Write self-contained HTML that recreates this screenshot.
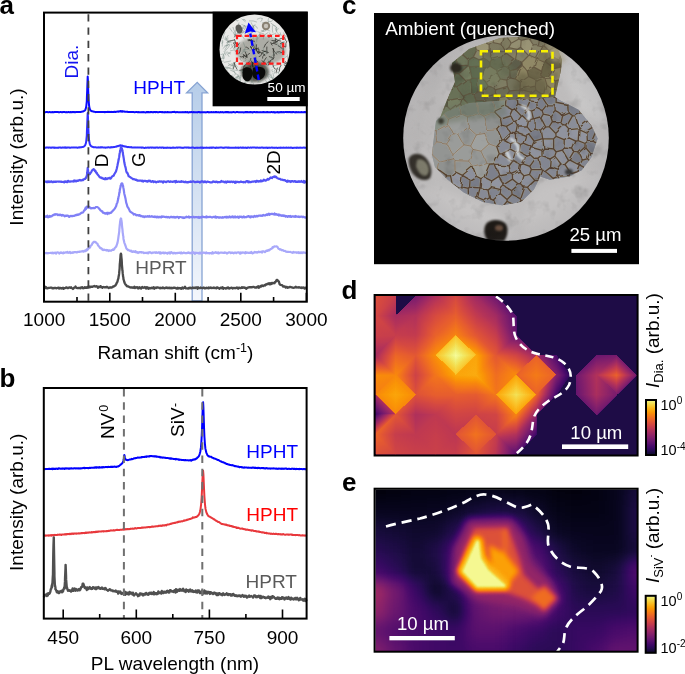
<!DOCTYPE html>
<html><head><meta charset="utf-8"><style>
html,body{margin:0;padding:0;background:#fff;}
svg{display:block;font-family:"Liberation Sans", sans-serif;filter:blur(0.4px);}
</style></head><body>
<svg width="685" height="674" viewBox="0 0 685 674">
<defs><filter id="be1" color-interpolation-filters="sRGB" x="-10%" y="-10%" width="120%" height="120%"><feGaussianBlur stdDeviation="7"/></filter><filter id="be2" color-interpolation-filters="sRGB" x="-20%" y="-20%" width="140%" height="140%"><feGaussianBlur stdDeviation="3.5"/></filter><filter id="be3" color-interpolation-filters="sRGB" x="-20%" y="-20%" width="140%" height="140%"><feGaussianBlur stdDeviation="2.4"/></filter><filter id="be4" color-interpolation-filters="sRGB" x="-20%" y="-20%" width="140%" height="140%"><feGaussianBlur stdDeviation="1.3"/></filter><clipPath id="clipe"><rect x="375.5" y="489.5" width="261.5" height="161.5"/></clipPath><filter id="infm" x="0" y="0" width="100%" height="100%" color-interpolation-filters="sRGB"><feComponentTransfer><feFuncR type="table" tableValues="0.0015 0.0060 0.0140 0.0258 0.0423 0.0613 0.0820 0.1046 0.1293 0.1558 0.1834 0.2111 0.2383 0.2648 0.2908 0.3163 0.3478 0.3728 0.3977 0.4225 0.4474 0.4723 0.4973 0.5222 0.5472 0.5721 0.5969 0.6217 0.6463 0.6706 0.6946 0.7183 0.7471 0.7696 0.7913 0.8122 0.8323 0.8514 0.8694 0.8863 0.9020 0.9165 0.9296 0.9415 0.9521 0.9613 0.9692 0.9757 0.9819 0.9853 0.9873 0.9879 0.9871 0.9849 0.9812 0.9761 0.9698 0.9625 0.9550 0.9487 0.9464 0.9517 0.9662 0.9884"/><feFuncG type="table" tableValues="0.0005 0.0047 0.0112 0.0193 0.0281 0.0366 0.0433 0.0470 0.0473 0.0446 0.0403 0.0370 0.0366 0.0396 0.0456 0.0535 0.0646 0.0739 0.0833 0.0925 0.1016 0.1105 0.1194 0.1281 0.1369 0.1458 0.1548 0.1642 0.1739 0.1842 0.1950 0.2066 0.2224 0.2361 0.2509 0.2668 0.2839 0.3023 0.3218 0.3426 0.3645 0.3875 0.4115 0.4364 0.4622 0.4887 0.5159 0.5438 0.5794 0.6084 0.6379 0.6677 0.6979 0.7284 0.7591 0.7900 0.8208 0.8515 0.8816 0.9105 0.9372 0.9606 0.9807 0.9984"/><feFuncB type="table" tableValues="0.0139 0.0386 0.0719 0.1059 0.1411 0.1776 0.2153 0.2534 0.2908 0.3253 0.3550 0.3786 0.3964 0.4093 0.4186 0.4251 0.4302 0.4324 0.4332 0.4327 0.4311 0.4283 0.4245 0.4195 0.4135 0.4064 0.3981 0.3888 0.3784 0.3669 0.3544 0.3409 0.3229 0.3075 0.2914 0.2747 0.2574 0.2396 0.2215 0.2030 0.1841 0.1649 0.1454 0.1254 0.1050 0.0843 0.0635 0.0436 0.0262 0.0242 0.0349 0.0583 0.0877 0.1208 0.1569 0.1960 0.2387 0.2855 0.3375 0.3953 0.4586 0.5242 0.5872 0.6449"/></feComponentTransfer></filter><linearGradient id="dg0" gradientUnits="userSpaceOnUse" x1="391.14" y1="306.44" x2="374.25" y2="299.10"><stop offset="0" stop-color="#878787"/><stop offset="1" stop-color="#999999"/></linearGradient><linearGradient id="dg1" gradientUnits="userSpaceOnUse" x1="396.64" y1="314.37" x2="382.86" y2="305.05"><stop offset="0" stop-color="#737373"/><stop offset="1" stop-color="#919191"/></linearGradient><linearGradient id="dg2" gradientUnits="userSpaceOnUse" x1="406.81" y1="297.76" x2="410.57" y2="316.81"><stop offset="0" stop-color="#545454"/><stop offset="1" stop-color="#7a7a7a"/></linearGradient><linearGradient id="dg3" gradientUnits="userSpaceOnUse" x1="416.10" y1="295.69" x2="425.96" y2="306.41"><stop offset="0" stop-color="#545454"/><stop offset="1" stop-color="#7a7a7a"/></linearGradient><linearGradient id="dg4" gradientUnits="userSpaceOnUse" x1="425.57" y1="305.20" x2="435.41" y2="316.18"><stop offset="0" stop-color="#787878"/><stop offset="1" stop-color="#949494"/></linearGradient><linearGradient id="dg5" gradientUnits="userSpaceOnUse" x1="437.21" y1="294.06" x2="459.90" y2="310.18"><stop offset="0" stop-color="#787878"/><stop offset="1" stop-color="#a3a3a3"/></linearGradient><linearGradient id="dg6" gradientUnits="userSpaceOnUse" x1="435.53" y1="296.17" x2="448.29" y2="319.89"><stop offset="0" stop-color="#787878"/><stop offset="1" stop-color="#a3a3a3"/></linearGradient><linearGradient id="dg7" gradientUnits="userSpaceOnUse" x1="475.92" y1="295.85" x2="451.97" y2="308.00"><stop offset="0" stop-color="#6e6e6e"/><stop offset="1" stop-color="#a3a3a3"/></linearGradient><linearGradient id="dg8" gradientUnits="userSpaceOnUse" x1="479.90" y1="301.13" x2="457.65" y2="318.06"><stop offset="0" stop-color="#6e6e6e"/><stop offset="1" stop-color="#a3a3a3"/></linearGradient><linearGradient id="dg9" gradientUnits="userSpaceOnUse" x1="495.72" y1="295.67" x2="485.87" y2="306.44"><stop offset="0" stop-color="#4c4c4c"/><stop offset="1" stop-color="#707070"/></linearGradient><linearGradient id="dg10" gradientUnits="userSpaceOnUse" x1="486.33" y1="305.05" x2="476.52" y2="316.24"><stop offset="0" stop-color="#6e6e6e"/><stop offset="1" stop-color="#858585"/></linearGradient><linearGradient id="dg11" gradientUnits="userSpaceOnUse" x1="508.20" y1="305.14" x2="495.32" y2="314.77"><stop offset="0" stop-color="#404040"/><stop offset="1" stop-color="#707070"/></linearGradient><linearGradient id="dg12" gradientUnits="userSpaceOnUse" x1="396.64" y1="317.21" x2="382.86" y2="326.53"><stop offset="0" stop-color="#737373"/><stop offset="1" stop-color="#919191"/></linearGradient><linearGradient id="dg13" gradientUnits="userSpaceOnUse" x1="385.55" y1="338.91" x2="377.73" y2="315.09"><stop offset="0" stop-color="#878787"/><stop offset="1" stop-color="#919191"/></linearGradient><linearGradient id="dg14" gradientUnits="userSpaceOnUse" x1="399.42" y1="314.41" x2="405.86" y2="331.82"><stop offset="0" stop-color="#737373"/><stop offset="1" stop-color="#878787"/></linearGradient><linearGradient id="dg15" gradientUnits="userSpaceOnUse" x1="412.51" y1="314.99" x2="406.77" y2="338.31"><stop offset="0" stop-color="#7a7a7a"/><stop offset="1" stop-color="#878787"/></linearGradient><linearGradient id="dg16" gradientUnits="userSpaceOnUse" x1="417.13" y1="313.85" x2="439.82" y2="329.97"><stop offset="0" stop-color="#7a7a7a"/><stop offset="1" stop-color="#a6a6a6"/></linearGradient><linearGradient id="dg17" gradientUnits="userSpaceOnUse" x1="412.60" y1="325.91" x2="436.53" y2="333.38"><stop offset="0" stop-color="#7a7a7a"/><stop offset="1" stop-color="#a6a6a6"/></linearGradient><linearGradient id="dg18" gradientUnits="userSpaceOnUse" x1="436.49" y1="315.24" x2="446.25" y2="326.79"><stop offset="0" stop-color="#949494"/><stop offset="1" stop-color="#a6a6a6"/></linearGradient><linearGradient id="dg19" gradientUnits="userSpaceOnUse" x1="445.59" y1="324.84" x2="455.40" y2="336.03"><stop offset="0" stop-color="#a3a3a3"/><stop offset="1" stop-color="#bababa"/></linearGradient><linearGradient id="dg20" gradientUnits="userSpaceOnUse" x1="476.46" y1="316.34" x2="464.75" y2="326.24"><stop offset="0" stop-color="#858585"/><stop offset="1" stop-color="#a3a3a3"/></linearGradient><linearGradient id="dg21" gradientUnits="userSpaceOnUse" x1="467.30" y1="325.10" x2="455.41" y2="334.96"><stop offset="0" stop-color="#9e9e9e"/><stop offset="1" stop-color="#bababa"/></linearGradient><linearGradient id="dg22" gradientUnits="userSpaceOnUse" x1="491.03" y1="311.81" x2="473.71" y2="333.78"><stop offset="0" stop-color="#707070"/><stop offset="1" stop-color="#9e9e9e"/></linearGradient><linearGradient id="dg23" gradientUnits="userSpaceOnUse" x1="499.28" y1="318.94" x2="479.49" y2="339.02"><stop offset="0" stop-color="#707070"/><stop offset="1" stop-color="#9e9e9e"/></linearGradient><linearGradient id="dg24" gradientUnits="userSpaceOnUse" x1="517.36" y1="320.28" x2="498.62" y2="325.28"><stop offset="0" stop-color="#404040"/><stop offset="1" stop-color="#707070"/></linearGradient><linearGradient id="dg25" gradientUnits="userSpaceOnUse" x1="512.07" y1="325.29" x2="494.73" y2="332.18"><stop offset="0" stop-color="#4c4c4c"/><stop offset="1" stop-color="#878787"/></linearGradient><linearGradient id="dg26" gradientUnits="userSpaceOnUse" x1="383.64" y1="354.49" x2="381.50" y2="334.93"><stop offset="0" stop-color="#737373"/><stop offset="1" stop-color="#8a8a8a"/></linearGradient><linearGradient id="dg27" gradientUnits="userSpaceOnUse" x1="382.36" y1="344.61" x2="396.76" y2="353.65"><stop offset="0" stop-color="#737373"/><stop offset="1" stop-color="#a8a8a8"/></linearGradient><linearGradient id="dg28" gradientUnits="userSpaceOnUse" x1="409.77" y1="334.99" x2="407.84" y2="354.59"><stop offset="0" stop-color="#858585"/><stop offset="1" stop-color="#9e9e9e"/></linearGradient><linearGradient id="dg29" gradientUnits="userSpaceOnUse" x1="405.47" y1="338.55" x2="399.98" y2="356.67"><stop offset="0" stop-color="#878787"/><stop offset="1" stop-color="#a8a8a8"/></linearGradient><linearGradient id="dg30" gradientUnits="userSpaceOnUse" x1="415.09" y1="336.43" x2="427.57" y2="346.17"><stop offset="0" stop-color="#858585"/><stop offset="1" stop-color="#a6a6a6"/></linearGradient><linearGradient id="dg31" gradientUnits="userSpaceOnUse" x1="424.18" y1="344.81" x2="436.45" y2="354.60"><stop offset="0" stop-color="#9e9e9e"/><stop offset="1" stop-color="#c2c2c2"/></linearGradient><linearGradient id="dg32" gradientUnits="userSpaceOnUse" x1="437.14" y1="334.65" x2="446.51" y2="347.72"><stop offset="0" stop-color="#a6a6a6"/><stop offset="1" stop-color="#c2c2c2"/></linearGradient><linearGradient id="dg33" gradientUnits="userSpaceOnUse" x1="445.93" y1="345.43" x2="455.82" y2="355.47"><stop offset="0" stop-color="#dbdbdb"/><stop offset="1" stop-color="#fcfcfc"/></linearGradient><linearGradient id="dg34" gradientUnits="userSpaceOnUse" x1="474.00" y1="334.38" x2="465.26" y2="348.90"><stop offset="0" stop-color="#9e9e9e"/><stop offset="1" stop-color="#cccccc"/></linearGradient><linearGradient id="dg35" gradientUnits="userSpaceOnUse" x1="465.91" y1="345.43" x2="456.02" y2="355.47"><stop offset="0" stop-color="#dbdbdb"/><stop offset="1" stop-color="#fcfcfc"/></linearGradient><linearGradient id="dg36" gradientUnits="userSpaceOnUse" x1="495.98" y1="335.48" x2="486.09" y2="345.52"><stop offset="0" stop-color="#878787"/><stop offset="1" stop-color="#9e9e9e"/></linearGradient><linearGradient id="dg37" gradientUnits="userSpaceOnUse" x1="485.99" y1="345.43" x2="476.10" y2="355.47"><stop offset="0" stop-color="#9e9e9e"/><stop offset="1" stop-color="#cccccc"/></linearGradient><linearGradient id="dg38" gradientUnits="userSpaceOnUse" x1="516.60" y1="336.69" x2="492.47" y2="346.27"><stop offset="0" stop-color="#4c4c4c"/><stop offset="1" stop-color="#9e9e9e"/></linearGradient><linearGradient id="dg39" gradientUnits="userSpaceOnUse" x1="512.65" y1="334.78" x2="507.38" y2="357.94"><stop offset="0" stop-color="#4c4c4c"/><stop offset="1" stop-color="#9e9e9e"/></linearGradient><linearGradient id="dg40" gradientUnits="userSpaceOnUse" x1="526.68" y1="340.36" x2="519.22" y2="356.76"><stop offset="0" stop-color="#4c4c4c"/><stop offset="1" stop-color="#8f8f8f"/></linearGradient><linearGradient id="dg41" gradientUnits="userSpaceOnUse" x1="375.12" y1="356.61" x2="399.25" y2="365.93"><stop offset="0" stop-color="#737373"/><stop offset="1" stop-color="#bdbdbd"/></linearGradient><linearGradient id="dg42" gradientUnits="userSpaceOnUse" x1="382.72" y1="355.60" x2="382.07" y2="375.37"><stop offset="0" stop-color="#737373"/><stop offset="1" stop-color="#bfbfbf"/></linearGradient><linearGradient id="dg43" gradientUnits="userSpaceOnUse" x1="407.60" y1="351.35" x2="395.83" y2="375.24"><stop offset="0" stop-color="#9e9e9e"/><stop offset="1" stop-color="#bdbdbd"/></linearGradient><linearGradient id="dg44" gradientUnits="userSpaceOnUse" x1="417.10" y1="371.57" x2="399.48" y2="364.98"><stop offset="0" stop-color="#8c8c8c"/><stop offset="1" stop-color="#bdbdbd"/></linearGradient><linearGradient id="dg45" gradientUnits="userSpaceOnUse" x1="420.30" y1="365.81" x2="437.19" y2="358.47"><stop offset="0" stop-color="#9e9e9e"/><stop offset="1" stop-color="#c2c2c2"/></linearGradient><linearGradient id="dg46" gradientUnits="userSpaceOnUse" x1="414.43" y1="372.36" x2="430.84" y2="364.59"><stop offset="0" stop-color="#8c8c8c"/><stop offset="1" stop-color="#b2b2b2"/></linearGradient><linearGradient id="dg47" gradientUnits="userSpaceOnUse" x1="445.93" y1="365.31" x2="455.82" y2="355.27"><stop offset="0" stop-color="#dbdbdb"/><stop offset="1" stop-color="#fcfcfc"/></linearGradient><linearGradient id="dg48" gradientUnits="userSpaceOnUse" x1="434.72" y1="373.32" x2="449.37" y2="364.40"><stop offset="0" stop-color="#b2b2b2"/><stop offset="1" stop-color="#cccccc"/></linearGradient><linearGradient id="dg49" gradientUnits="userSpaceOnUse" x1="465.91" y1="365.31" x2="456.02" y2="355.27"><stop offset="0" stop-color="#dbdbdb"/><stop offset="1" stop-color="#fcfcfc"/></linearGradient><linearGradient id="dg50" gradientUnits="userSpaceOnUse" x1="466.01" y1="365.22" x2="475.90" y2="375.26"><stop offset="0" stop-color="#cccccc"/><stop offset="1" stop-color="#cfcfcf"/></linearGradient><linearGradient id="dg51" gradientUnits="userSpaceOnUse" x1="496.41" y1="361.19" x2="475.28" y2="362.38"><stop offset="0" stop-color="#9e9e9e"/><stop offset="1" stop-color="#cfcfcf"/></linearGradient><linearGradient id="dg52" gradientUnits="userSpaceOnUse" x1="499.94" y1="363.62" x2="475.87" y2="374.89"><stop offset="0" stop-color="#9e9e9e"/><stop offset="1" stop-color="#cfcfcf"/></linearGradient><linearGradient id="dg53" gradientUnits="userSpaceOnUse" x1="511.93" y1="354.05" x2="506.31" y2="372.10"><stop offset="0" stop-color="#8f8f8f"/><stop offset="1" stop-color="#bfbfbf"/></linearGradient><linearGradient id="dg54" gradientUnits="userSpaceOnUse" x1="492.43" y1="359.57" x2="513.66" y2="378.03"><stop offset="0" stop-color="#9e9e9e"/><stop offset="1" stop-color="#bfbfbf"/></linearGradient><linearGradient id="dg55" gradientUnits="userSpaceOnUse" x1="529.55" y1="351.21" x2="515.07" y2="374.48"><stop offset="0" stop-color="#707070"/><stop offset="1" stop-color="#bfbfbf"/></linearGradient><linearGradient id="dg56" gradientUnits="userSpaceOnUse" x1="526.25" y1="365.22" x2="536.14" y2="375.26"><stop offset="0" stop-color="#a6a6a6"/><stop offset="1" stop-color="#b5b5b5"/></linearGradient><linearGradient id="dg57" gradientUnits="userSpaceOnUse" x1="557.36" y1="356.98" x2="543.19" y2="366.13"><stop offset="0" stop-color="#383838"/><stop offset="1" stop-color="#707070"/></linearGradient><linearGradient id="dg58" gradientUnits="userSpaceOnUse" x1="546.23" y1="365.22" x2="536.34" y2="375.26"><stop offset="0" stop-color="#a6a6a6"/><stop offset="1" stop-color="#b5b5b5"/></linearGradient><linearGradient id="dg59" gradientUnits="userSpaceOnUse" x1="586.31" y1="364.83" x2="596.18" y2="375.44"><stop offset="0" stop-color="#4c4c4c"/><stop offset="1" stop-color="#7a7a7a"/></linearGradient><linearGradient id="dg60" gradientUnits="userSpaceOnUse" x1="601.94" y1="354.47" x2="605.11" y2="373.74"><stop offset="0" stop-color="#4c4c4c"/><stop offset="1" stop-color="#7a7a7a"/></linearGradient><linearGradient id="dg61" gradientUnits="userSpaceOnUse" x1="605.89" y1="360.96" x2="614.02" y2="376.49"><stop offset="0" stop-color="#545454"/><stop offset="1" stop-color="#a6a6a6"/></linearGradient><linearGradient id="dg62" gradientUnits="userSpaceOnUse" x1="626.55" y1="365.22" x2="616.66" y2="375.26"><stop offset="0" stop-color="#545454"/><stop offset="1" stop-color="#a6a6a6"/></linearGradient><linearGradient id="dg63" gradientUnits="userSpaceOnUse" x1="385.55" y1="391.68" x2="379.69" y2="373.82"><stop offset="0" stop-color="#b8b8b8"/><stop offset="1" stop-color="#bfbfbf"/></linearGradient><linearGradient id="dg64" gradientUnits="userSpaceOnUse" x1="385.69" y1="385.01" x2="395.58" y2="395.05"><stop offset="0" stop-color="#bdbdbd"/><stop offset="1" stop-color="#cccccc"/></linearGradient><linearGradient id="dg65" gradientUnits="userSpaceOnUse" x1="416.96" y1="379.65" x2="398.22" y2="384.65"><stop offset="0" stop-color="#8c8c8c"/><stop offset="1" stop-color="#bdbdbd"/></linearGradient><linearGradient id="dg66" gradientUnits="userSpaceOnUse" x1="405.67" y1="385.01" x2="395.78" y2="395.05"><stop offset="0" stop-color="#bdbdbd"/><stop offset="1" stop-color="#cccccc"/></linearGradient><linearGradient id="dg67" gradientUnits="userSpaceOnUse" x1="414.44" y1="379.05" x2="432.46" y2="385.14"><stop offset="0" stop-color="#8c8c8c"/><stop offset="1" stop-color="#b2b2b2"/></linearGradient><linearGradient id="dg68" gradientUnits="userSpaceOnUse" x1="422.08" y1="399.10" x2="437.22" y2="376.07"><stop offset="0" stop-color="#999999"/><stop offset="1" stop-color="#b2b2b2"/></linearGradient><linearGradient id="dg69" gradientUnits="userSpaceOnUse" x1="445.18" y1="388.33" x2="454.01" y2="373.99"><stop offset="0" stop-color="#a3a3a3"/><stop offset="1" stop-color="#cccccc"/></linearGradient><linearGradient id="dg70" gradientUnits="userSpaceOnUse" x1="442.53" y1="394.95" x2="442.53" y2="375.16"><stop offset="0" stop-color="#a3a3a3"/><stop offset="1" stop-color="#b2b2b2"/></linearGradient><linearGradient id="dg71" gradientUnits="userSpaceOnUse" x1="461.78" y1="395.31" x2="463.07" y2="374.36"><stop offset="0" stop-color="#a3a3a3"/><stop offset="1" stop-color="#cfcfcf"/></linearGradient><linearGradient id="dg72" gradientUnits="userSpaceOnUse" x1="469.69" y1="395.30" x2="468.61" y2="375.56"><stop offset="0" stop-color="#a1a1a1"/><stop offset="1" stop-color="#cfcfcf"/></linearGradient><linearGradient id="dg73" gradientUnits="userSpaceOnUse" x1="496.93" y1="380.58" x2="477.32" y2="383.64"><stop offset="0" stop-color="#adadad"/><stop offset="1" stop-color="#cfcfcf"/></linearGradient><linearGradient id="dg74" gradientUnits="userSpaceOnUse" x1="479.63" y1="396.34" x2="486.25" y2="379.09"><stop offset="0" stop-color="#a1a1a1"/><stop offset="1" stop-color="#cfcfcf"/></linearGradient><linearGradient id="dg75" gradientUnits="userSpaceOnUse" x1="494.83" y1="379.46" x2="513.36" y2="384.83"><stop offset="0" stop-color="#adadad"/><stop offset="1" stop-color="#bfbfbf"/></linearGradient><linearGradient id="dg76" gradientUnits="userSpaceOnUse" x1="506.17" y1="385.01" x2="516.06" y2="395.05"><stop offset="0" stop-color="#cccccc"/><stop offset="1" stop-color="#ebebeb"/></linearGradient><linearGradient id="dg77" gradientUnits="userSpaceOnUse" x1="526.25" y1="385.10" x2="536.14" y2="375.06"><stop offset="0" stop-color="#a6a6a6"/><stop offset="1" stop-color="#b5b5b5"/></linearGradient><linearGradient id="dg78" gradientUnits="userSpaceOnUse" x1="526.15" y1="385.01" x2="516.26" y2="395.05"><stop offset="0" stop-color="#cccccc"/><stop offset="1" stop-color="#ebebeb"/></linearGradient><linearGradient id="dg79" gradientUnits="userSpaceOnUse" x1="546.23" y1="385.10" x2="536.34" y2="375.06"><stop offset="0" stop-color="#a6a6a6"/><stop offset="1" stop-color="#b5b5b5"/></linearGradient><linearGradient id="dg80" gradientUnits="userSpaceOnUse" x1="557.65" y1="391.18" x2="539.79" y2="384.88"><stop offset="0" stop-color="#333333"/><stop offset="1" stop-color="#a8a8a8"/></linearGradient><linearGradient id="dg81" gradientUnits="userSpaceOnUse" x1="574.94" y1="382.73" x2="597.07" y2="380.09"><stop offset="0" stop-color="#4a4a4a"/><stop offset="1" stop-color="#7a7a7a"/></linearGradient><linearGradient id="dg82" gradientUnits="userSpaceOnUse" x1="575.81" y1="390.02" x2="597.94" y2="387.38"><stop offset="0" stop-color="#4a4a4a"/><stop offset="1" stop-color="#7a7a7a"/></linearGradient><linearGradient id="dg83" gradientUnits="userSpaceOnUse" x1="605.89" y1="389.36" x2="614.02" y2="373.83"><stop offset="0" stop-color="#545454"/><stop offset="1" stop-color="#a6a6a6"/></linearGradient><linearGradient id="dg84" gradientUnits="userSpaceOnUse" x1="617.25" y1="390.55" x2="594.63" y2="387.02"><stop offset="0" stop-color="#545454"/><stop offset="1" stop-color="#7a7a7a"/></linearGradient><linearGradient id="dg85" gradientUnits="userSpaceOnUse" x1="626.55" y1="385.10" x2="616.66" y2="375.06"><stop offset="0" stop-color="#545454"/><stop offset="1" stop-color="#a6a6a6"/></linearGradient><linearGradient id="dg86" gradientUnits="userSpaceOnUse" x1="385.69" y1="404.89" x2="395.58" y2="394.85"><stop offset="0" stop-color="#bdbdbd"/><stop offset="1" stop-color="#cccccc"/></linearGradient><linearGradient id="dg87" gradientUnits="userSpaceOnUse" x1="375.33" y1="414.45" x2="386.36" y2="404.46"><stop offset="0" stop-color="#333333"/><stop offset="1" stop-color="#7a7a7a"/></linearGradient><linearGradient id="dg88" gradientUnits="userSpaceOnUse" x1="405.67" y1="404.89" x2="395.78" y2="394.85"><stop offset="0" stop-color="#bdbdbd"/><stop offset="1" stop-color="#cccccc"/></linearGradient><linearGradient id="dg89" gradientUnits="userSpaceOnUse" x1="416.11" y1="414.34" x2="404.79" y2="404.38"><stop offset="0" stop-color="#787878"/><stop offset="1" stop-color="#9e9e9e"/></linearGradient><linearGradient id="dg90" gradientUnits="userSpaceOnUse" x1="426.05" y1="411.77" x2="431.54" y2="393.65"><stop offset="0" stop-color="#828282"/><stop offset="1" stop-color="#a3a3a3"/></linearGradient><linearGradient id="dg91" gradientUnits="userSpaceOnUse" x1="420.06" y1="416.04" x2="425.55" y2="397.92"><stop offset="0" stop-color="#787878"/><stop offset="1" stop-color="#999999"/></linearGradient><linearGradient id="dg92" gradientUnits="userSpaceOnUse" x1="442.53" y1="414.74" x2="442.53" y2="394.95"><stop offset="0" stop-color="#828282"/><stop offset="1" stop-color="#a3a3a3"/></linearGradient><linearGradient id="dg93" gradientUnits="userSpaceOnUse" x1="442.60" y1="418.90" x2="456.96" y2="395.59"><stop offset="0" stop-color="#828282"/><stop offset="1" stop-color="#a3a3a3"/></linearGradient><linearGradient id="dg94" gradientUnits="userSpaceOnUse" x1="471.01" y1="415.36" x2="468.31" y2="393.42"><stop offset="0" stop-color="#8c8c8c"/><stop offset="1" stop-color="#a3a3a3"/></linearGradient><linearGradient id="dg95" gradientUnits="userSpaceOnUse" x1="463.61" y1="416.27" x2="460.91" y2="394.33"><stop offset="0" stop-color="#8c8c8c"/><stop offset="1" stop-color="#a3a3a3"/></linearGradient><linearGradient id="dg96" gradientUnits="userSpaceOnUse" x1="473.31" y1="412.42" x2="491.67" y2="391.14"><stop offset="0" stop-color="#8c8c8c"/><stop offset="1" stop-color="#b2b2b2"/></linearGradient><linearGradient id="dg97" gradientUnits="userSpaceOnUse" x1="488.86" y1="415.65" x2="490.34" y2="394.55"><stop offset="0" stop-color="#8c8c8c"/><stop offset="1" stop-color="#b2b2b2"/></linearGradient><linearGradient id="dg98" gradientUnits="userSpaceOnUse" x1="506.17" y1="404.89" x2="516.06" y2="394.85"><stop offset="0" stop-color="#cccccc"/><stop offset="1" stop-color="#ebebeb"/></linearGradient><linearGradient id="dg99" gradientUnits="userSpaceOnUse" x1="495.59" y1="414.15" x2="507.41" y2="404.27"><stop offset="0" stop-color="#8f8f8f"/><stop offset="1" stop-color="#bababa"/></linearGradient><linearGradient id="dg100" gradientUnits="userSpaceOnUse" x1="526.15" y1="404.89" x2="516.26" y2="394.85"><stop offset="0" stop-color="#cccccc"/><stop offset="1" stop-color="#ebebeb"/></linearGradient><linearGradient id="dg101" gradientUnits="userSpaceOnUse" x1="536.85" y1="413.98" x2="524.60" y2="404.19"><stop offset="0" stop-color="#666666"/><stop offset="1" stop-color="#bababa"/></linearGradient><linearGradient id="dg102" gradientUnits="userSpaceOnUse" x1="550.16" y1="405.69" x2="535.05" y2="397.03"><stop offset="0" stop-color="#333333"/><stop offset="1" stop-color="#a8a8a8"/></linearGradient><linearGradient id="dg103" gradientUnits="userSpaceOnUse" x1="585.63" y1="405.26" x2="596.78" y2="395.29"><stop offset="0" stop-color="#4a4a4a"/><stop offset="1" stop-color="#757575"/></linearGradient><linearGradient id="dg104" gradientUnits="userSpaceOnUse" x1="606.87" y1="405.87" x2="597.09" y2="394.43"><stop offset="0" stop-color="#4f4f4f"/><stop offset="1" stop-color="#757575"/></linearGradient><linearGradient id="dg105" gradientUnits="userSpaceOnUse" x1="376.03" y1="414.35" x2="385.87" y2="425.33"><stop offset="0" stop-color="#383838"/><stop offset="1" stop-color="#a8a8a8"/></linearGradient><linearGradient id="dg106" gradientUnits="userSpaceOnUse" x1="396.57" y1="433.26" x2="383.13" y2="423.82"><stop offset="0" stop-color="#878787"/><stop offset="1" stop-color="#a8a8a8"/></linearGradient><linearGradient id="dg107" gradientUnits="userSpaceOnUse" x1="416.97" y1="419.20" x2="398.26" y2="424.26"><stop offset="0" stop-color="#787878"/><stop offset="1" stop-color="#9e9e9e"/></linearGradient><linearGradient id="dg108" gradientUnits="userSpaceOnUse" x1="404.36" y1="437.03" x2="399.31" y2="413.95"><stop offset="0" stop-color="#828282"/><stop offset="1" stop-color="#9e9e9e"/></linearGradient><linearGradient id="dg109" gradientUnits="userSpaceOnUse" x1="415.86" y1="414.64" x2="425.75" y2="424.68"><stop offset="0" stop-color="#787878"/><stop offset="1" stop-color="#828282"/></linearGradient><linearGradient id="dg110" gradientUnits="userSpaceOnUse" x1="425.85" y1="424.59" x2="435.74" y2="434.63"><stop offset="0" stop-color="#828282"/><stop offset="1" stop-color="#878787"/></linearGradient><linearGradient id="dg111" gradientUnits="userSpaceOnUse" x1="445.45" y1="425.93" x2="455.16" y2="414.11"><stop offset="0" stop-color="#808080"/><stop offset="1" stop-color="#8f8f8f"/></linearGradient><linearGradient id="dg112" gradientUnits="userSpaceOnUse" x1="448.66" y1="423.79" x2="434.88" y2="433.11"><stop offset="0" stop-color="#808080"/><stop offset="1" stop-color="#878787"/></linearGradient><linearGradient id="dg113" gradientUnits="userSpaceOnUse" x1="464.55" y1="433.11" x2="461.38" y2="413.84"><stop offset="0" stop-color="#808080"/><stop offset="1" stop-color="#8f8f8f"/></linearGradient><linearGradient id="dg114" gradientUnits="userSpaceOnUse" x1="466.01" y1="424.59" x2="475.90" y2="434.63"><stop offset="0" stop-color="#9c9c9c"/><stop offset="1" stop-color="#b0b0b0"/></linearGradient><linearGradient id="dg115" gradientUnits="userSpaceOnUse" x1="486.13" y1="431.26" x2="491.99" y2="413.40"><stop offset="0" stop-color="#878787"/><stop offset="1" stop-color="#8f8f8f"/></linearGradient><linearGradient id="dg116" gradientUnits="userSpaceOnUse" x1="485.99" y1="424.59" x2="476.10" y2="434.63"><stop offset="0" stop-color="#9c9c9c"/><stop offset="1" stop-color="#b0b0b0"/></linearGradient><linearGradient id="dg117" gradientUnits="userSpaceOnUse" x1="494.00" y1="422.91" x2="516.89" y2="418.81"><stop offset="0" stop-color="#878787"/><stop offset="1" stop-color="#bababa"/></linearGradient><linearGradient id="dg118" gradientUnits="userSpaceOnUse" x1="510.97" y1="435.55" x2="507.21" y2="416.50"><stop offset="0" stop-color="#7a7a7a"/><stop offset="1" stop-color="#bababa"/></linearGradient><linearGradient id="dg119" gradientUnits="userSpaceOnUse" x1="528.08" y1="425.35" x2="515.46" y2="415.65"><stop offset="0" stop-color="#666666"/><stop offset="1" stop-color="#bababa"/></linearGradient><linearGradient id="dg120" gradientUnits="userSpaceOnUse" x1="537.07" y1="433.39" x2="523.90" y2="423.84"><stop offset="0" stop-color="#333333"/><stop offset="1" stop-color="#7a7a7a"/></linearGradient><linearGradient id="dg121" gradientUnits="userSpaceOnUse" x1="396.80" y1="439.30" x2="377.76" y2="443.76"><stop offset="0" stop-color="#878787"/><stop offset="1" stop-color="#a8a8a8"/></linearGradient><linearGradient id="dg122" gradientUnits="userSpaceOnUse" x1="389.36" y1="458.47" x2="374.22" y2="435.44"><stop offset="0" stop-color="#8f8f8f"/><stop offset="1" stop-color="#a8a8a8"/></linearGradient><linearGradient id="dg123" gradientUnits="userSpaceOnUse" x1="409.44" y1="430.38" x2="394.30" y2="453.41"><stop offset="0" stop-color="#828282"/><stop offset="1" stop-color="#8f8f8f"/></linearGradient><linearGradient id="dg124" gradientUnits="userSpaceOnUse" x1="417.14" y1="435.44" x2="402.00" y2="458.47"><stop offset="0" stop-color="#828282"/><stop offset="1" stop-color="#8f8f8f"/></linearGradient><linearGradient id="dg125" gradientUnits="userSpaceOnUse" x1="415.84" y1="434.38" x2="439.79" y2="446.53"><stop offset="0" stop-color="#828282"/><stop offset="1" stop-color="#8a8a8a"/></linearGradient><linearGradient id="dg126" gradientUnits="userSpaceOnUse" x1="422.45" y1="434.53" x2="422.45" y2="454.32"><stop offset="0" stop-color="#828282"/><stop offset="1" stop-color="#8a8a8a"/></linearGradient><linearGradient id="dg127" gradientUnits="userSpaceOnUse" x1="456.55" y1="436.39" x2="432.52" y2="444.51"><stop offset="0" stop-color="#808080"/><stop offset="1" stop-color="#8a8a8a"/></linearGradient><linearGradient id="dg128" gradientUnits="userSpaceOnUse" x1="453.79" y1="433.83" x2="445.97" y2="457.65"><stop offset="0" stop-color="#808080"/><stop offset="1" stop-color="#8a8a8a"/></linearGradient><linearGradient id="dg129" gradientUnits="userSpaceOnUse" x1="466.01" y1="444.47" x2="475.90" y2="434.43"><stop offset="0" stop-color="#9c9c9c"/><stop offset="1" stop-color="#b0b0b0"/></linearGradient><linearGradient id="dg130" gradientUnits="userSpaceOnUse" x1="452.60" y1="444.34" x2="476.63" y2="452.46"><stop offset="0" stop-color="#808080"/><stop offset="1" stop-color="#9e9e9e"/></linearGradient><linearGradient id="dg131" gradientUnits="userSpaceOnUse" x1="485.99" y1="444.47" x2="476.10" y2="434.43"><stop offset="0" stop-color="#9c9c9c"/><stop offset="1" stop-color="#b0b0b0"/></linearGradient><linearGradient id="dg132" gradientUnits="userSpaceOnUse" x1="497.25" y1="449.72" x2="478.38" y2="444.93"><stop offset="0" stop-color="#808080"/><stop offset="1" stop-color="#9e9e9e"/></linearGradient><linearGradient id="dg133" gradientUnits="userSpaceOnUse" x1="512.46" y1="455.11" x2="507.53" y2="432.08"><stop offset="0" stop-color="#404040"/><stop offset="1" stop-color="#878787"/></linearGradient><linearGradient id="dg134" gradientUnits="userSpaceOnUse" x1="516.76" y1="449.43" x2="494.59" y2="446.73"><stop offset="0" stop-color="#404040"/><stop offset="1" stop-color="#878787"/></linearGradient><linearGradient id="dg135" gradientUnits="userSpaceOnUse" x1="527.51" y1="445.01" x2="515.66" y2="435.13"><stop offset="0" stop-color="#333333"/><stop offset="1" stop-color="#7a7a7a"/></linearGradient><linearGradient id="dg136" gradientUnits="userSpaceOnUse" x1="565.68" y1="366.26" x2="554.60" y2="371.61"><stop offset="0" stop-color="#292929"/><stop offset="1" stop-color="#5c5c5c"/></linearGradient><linearGradient id="dg137" gradientUnits="userSpaceOnUse" x1="565.07" y1="384.09" x2="554.59" y2="378.29"><stop offset="0" stop-color="#292929"/><stop offset="1" stop-color="#5c5c5c"/></linearGradient><linearGradient id="cbd" x1="0" y1="1" x2="0" y2="0"><stop offset="0" stop-color="#121212"/><stop offset="1" stop-color="#f8f8f8"/></linearGradient><clipPath id="circc"><circle cx="506" cy="138" r="102.8"/></clipPath><clipPath id="clipmain"><polygon points="436.0,121.0 446.0,112.0 469.0,103.0 509.0,100.0 555.0,97.0 559.4,100.1 578.5,109.7 591.3,125.6 597.6,138.4 591.3,157.5 581.7,170.3 569.0,176.6 549.8,179.8 540.3,176.6 533.9,189.4 521.1,202.1 502.0,205.3 482.9,202.1 463.8,192.6 447.8,179.8 435.0,167.1 431.9,154.3"/></clipPath><clipPath id="clipup"><polygon points="452.0,63.0 469.0,49.0 500.0,38.0 535.0,36.0 556.0,44.0 562.0,60.0 561.0,70.0 555.0,97.0 509.0,100.0 469.0,103.0 446.0,112.0 440.0,118.0 447.0,100.0 455.0,82.0"/></clipPath><filter id="bc2" color-interpolation-filters="sRGB" x="-20%" y="-20%" width="140%" height="140%"><feGaussianBlur stdDeviation="2.2"/></filter><filter id="bc1" color-interpolation-filters="sRGB" x="-20%" y="-20%" width="140%" height="140%"><feGaussianBlur stdDeviation="0.6"/></filter><filter id="wig" color-interpolation-filters="sRGB" x="-5%" y="-5%" width="110%" height="110%"><feTurbulence type="fractalNoise" baseFrequency="0.09" numOctaves="2" seed="4" result="t"/><feDisplacementMap in="SourceGraphic" in2="t" scale="4.5" result="d"/><feGaussianBlur in="d" stdDeviation="0.35" xChannelSelector="R" yChannelSelector="G"/></filter><filter id="bcs" color-interpolation-filters="sRGB" x="0" y="0" width="100%" height="100%"><feGaussianBlur stdDeviation="0.45"/></filter><filter id="bc2s" color-interpolation-filters="sRGB" x="-30%" y="-30%" width="160%" height="160%"><feGaussianBlur stdDeviation="1.0"/></filter><filter id="grain" color-interpolation-filters="sRGB" x="0" y="0" width="100%" height="100%"><feTurbulence type="fractalNoise" baseFrequency="0.07" numOctaves="3" seed="8" result="n"/><feColorMatrix in="n" type="matrix" values="0.33 0.33 0.33 0 0 0.33 0.33 0.33 0 0 0.33 0.33 0.33 0 0 0 0 0 0 1" result="g"/><feComponentTransfer in="g" result="g2"><feFuncR type="linear" slope="0.55" intercept="0.74"/><feFuncG type="linear" slope="0.55" intercept="0.74"/><feFuncB type="linear" slope="0.55" intercept="0.74"/></feComponentTransfer><feBlend in="SourceGraphic" in2="g2" mode="multiply"/></filter><filter id="bc4" color-interpolation-filters="sRGB" x="-30%" y="-30%" width="160%" height="160%"><feGaussianBlur stdDeviation="4"/></filter><radialGradient id="vig" cx="506" cy="138" r="102.8" gradientUnits="userSpaceOnUse"><stop offset="0.8" stop-color="#000" stop-opacity="0"/><stop offset="1" stop-color="#404050" stop-opacity="0.06"/></radialGradient><clipPath id="circi"><circle cx="254.6" cy="49.5" r="35.1"/></clipPath><filter id="bi1" color-interpolation-filters="sRGB" x="-10%" y="-10%" width="120%" height="120%"><feGaussianBlur stdDeviation="0.5"/></filter><filter id="bi2" color-interpolation-filters="sRGB" x="-30%" y="-30%" width="160%" height="160%"><feGaussianBlur stdDeviation="1.6"/></filter><linearGradient id="arrg" x1="0" y1="0" x2="0" y2="1"><stop offset="0" stop-color="#b6cde9"/><stop offset="1" stop-color="#f3f6fc"/></linearGradient></defs>
<rect width="685" height="674" fill="#fff"/>
<text x="-0.5" y="14" font-size="26" font-weight="bold">a</text>
<path d="M192.2 301V92.8H186.6L197.2 82.4L207.6 92.8H202V301Z" fill="url(#arrg)" stroke="#86a3d3" stroke-width="1.3" stroke-linejoin="miter"/>
<path d="M44.2 112.2L44.8 112.2L45.5 112.2L46.1 112.1L46.7 112.1L47.3 112.1L48.0 112.2L48.6 112.3L49.2 112.1L49.8 112.1L50.5 112.2L51.1 112.2L51.7 112.2L52.3 112.1L53.0 112.2L53.6 112.3L54.2 112.0L54.8 112.1L55.5 112.0L56.1 112.0L56.7 112.0L57.3 112.1L58.0 112.0L58.6 112.2L59.2 112.2L59.8 112.2L60.5 111.9L61.1 112.1L61.7 112.2L62.3 112.2L63.0 112.0L63.6 112.1L64.2 112.0L64.9 112.1L65.5 112.3L66.1 112.1L66.7 112.2L67.4 112.3L68.0 112.1L68.6 112.1L69.2 112.2L69.9 112.2L70.5 112.0L71.1 112.1L71.7 112.3L72.4 111.9L73.0 112.2L73.6 112.1L74.2 112.0L74.9 112.3L75.5 112.2L76.1 111.9L76.7 112.1L77.4 112.1L78.0 112.0L78.6 112.1L79.2 112.0L79.9 112.0L80.5 112.1L81.1 111.8L81.7 111.8L82.4 111.6L83.0 111.5L83.6 111.2L84.2 110.9L84.9 110.4L85.1 110.2L85.4 109.8L85.5 109.2L85.6 108.9L85.9 108.2L86.1 106.8L86.2 106.9L86.4 105.1L86.7 102.4L86.8 101.2L86.9 97.6L87.2 90.5L87.4 84.4L87.5 81.8L87.7 76.6L88.0 81.5L88.0 82.2L88.2 90.5L88.5 97.6L88.6 99.8L88.8 102.2L89.0 105.0L89.3 106.8L89.3 107.0L89.6 108.2L89.8 109.1L89.9 109.1L90.1 109.8L90.3 110.1L90.5 110.4L91.1 110.8L91.8 111.3L92.4 111.3L93.0 111.4L93.6 111.7L94.3 111.7L94.9 111.9L95.5 112.2L96.1 111.9L96.8 111.9L97.4 112.0L98.0 112.1L98.6 112.0L99.3 112.0L99.9 112.1L100.5 112.1L101.1 111.9L101.8 112.1L102.4 112.1L103.0 111.9L103.6 112.1L104.3 112.0L104.9 112.2L105.5 112.1L106.2 112.1L106.8 112.0L107.4 112.0L108.0 111.8L108.7 111.9L109.3 112.1L109.9 111.8L110.5 112.1L111.2 111.8L111.8 112.1L112.4 111.9L113.0 112.0L113.7 111.9L114.3 111.7L114.9 112.0L115.5 112.0L116.2 111.7L116.8 111.7L117.4 111.6L118.0 111.4L118.3 111.7L118.5 111.5L118.7 111.5L118.8 111.4L119.1 111.4L119.3 111.3L119.3 111.6L119.6 111.4L119.8 111.5L119.9 111.4L120.1 111.3L120.4 111.4L120.5 111.3L120.6 111.4L120.9 111.3L121.2 111.4L121.2 111.2L121.4 111.3L121.7 111.6L121.8 111.3L121.9 111.3L122.2 111.5L122.4 111.6L122.5 111.3L122.7 111.4L123.0 111.4L123.0 111.3L123.3 111.6L123.5 111.5L123.7 111.6L124.3 111.5L124.9 111.7L125.6 111.7L126.2 111.8L126.8 111.7L127.4 111.7L128.1 112.1L128.7 111.9L129.3 112.0L129.9 112.0L130.6 112.0L131.2 112.0L131.8 112.1L132.4 112.0L133.1 112.0L133.7 112.1L134.3 112.2L134.9 112.2L135.6 112.1L136.2 112.0L136.8 111.9L137.4 112.2L138.1 112.2L138.7 112.1L139.3 112.2L139.9 112.2L140.6 112.2L141.2 112.3L141.8 112.1L142.4 112.3L143.1 112.0L143.7 112.3L144.3 112.2L144.9 112.3L145.6 112.4L146.2 112.3L146.8 112.0L147.5 112.0L148.1 112.3L148.7 112.0L149.3 112.2L150.0 112.3L150.6 112.0L151.2 111.9L151.8 112.2L152.5 112.2L153.1 112.1L153.7 112.2L154.3 112.1L155.0 112.0L155.6 112.2L156.2 112.1L156.8 112.0L157.5 112.2L158.1 112.2L158.7 112.2L159.3 112.1L160.0 112.1L160.6 112.1L161.2 112.1L161.8 112.2L162.5 112.1L163.1 112.2L163.7 112.2L164.3 112.4L165.0 112.0L165.6 112.3L166.2 112.2L166.9 112.2L167.5 112.0L168.1 112.1L168.7 112.3L169.4 112.2L170.0 112.2L170.6 112.2L171.2 112.3L171.9 112.2L172.5 111.9L173.1 112.1L173.7 112.0L174.4 111.8L175.0 112.1L175.6 112.4L176.2 112.2L176.9 112.1L177.5 112.1L178.1 112.3L178.7 112.2L179.4 112.2L180.0 112.2L180.6 112.2L181.2 112.3L181.9 112.3L182.5 112.2L183.1 112.1L183.7 112.3L184.4 112.1L185.0 112.3L185.6 112.0L186.3 112.2L186.9 112.2L187.5 112.0L188.1 112.4L188.8 112.4L189.4 112.1L190.0 112.3L190.6 112.2L191.3 111.9L191.9 112.2L192.5 112.2L193.1 112.2L193.8 112.1L194.4 112.2L195.0 112.2L195.6 112.3L196.3 112.2L196.9 112.2L197.5 112.4L198.1 112.1L198.8 112.1L199.4 112.0L200.0 112.4L200.6 112.3L201.3 112.3L201.9 112.3L202.5 112.2L203.1 112.2L203.8 112.2L204.4 112.2L205.0 112.2L205.7 112.4L206.3 112.3L206.9 112.2L207.5 112.1L208.2 112.1L208.8 112.4L209.4 112.3L210.0 112.2L210.7 112.2L211.3 112.1L211.9 112.2L212.5 112.3L213.2 112.1L213.8 112.2L214.4 112.2L215.0 112.2L215.7 112.0L216.3 112.2L216.9 112.1L217.5 112.3L218.2 112.1L218.8 112.3L219.4 112.4L220.0 112.2L220.7 112.1L221.3 112.2L221.9 112.2L222.5 112.1L223.2 112.3L223.8 112.4L224.4 112.2L225.0 112.2L225.7 112.1L226.3 112.2L226.9 112.0L227.6 112.1L228.2 112.4L228.8 112.1L229.4 112.3L230.1 112.4L230.7 112.2L231.3 112.3L231.9 112.4L232.6 112.2L233.2 112.1L233.8 112.0L234.4 112.2L235.1 112.4L235.7 112.3L236.3 112.1L236.9 112.1L237.6 112.1L238.2 112.2L238.8 112.2L239.4 112.2L240.1 112.2L240.7 112.2L241.3 112.2L241.9 112.2L242.6 112.2L243.2 112.3L243.8 112.4L244.4 112.3L245.1 112.2L245.7 112.0L246.3 112.2L247.0 112.0L247.6 112.0L248.2 112.3L248.8 112.3L249.5 112.2L250.1 112.0L250.7 112.2L251.3 112.1L252.0 112.3L252.6 112.5L253.2 112.2L253.8 112.1L254.5 112.1L255.1 112.2L255.7 112.2L256.3 112.1L257.0 112.2L257.6 112.1L258.2 112.3L258.8 112.3L259.5 112.3L260.1 112.1L260.7 112.3L261.3 112.2L262.0 112.2L262.6 112.2L263.2 112.0L263.8 112.0L264.5 112.3L265.1 112.2L265.7 112.2L266.4 112.3L267.0 112.0L267.6 112.1L268.2 112.2L268.9 112.2L269.5 112.2L270.1 112.3L270.7 112.2L271.4 112.1L272.0 112.1L272.6 112.3L273.2 112.3L273.9 112.0L274.5 112.4L275.1 112.3L275.7 112.4L276.4 112.2L277.0 112.2L277.6 112.1L278.2 112.5L278.9 112.2L279.5 112.4L280.1 112.1L280.7 112.2L281.4 112.0L282.0 112.2L282.6 112.3L283.2 112.0L283.9 112.3L284.5 112.2L285.1 112.1L285.7 112.1L286.4 112.1L287.0 112.2L287.6 112.1L288.3 112.1L288.9 112.2L289.5 112.1L290.1 112.0L290.8 112.2L291.4 112.3L292.0 112.0L292.6 112.2L293.3 112.1L293.9 112.1L294.5 112.3L295.1 112.1L295.8 112.4L296.4 112.1L297.0 112.2L297.6 112.2L298.3 112.1L298.9 112.3L299.5 112.2L300.1 112.3L300.8 112.2L301.4 112.1L302.0 112.2L302.6 112.2L303.3 112.3L303.9 112.1L304.5 112.2L305.1 112.0L305.8 112.3L306.4 112.1" fill="none" stroke="#0a0aff" stroke-width="2.0" stroke-linejoin="round"/>
<path d="M44.2 147.5L44.8 147.7L45.5 147.8L46.1 147.5L46.7 147.6L47.3 147.6L48.0 147.5L48.6 147.7L49.2 147.6L49.8 147.6L50.5 147.7L51.1 147.6L51.7 147.7L52.3 147.6L53.0 147.5L53.6 147.5L54.2 147.9L54.8 147.6L55.5 147.7L56.1 147.7L56.7 147.7L57.3 147.7L58.0 147.9L58.6 147.5L59.2 147.5L59.8 147.5L60.5 147.5L61.1 147.8L61.7 147.8L62.3 147.5L63.0 147.5L63.6 147.6L64.2 147.8L64.9 147.3L65.5 147.7L66.1 147.5L66.7 147.8L67.4 147.5L68.0 147.6L68.6 147.5L69.2 147.5L69.9 147.8L70.5 147.7L71.1 147.6L71.7 147.5L72.4 147.4L73.0 147.6L73.6 147.6L74.2 147.6L74.9 147.6L75.5 147.4L76.1 147.5L76.7 147.5L77.4 147.7L78.0 147.7L78.6 147.4L79.2 147.3L79.9 147.4L80.5 147.3L81.1 147.2L81.7 147.2L82.4 146.9L83.0 147.0L83.6 146.6L84.2 146.3L84.9 145.6L85.1 145.2L85.4 144.6L85.5 144.4L85.6 144.0L85.9 143.1L86.1 141.8L86.2 141.5L86.4 139.7L86.7 136.4L86.8 135.3L86.9 131.9L87.2 124.8L87.4 119.6L87.5 117.2L87.7 113.1L88.0 117.1L88.0 117.6L88.2 125.0L88.5 131.9L88.6 134.2L88.8 136.6L89.0 139.5L89.3 141.4L89.3 141.7L89.6 143.0L89.8 144.0L89.9 144.2L90.1 144.5L90.3 145.3L90.5 145.5L91.1 146.2L91.8 146.6L92.4 146.8L93.0 147.0L93.6 147.2L94.3 147.3L94.9 147.3L95.5 147.2L96.1 147.4L96.8 147.5L97.4 147.5L98.0 147.5L98.6 147.3L99.3 147.6L99.9 147.5L100.5 147.2L101.1 147.5L101.8 147.3L102.4 147.3L103.0 147.4L103.6 147.6L104.3 147.4L104.9 147.5L105.5 147.7L106.2 147.6L106.8 147.4L107.4 147.4L108.0 147.3L108.7 147.3L109.3 147.4L109.9 147.4L110.5 147.3L111.2 147.4L111.8 147.1L112.4 147.2L113.0 147.2L113.7 147.1L114.3 147.1L114.9 146.9L115.5 146.7L116.2 146.7L116.8 146.3L117.4 146.1L118.0 146.2L118.3 146.0L118.5 146.0L118.7 145.7L118.8 145.8L119.1 145.7L119.3 145.6L119.3 145.4L119.6 145.6L119.8 145.7L119.9 145.6L120.1 145.5L120.4 145.5L120.5 145.6L120.6 145.2L120.9 145.5L121.2 145.6L121.2 145.6L121.4 145.7L121.7 145.7L121.8 145.6L121.9 145.6L122.2 145.7L122.4 145.6L122.5 145.7L122.7 145.9L123.0 146.1L123.0 145.9L123.3 145.9L123.5 146.1L123.7 146.2L124.3 146.3L124.9 146.6L125.6 146.5L126.2 146.7L126.8 146.8L127.4 147.1L128.1 147.2L128.7 146.9L129.3 147.1L129.9 147.3L130.6 147.2L131.2 147.1L131.8 147.5L132.4 147.5L133.1 147.5L133.7 147.4L134.3 147.6L134.9 147.5L135.6 147.6L136.2 147.4L136.8 147.4L137.4 147.6L138.1 147.5L138.7 147.6L139.3 147.6L139.9 147.5L140.6 147.6L141.2 147.5L141.8 147.7L142.4 147.5L143.1 147.6L143.7 147.8L144.3 147.9L144.9 147.9L145.6 147.6L146.2 147.7L146.8 147.8L147.5 147.6L148.1 147.5L148.7 147.7L149.3 147.7L150.0 147.5L150.6 147.4L151.2 147.5L151.8 147.7L152.5 147.6L153.1 147.6L153.7 147.7L154.3 147.7L155.0 147.6L155.6 147.7L156.2 147.6L156.8 147.6L157.5 147.5L158.1 147.8L158.7 147.7L159.3 147.6L160.0 147.6L160.6 147.6L161.2 147.8L161.8 147.5L162.5 147.5L163.1 147.6L163.7 148.0L164.3 147.8L165.0 147.7L165.6 147.8L166.2 147.9L166.9 147.6L167.5 147.6L168.1 147.8L168.7 147.7L169.4 147.8L170.0 147.6L170.6 147.9L171.2 147.9L171.9 147.7L172.5 147.8L173.1 147.4L173.7 147.8L174.4 147.7L175.0 147.7L175.6 147.8L176.2 147.6L176.9 147.5L177.5 147.7L178.1 147.6L178.7 147.6L179.4 147.6L180.0 147.6L180.6 147.4L181.2 147.8L181.9 147.7L182.5 147.8L183.1 147.9L183.7 147.7L184.4 147.5L185.0 147.6L185.6 147.5L186.3 147.6L186.9 147.7L187.5 147.4L188.1 147.7L188.8 147.5L189.4 147.7L190.0 147.7L190.6 147.7L191.3 147.7L191.9 147.6L192.5 147.6L193.1 147.5L193.8 147.7L194.4 147.9L195.0 147.9L195.6 147.8L196.3 147.8L196.9 147.6L197.5 147.9L198.1 147.7L198.8 147.7L199.4 147.7L200.0 147.7L200.6 147.6L201.3 147.7L201.9 147.6L202.5 147.6L203.1 148.0L203.8 147.7L204.4 147.7L205.0 147.8L205.7 147.8L206.3 147.6L206.9 147.7L207.5 147.8L208.2 147.7L208.8 147.7L209.4 147.9L210.0 147.6L210.7 147.7L211.3 147.6L211.9 147.9L212.5 147.5L213.2 147.6L213.8 147.6L214.4 147.8L215.0 147.8L215.7 147.9L216.3 147.5L216.9 147.8L217.5 147.7L218.2 147.6L218.8 147.8L219.4 147.6L220.0 147.4L220.7 147.6L221.3 147.5L221.9 147.6L222.5 147.7L223.2 147.7L223.8 147.9L224.4 147.7L225.0 147.5L225.7 147.6L226.3 147.6L226.9 147.5L227.6 147.7L228.2 147.6L228.8 147.5L229.4 147.8L230.1 147.7L230.7 147.7L231.3 147.7L231.9 147.8L232.6 147.7L233.2 147.8L233.8 147.7L234.4 147.7L235.1 147.7L235.7 147.5L236.3 147.7L236.9 147.7L237.6 147.7L238.2 147.5L238.8 147.9L239.4 147.7L240.1 147.6L240.7 147.5L241.3 147.7L241.9 147.7L242.6 147.6L243.2 147.7L243.8 147.6L244.4 147.8L245.1 147.6L245.7 147.7L246.3 147.8L247.0 148.0L247.6 147.6L248.2 147.6L248.8 147.6L249.5 147.8L250.1 147.6L250.7 147.6L251.3 147.7L252.0 147.6L252.6 147.6L253.2 147.6L253.8 147.4L254.5 147.5L255.1 147.6L255.7 147.7L256.3 147.7L257.0 147.5L257.6 147.6L258.2 147.8L258.8 147.8L259.5 147.7L260.1 147.6L260.7 147.8L261.3 147.6L262.0 147.6L262.6 147.6L263.2 147.9L263.8 147.7L264.5 147.8L265.1 147.6L265.7 147.8L266.4 147.6L267.0 147.7L267.6 148.0L268.2 147.8L268.9 147.6L269.5 147.7L270.1 147.7L270.7 147.8L271.4 147.6L272.0 147.5L272.6 147.7L273.2 147.7L273.9 147.7L274.5 147.9L275.1 147.7L275.7 147.8L276.4 147.6L277.0 147.8L277.6 147.9L278.2 147.8L278.9 147.7L279.5 147.7L280.1 147.9L280.7 147.6L281.4 147.7L282.0 147.8L282.6 147.8L283.2 147.6L283.9 147.7L284.5 147.7L285.1 147.7L285.7 147.7L286.4 147.6L287.0 147.7L287.6 147.8L288.3 147.6L288.9 147.7L289.5 147.8L290.1 147.6L290.8 147.7L291.4 147.6L292.0 147.8L292.6 148.0L293.3 147.9L293.9 147.7L294.5 147.8L295.1 147.7L295.8 147.7L296.4 147.9L297.0 147.5L297.6 147.8L298.3 147.7L298.9 147.9L299.5 147.7L300.1 147.6L300.8 147.7L301.4 147.8L302.0 147.7L302.6 147.8L303.3 147.6L303.9 147.4L304.5 147.8L305.1 147.8L305.8 147.7L306.4 147.7" fill="none" stroke="#3030ff" stroke-width="2.0" stroke-linejoin="round"/>
<path d="M44.2 182.2L44.8 181.7L45.5 181.6L46.1 181.7L46.7 182.2L47.3 181.3L48.0 182.2L48.6 181.6L49.2 181.4L49.8 182.2L50.5 181.7L51.1 181.3L51.7 181.6L52.3 182.1L53.0 182.2L53.6 181.6L54.2 181.9L54.8 182.0L55.5 181.5L56.1 181.8L56.7 181.7L57.3 181.5L58.0 181.5L58.6 181.7L59.2 181.7L59.8 181.5L60.5 181.5L61.1 182.0L61.7 181.7L62.3 181.9L63.0 182.0L63.6 181.8L64.2 182.4L64.9 181.3L65.5 181.8L66.1 181.4L66.7 182.2L67.4 182.1L68.0 180.8L68.6 181.1L69.2 181.6L69.9 181.7L70.5 181.6L71.1 181.3L71.7 181.5L72.4 181.5L73.0 181.2L73.6 181.5L74.2 180.4L74.9 181.3L75.5 180.7L76.1 181.3L76.7 180.8L77.4 180.5L78.0 180.9L78.6 180.4L79.2 180.3L79.9 179.9L80.5 180.4L81.1 180.4L81.7 180.4L82.4 179.9L83.0 180.1L83.6 179.5L84.2 179.1L84.9 179.0L85.1 179.0L85.4 178.3L85.5 178.2L85.6 178.1L85.9 177.9L86.1 177.2L86.2 177.8L86.4 176.7L86.7 176.3L86.8 175.5L86.9 175.0L87.2 173.0L87.4 170.7L87.5 170.5L87.7 167.8L88.0 169.9L88.0 169.8L88.2 171.6L88.5 173.3L88.6 173.9L88.8 174.1L89.0 174.4L89.3 174.3L89.3 173.8L89.6 174.2L89.8 173.3L89.9 174.1L90.1 173.5L90.3 173.2L90.5 173.1L91.1 172.4L91.8 170.9L92.4 170.0L93.0 169.7L93.6 169.2L94.3 169.7L94.9 171.2L95.5 171.0L96.1 172.6L96.8 172.8L97.4 174.3L98.0 174.9L98.6 175.7L99.3 176.6L99.9 177.5L100.5 177.4L101.1 177.8L101.8 177.7L102.4 178.5L103.0 178.3L103.6 178.9L104.3 178.7L104.9 179.4L105.5 178.1L106.2 178.7L106.8 179.1L107.4 178.6L108.0 178.3L108.7 178.4L109.3 177.8L109.9 178.1L110.5 178.7L111.2 177.9L111.8 176.7L112.4 176.3L113.0 175.9L113.7 175.7L114.3 174.2L114.9 173.2L115.5 172.4L116.2 170.8L116.8 168.4L117.4 165.7L118.0 162.6L118.3 161.6L118.5 159.6L118.7 159.9L118.8 158.6L119.1 157.4L119.3 156.5L119.3 156.0L119.6 153.6L119.8 152.8L119.9 152.5L120.1 150.8L120.4 149.5L120.5 149.0L120.6 148.2L120.9 148.6L121.2 146.9L121.2 147.3L121.4 147.6L121.7 148.0L121.8 148.4L121.9 148.9L122.2 149.8L122.4 151.3L122.5 150.3L122.7 152.5L123.0 153.8L123.0 154.5L123.3 155.8L123.5 157.0L123.7 158.1L124.3 162.3L124.9 165.3L125.6 167.6L126.2 170.8L126.8 172.7L127.4 172.8L128.1 174.6L128.7 176.3L129.3 176.5L129.9 177.0L130.6 177.4L131.2 177.8L131.8 178.3L132.4 178.5L133.1 179.3L133.7 179.1L134.3 179.3L134.9 179.3L135.6 179.9L136.2 179.7L136.8 180.1L137.4 180.7L138.1 180.5L138.7 180.7L139.3 180.7L139.9 180.7L140.6 180.7L141.2 180.7L141.8 181.2L142.4 180.6L143.1 181.5L143.7 181.1L144.3 180.8L144.9 181.0L145.6 180.9L146.2 181.3L146.8 181.0L147.5 181.7L148.1 181.0L148.7 180.6L149.3 181.1L150.0 180.7L150.6 181.4L151.2 181.8L151.8 181.7L152.5 181.0L153.1 181.2L153.7 182.1L154.3 181.6L155.0 181.5L155.6 181.9L156.2 182.4L156.8 182.0L157.5 181.6L158.1 181.7L158.7 181.8L159.3 181.4L160.0 181.3L160.6 181.7L161.2 181.3L161.8 181.7L162.5 181.7L163.1 182.5L163.7 181.4L164.3 181.7L165.0 181.7L165.6 181.9L166.2 182.1L166.9 181.6L167.5 181.5L168.1 181.2L168.7 181.4L169.4 181.9L170.0 181.8L170.6 181.4L171.2 181.6L171.9 181.8L172.5 182.0L173.1 181.6L173.7 181.7L174.4 181.2L175.0 181.4L175.6 182.4L176.2 181.0L176.9 181.7L177.5 181.9L178.1 181.7L178.7 181.5L179.4 181.8L180.0 181.8L180.6 181.8L181.2 181.2L181.9 181.8L182.5 181.5L183.1 181.6L183.7 181.9L184.4 182.1L185.0 182.2L185.6 181.7L186.3 182.2L186.9 182.3L187.5 182.2L188.1 182.3L188.8 181.8L189.4 181.8L190.0 182.1L190.6 181.4L191.3 181.9L191.9 181.7L192.5 181.7L193.1 181.3L193.8 181.6L194.4 181.9L195.0 182.2L195.6 182.2L196.3 181.8L196.9 181.8L197.5 181.6L198.1 182.0L198.8 181.8L199.4 182.1L200.0 182.5L200.6 181.9L201.3 181.4L201.9 181.6L202.5 181.4L203.1 181.5L203.8 182.3L204.4 182.0L205.0 181.3L205.7 182.1L206.3 182.3L206.9 181.8L207.5 181.6L208.2 181.8L208.8 182.0L209.4 182.1L210.0 182.3L210.7 182.3L211.3 182.3L211.9 182.4L212.5 182.1L213.2 181.3L213.8 181.8L214.4 182.0L215.0 181.7L215.7 182.2L216.3 181.8L216.9 181.6L217.5 182.4L218.2 182.1L218.8 182.0L219.4 182.2L220.0 182.2L220.7 182.0L221.3 181.0L221.9 181.6L222.5 181.7L223.2 181.5L223.8 181.9L224.4 182.3L225.0 181.7L225.7 181.5L226.3 182.6L226.9 181.7L227.6 181.4L228.2 181.9L228.8 182.0L229.4 181.6L230.1 182.1L230.7 181.7L231.3 181.5L231.9 181.9L232.6 182.1L233.2 181.6L233.8 182.0L234.4 181.8L235.1 182.8L235.7 181.6L236.3 182.3L236.9 181.8L237.6 181.8L238.2 182.1L238.8 182.1L239.4 182.2L240.1 181.9L240.7 181.6L241.3 181.6L241.9 182.0L242.6 182.0L243.2 182.3L243.8 181.9L244.4 182.1L245.1 182.3L245.7 181.8L246.3 181.2L247.0 181.3L247.6 181.2L248.2 182.3L248.8 181.4L249.5 182.1L250.1 181.9L250.7 182.2L251.3 182.0L252.0 181.6L252.6 181.5L253.2 181.6L253.8 181.6L254.5 181.3L255.1 181.5L255.7 182.0L256.3 180.8L257.0 181.5L257.6 181.0L258.2 181.4L258.8 181.6L259.5 181.2L260.1 181.4L260.7 180.5L261.3 181.4L262.0 180.7L262.6 181.1L263.2 180.8L263.8 179.7L264.5 180.2L265.1 180.4L265.7 180.7L266.4 180.1L267.0 179.8L267.6 179.0L268.2 179.7L268.9 179.5L269.5 178.6L270.1 178.1L270.7 177.3L271.4 177.8L272.0 178.1L272.6 177.1L273.2 177.1L273.9 176.8L274.5 176.3L275.1 177.2L275.7 176.6L276.4 177.2L277.0 177.8L277.6 178.3L278.2 178.5L278.9 178.9L279.5 178.8L280.1 178.9L280.7 179.6L281.4 179.6L282.0 179.6L282.6 179.8L283.2 180.2L283.9 179.9L284.5 180.2L285.1 180.2L285.7 181.0L286.4 181.1L287.0 181.8L287.6 180.6L288.3 180.9L288.9 181.6L289.5 181.2L290.1 181.2L290.8 182.0L291.4 181.3L292.0 181.0L292.6 181.0L293.3 181.6L293.9 181.6L294.5 181.1L295.1 181.2L295.8 181.8L296.4 181.8L297.0 181.4L297.6 181.9L298.3 181.9L298.9 181.1L299.5 181.6L300.1 181.9L300.8 181.5L301.4 181.0L302.0 181.7L302.6 182.0L303.3 182.3L303.9 181.0L304.5 182.7L305.1 181.4L305.8 182.1L306.4 182.2" fill="none" stroke="#5252f6" stroke-width="2.2" stroke-linejoin="round"/>
<path d="M44.2 217.1L44.8 216.8L45.5 216.3L46.1 216.9L46.7 216.3L47.3 215.6L48.0 217.4L48.6 216.6L49.2 216.9L49.8 215.9L50.5 216.6L51.1 216.5L51.7 216.3L52.3 215.6L53.0 215.0L53.6 215.2L54.2 214.3L54.8 214.3L55.5 214.7L56.1 214.2L56.7 214.4L57.3 214.4L58.0 215.1L58.6 215.0L59.2 214.6L59.8 215.2L60.5 214.7L61.1 215.0L61.7 215.6L62.3 215.0L63.0 215.4L63.6 215.2L64.2 215.8L64.9 216.4L65.5 215.6L66.1 216.0L66.7 215.7L67.4 215.6L68.0 215.6L68.6 216.5L69.2 216.9L69.9 216.2L70.5 215.8L71.1 216.2L71.7 215.8L72.4 216.2L73.0 215.9L73.6 215.9L74.2 215.9L74.9 215.4L75.5 215.4L76.1 214.8L76.7 215.1L77.4 214.6L78.0 214.9L78.6 214.4L79.2 214.5L79.9 214.3L80.5 213.3L81.1 213.2L81.7 212.7L82.4 212.7L83.0 212.5L83.6 211.5L84.2 210.3L84.9 210.1L85.1 208.8L85.4 209.5L85.5 208.5L85.6 207.6L85.9 209.2L86.1 208.6L86.2 207.6L86.4 207.8L86.7 207.4L86.8 207.4L86.9 206.7L87.2 206.9L87.4 207.2L87.5 207.1L87.7 207.3L88.0 206.9L88.0 207.7L88.2 206.7L88.5 207.1L88.6 206.3L88.8 206.6L89.0 207.6L89.3 207.0L89.3 207.5L89.6 207.4L89.8 207.2L89.9 207.5L90.1 207.6L90.3 207.7L90.5 208.2L91.1 208.4L91.8 208.1L92.4 208.0L93.0 208.2L93.6 207.9L94.3 208.0L94.9 208.2L95.5 207.4L96.1 207.0L96.8 207.0L97.4 207.0L98.0 207.5L98.6 208.0L99.3 208.9L99.9 209.5L100.5 210.5L101.1 210.7L101.8 211.3L102.4 211.4L103.0 212.7L103.6 212.6L104.3 213.3L104.9 213.2L105.5 213.6L106.2 213.0L106.8 213.4L107.4 214.1L108.0 212.7L108.7 213.5L109.3 213.5L109.9 212.9L110.5 212.8L111.2 212.7L111.8 211.6L112.4 211.5L113.0 210.5L113.7 209.9L114.3 209.2L114.9 208.4L115.5 207.3L116.2 205.9L116.8 203.5L117.4 202.6L118.0 199.8L118.3 198.6L118.5 196.9L118.7 196.4L118.8 196.0L119.1 194.5L119.3 192.5L119.3 193.2L119.6 192.6L119.8 189.4L119.9 190.1L120.1 188.8L120.4 187.4L120.5 187.1L120.6 185.8L120.9 185.2L121.2 184.9L121.2 184.3L121.4 183.6L121.7 183.6L121.8 183.3L121.9 184.1L122.2 183.5L122.4 184.6L122.5 184.0L122.7 185.5L123.0 186.2L123.0 185.6L123.3 187.5L123.5 188.4L123.7 189.5L124.3 193.7L124.9 196.1L125.6 199.1L126.2 202.6L126.8 204.3L127.4 206.7L128.1 207.7L128.7 208.6L129.3 209.9L129.9 211.2L130.6 211.9L131.2 212.2L131.8 212.7L132.4 213.1L133.1 213.4L133.7 214.6L134.3 214.2L134.9 214.1L135.6 214.5L136.2 215.2L136.8 215.3L137.4 215.2L138.1 215.2L138.7 215.6L139.3 215.1L139.9 215.3L140.6 216.2L141.2 215.8L141.8 216.2L142.4 216.6L143.1 216.4L143.7 216.3L144.3 217.1L144.9 216.6L145.6 216.3L146.2 216.7L146.8 216.7L147.5 216.2L148.1 216.6L148.7 216.6L149.3 216.0L150.0 216.6L150.6 216.6L151.2 216.6L151.8 216.2L152.5 216.7L153.1 216.8L153.7 216.9L154.3 216.5L155.0 217.1L155.6 216.5L156.2 216.8L156.8 217.4L157.5 216.7L158.1 216.8L158.7 217.4L159.3 216.9L160.0 216.9L160.6 217.1L161.2 217.4L161.8 216.3L162.5 216.8L163.1 216.7L163.7 216.7L164.3 216.8L165.0 216.8L165.6 217.2L166.2 216.8L166.9 217.2L167.5 217.3L168.1 216.9L168.7 217.2L169.4 217.7L170.0 217.3L170.6 216.9L171.2 217.1L171.9 216.8L172.5 217.3L173.1 217.5L173.7 216.9L174.4 217.1L175.0 217.6L175.6 217.0L176.2 217.3L176.9 216.8L177.5 216.9L178.1 217.0L178.7 218.0L179.4 217.1L180.0 217.0L180.6 217.0L181.2 217.2L181.9 217.5L182.5 217.3L183.1 218.0L183.7 217.3L184.4 217.8L185.0 217.3L185.6 217.5L186.3 216.7L186.9 217.2L187.5 217.2L188.1 217.2L188.8 216.5L189.4 217.6L190.0 217.1L190.6 217.1L191.3 217.2L191.9 217.2L192.5 217.4L193.1 216.8L193.8 216.9L194.4 217.4L195.0 217.3L195.6 217.1L196.3 217.1L196.9 217.0L197.5 217.3L198.1 217.7L198.8 216.9L199.4 217.8L200.0 217.6L200.6 217.1L201.3 217.5L201.9 216.8L202.5 216.7L203.1 216.8L203.8 217.1L204.4 217.2L205.0 217.1L205.7 217.3L206.3 216.5L206.9 217.4L207.5 216.8L208.2 217.0L208.8 217.1L209.4 216.9L210.0 216.8L210.7 216.9L211.3 217.3L211.9 217.5L212.5 217.5L213.2 216.9L213.8 217.0L214.4 216.9L215.0 217.4L215.7 216.5L216.3 217.7L216.9 217.1L217.5 217.0L218.2 217.4L218.8 217.6L219.4 217.4L220.0 217.6L220.7 217.3L221.3 217.7L221.9 217.7L222.5 217.2L223.2 217.7L223.8 217.3L224.4 217.2L225.0 216.9L225.7 217.1L226.3 217.5L226.9 216.7L227.6 217.4L228.2 217.3L228.8 217.3L229.4 216.4L230.1 217.1L230.7 217.4L231.3 216.9L231.9 217.2L232.6 216.3L233.2 217.3L233.8 216.9L234.4 217.4L235.1 216.4L235.7 217.3L236.3 217.0L236.9 217.3L237.6 216.7L238.2 216.8L238.8 217.8L239.4 216.7L240.1 216.7L240.7 216.9L241.3 216.6L241.9 217.4L242.6 217.5L243.2 216.7L243.8 216.3L244.4 217.3L245.1 217.2L245.7 217.1L246.3 217.2L247.0 216.5L247.6 216.7L248.2 216.2L248.8 216.2L249.5 217.0L250.1 216.4L250.7 217.4L251.3 216.6L252.0 216.3L252.6 216.8L253.2 217.1L253.8 216.6L254.5 215.9L255.1 216.4L255.7 216.7L256.3 216.0L257.0 215.8L257.6 216.4L258.2 216.0L258.8 215.5L259.5 215.7L260.1 215.5L260.7 215.8L261.3 215.6L262.0 215.9L262.6 215.6L263.2 214.8L263.8 215.3L264.5 215.4L265.1 215.2L265.7 215.3L266.4 214.6L267.0 214.4L267.6 215.0L268.2 214.2L268.9 213.7L269.5 214.8L270.1 214.1L270.7 214.2L271.4 213.8L272.0 213.8L272.6 213.9L273.2 214.2L273.9 214.4L274.5 213.5L275.1 214.7L275.7 214.1L276.4 214.2L277.0 214.9L277.6 214.7L278.2 214.3L278.9 215.6L279.5 214.7L280.1 215.2L280.7 215.3L281.4 215.8L282.0 215.2L282.6 215.8L283.2 215.3L283.9 216.1L284.5 215.5L285.1 215.7L285.7 216.6L286.4 216.1L287.0 216.1L287.6 216.9L288.3 216.3L288.9 216.0L289.5 216.6L290.1 215.9L290.8 216.8L291.4 216.9L292.0 216.3L292.6 216.3L293.3 216.6L293.9 216.6L294.5 216.3L295.1 216.9L295.8 216.0L296.4 216.6L297.0 216.6L297.6 216.7L298.3 216.9L298.9 216.4L299.5 217.1L300.1 216.8L300.8 216.7L301.4 216.5L302.0 216.5L302.6 217.1L303.3 216.7L303.9 217.0L304.5 217.4L305.1 217.4L305.8 217.6L306.4 217.0" fill="none" stroke="#8080f6" stroke-width="2.2" stroke-linejoin="round"/>
<path d="M44.2 252.5L44.8 253.2L45.5 253.0L46.1 253.2L46.7 252.9L47.3 253.3L48.0 253.1L48.6 253.1L49.2 253.0L49.8 253.0L50.5 252.9L51.1 252.9L51.7 253.2L52.3 252.6L53.0 253.4L53.6 252.8L54.2 253.1L54.8 252.8L55.5 252.7L56.1 253.5L56.7 252.7L57.3 252.3L58.0 252.5L58.6 252.6L59.2 253.5L59.8 252.8L60.5 253.0L61.1 252.4L61.7 252.8L62.3 252.9L63.0 253.3L63.6 252.4L64.2 252.9L64.9 252.7L65.5 252.3L66.1 252.6L66.7 252.5L67.4 251.8L68.0 252.8L68.6 252.7L69.2 252.4L69.9 252.0L70.5 253.0L71.1 252.5L71.7 252.8L72.4 252.9L73.0 252.2L73.6 252.6L74.2 252.2L74.9 252.2L75.5 252.2L76.1 252.2L76.7 252.5L77.4 252.1L78.0 251.9L78.6 251.8L79.2 252.0L79.9 251.5L80.5 251.5L81.1 251.6L81.7 251.3L82.4 251.3L83.0 251.0L83.6 251.7L84.2 251.3L84.9 250.8L85.1 250.5L85.4 251.2L85.5 250.5L85.6 250.3L85.9 250.3L86.1 250.2L86.2 250.5L86.4 249.9L86.7 250.5L86.8 249.4L86.9 249.9L87.2 249.1L87.4 250.0L87.5 249.2L87.7 249.1L88.0 249.2L88.0 249.3L88.2 248.3L88.5 248.4L88.6 247.9L88.8 248.3L89.0 248.0L89.3 247.7L89.3 247.5L89.6 247.3L89.8 246.9L89.9 247.3L90.1 247.4L90.3 245.9L90.5 246.3L91.1 245.3L91.8 244.8L92.4 243.4L93.0 242.8L93.6 241.9L94.3 242.1L94.9 241.8L95.5 242.0L96.1 242.7L96.8 243.3L97.4 243.7L98.0 245.3L98.6 246.0L99.3 246.6L99.9 247.7L100.5 248.4L101.1 248.1L101.8 248.6L102.4 249.8L103.0 250.1L103.6 249.6L104.3 249.6L104.9 250.0L105.5 250.2L106.2 249.9L106.8 250.6L107.4 250.2L108.0 250.2L108.7 251.0L109.3 250.4L109.9 250.6L110.5 250.7L111.2 250.7L111.8 250.1L112.4 250.0L113.0 249.4L113.7 249.9L114.3 249.1L114.9 247.8L115.5 247.4L116.2 246.5L116.8 244.9L117.4 243.2L118.0 240.1L118.3 238.1L118.5 236.5L118.7 235.1L118.8 234.6L119.1 232.3L119.3 231.1L119.3 229.9L119.6 226.6L119.8 224.5L119.9 224.1L120.1 221.9L120.4 220.1L120.5 219.3L120.6 219.2L120.9 218.5L121.2 218.8L121.2 219.4L121.4 220.2L121.7 222.2L121.8 222.9L121.9 224.5L122.2 227.6L122.4 229.0L122.5 229.9L122.7 232.6L123.0 234.5L123.0 235.2L123.3 236.2L123.5 238.9L123.7 239.8L124.3 242.6L124.9 244.1L125.6 246.0L126.2 247.9L126.8 249.1L127.4 249.3L128.1 250.2L128.7 250.0L129.3 250.5L129.9 250.8L130.6 251.2L131.2 250.7L131.8 251.8L132.4 252.0L133.1 251.3L133.7 251.3L134.3 252.0L134.9 251.8L135.6 251.2L136.2 252.4L136.8 252.2L137.4 252.1L138.1 253.0L138.7 252.4L139.3 252.1L139.9 252.4L140.6 252.1L141.2 252.2L141.8 252.6L142.4 252.3L143.1 252.4L143.7 253.1L144.3 252.9L144.9 252.9L145.6 252.8L146.2 252.8L146.8 253.1L147.5 252.6L148.1 253.3L148.7 252.3L149.3 252.6L150.0 252.2L150.6 252.6L151.2 252.9L151.8 253.2L152.5 252.5L153.1 252.7L153.7 252.6L154.3 252.5L155.0 252.3L155.6 252.8L156.2 252.2L156.8 252.8L157.5 252.8L158.1 252.6L158.7 252.4L159.3 252.3L160.0 253.5L160.6 252.3L161.2 253.4L161.8 253.0L162.5 252.7L163.1 252.4L163.7 253.2L164.3 253.4L165.0 252.5L165.6 252.7L166.2 253.2L166.9 253.0L167.5 253.6L168.1 252.7L168.7 253.0L169.4 252.4L170.0 253.6L170.6 252.6L171.2 252.1L171.9 252.8L172.5 252.8L173.1 253.5L173.7 252.8L174.4 252.9L175.0 253.1L175.6 253.4L176.2 252.9L176.9 253.2L177.5 253.1L178.1 252.8L178.7 252.9L179.4 252.9L180.0 252.6L180.6 253.3L181.2 252.4L181.9 253.3L182.5 253.2L183.1 252.9L183.7 252.6L184.4 252.8L185.0 253.1L185.6 253.2L186.3 253.0L186.9 253.2L187.5 252.7L188.1 253.0L188.8 252.4L189.4 253.2L190.0 253.0L190.6 252.8L191.3 253.3L191.9 253.1L192.5 251.9L193.1 252.9L193.8 252.4L194.4 253.3L195.0 253.8L195.6 252.7L196.3 252.9L196.9 252.8L197.5 253.0L198.1 253.1L198.8 253.4L199.4 252.6L200.0 253.5L200.6 252.6L201.3 253.0L201.9 253.3L202.5 253.2L203.1 252.6L203.8 252.7L204.4 252.7L205.0 252.9L205.7 253.3L206.3 252.5L206.9 253.1L207.5 253.1L208.2 253.1L208.8 253.1L209.4 253.4L210.0 253.1L210.7 253.2L211.3 253.1L211.9 253.5L212.5 252.2L213.2 253.4L213.8 252.8L214.4 252.8L215.0 252.6L215.7 252.2L216.3 252.8L216.9 252.7L217.5 253.1L218.2 252.4L218.8 253.4L219.4 253.0L220.0 252.8L220.7 252.6L221.3 252.6L221.9 252.5L222.5 252.7L223.2 252.9L223.8 252.8L224.4 252.4L225.0 252.8L225.7 252.6L226.3 252.9L226.9 253.5L227.6 253.1L228.2 252.8L228.8 252.3L229.4 252.4L230.1 252.3L230.7 253.1L231.3 252.6L231.9 252.9L232.6 252.6L233.2 252.9L233.8 253.3L234.4 252.6L235.1 252.7L235.7 252.5L236.3 253.1L236.9 252.5L237.6 252.4L238.2 252.3L238.8 252.3L239.4 253.0L240.1 253.7L240.7 252.4L241.3 253.1L241.9 252.9L242.6 252.4L243.2 252.7L243.8 252.7L244.4 252.5L245.1 253.4L245.7 252.1L246.3 252.9L247.0 252.8L247.6 252.5L248.2 252.7L248.8 253.0L249.5 252.7L250.1 252.8L250.7 252.9L251.3 251.9L252.0 253.1L252.6 253.4L253.2 252.9L253.8 252.9L254.5 252.0L255.1 252.4L255.7 252.2L256.3 252.2L257.0 252.7L257.6 252.0L258.2 252.2L258.8 251.6L259.5 252.1L260.1 252.2L260.7 251.8L261.3 251.7L262.0 252.6L262.6 251.4L263.2 251.3L263.8 251.3L264.5 251.9L265.1 252.1L265.7 251.3L266.4 250.7L267.0 250.6L267.6 250.9L268.2 250.0L268.9 250.5L269.5 250.1L270.1 249.3L270.7 249.1L271.4 248.7L272.0 248.5L272.6 247.2L273.2 247.5L273.9 246.7L274.5 246.3L275.1 246.5L275.7 246.5L276.4 246.4L277.0 246.5L277.6 247.1L278.2 248.4L278.9 249.0L279.5 249.0L280.1 249.6L280.7 249.4L281.4 249.9L282.0 250.3L282.6 250.1L283.2 250.4L283.9 251.0L284.5 251.0L285.1 250.9L285.7 251.6L286.4 251.5L287.0 252.0L287.6 251.8L288.3 251.8L288.9 252.0L289.5 252.0L290.1 251.9L290.8 252.0L291.4 252.5L292.0 252.5L292.6 252.8L293.3 251.8L293.9 252.3L294.5 252.3L295.1 252.5L295.8 252.3L296.4 252.3L297.0 252.8L297.6 252.6L298.3 252.2L298.9 253.1L299.5 253.0L300.1 252.4L300.8 253.0L301.4 252.4L302.0 253.1L302.6 252.6L303.3 252.4L303.9 252.6L304.5 252.5L305.1 252.8L305.8 252.8L306.4 252.8" fill="none" stroke="#a8a8fa" stroke-width="2.2" stroke-linejoin="round"/>
<path d="M44.2 287.7L44.8 286.5L45.5 288.0L46.1 287.2L46.7 288.1L47.3 288.4L48.0 288.1L48.6 287.8L49.2 287.9L49.8 287.9L50.5 287.7L51.1 287.7L51.7 287.6L52.3 288.4L53.0 287.9L53.6 288.3L54.2 287.9L54.8 288.0L55.5 287.9L56.1 288.1L56.7 288.3L57.3 288.0L58.0 287.7L58.6 287.6L59.2 288.6L59.8 287.8L60.5 287.8L61.1 288.5L61.7 288.4L62.3 288.1L63.0 287.8L63.6 288.9L64.2 288.1L64.9 288.1L65.5 287.9L66.1 287.4L66.7 287.4L67.4 288.1L68.0 288.1L68.6 287.8L69.2 287.4L69.9 287.3L70.5 287.8L71.1 287.3L71.7 288.2L72.4 288.3L73.0 289.0L73.6 288.2L74.2 287.6L74.9 287.5L75.5 286.5L76.1 287.6L76.7 287.8L77.4 288.2L78.0 288.1L78.6 288.0L79.2 287.9L79.9 288.0L80.5 288.3L81.1 287.3L81.7 287.5L82.4 287.2L83.0 288.3L83.6 288.2L84.2 287.9L84.9 287.1L85.1 287.7L85.4 287.5L85.5 287.6L85.6 287.5L85.9 287.7L86.1 287.4L86.2 287.9L86.4 287.6L86.7 287.4L86.8 287.4L86.9 287.3L87.2 287.8L87.4 287.3L87.5 287.5L87.7 287.2L88.0 286.8L88.0 287.7L88.2 286.9L88.5 287.6L88.6 287.4L88.8 286.6L89.0 286.8L89.3 287.0L89.3 286.8L89.6 286.7L89.8 287.4L89.9 287.0L90.1 287.2L90.3 286.8L90.5 287.1L91.1 286.6L91.8 286.7L92.4 286.9L93.0 286.5L93.6 286.3L94.3 285.9L94.9 286.4L95.5 286.5L96.1 286.4L96.8 286.2L97.4 286.9L98.0 287.8L98.6 286.7L99.3 287.1L99.9 287.2L100.5 286.1L101.1 287.2L101.8 287.0L102.4 287.8L103.0 287.2L103.6 287.0L104.3 287.3L104.9 287.4L105.5 287.1L106.2 287.3L106.8 286.8L107.4 287.2L108.0 287.6L108.7 288.0L109.3 287.5L109.9 287.3L110.5 287.6L111.2 287.4L111.8 287.5L112.4 287.2L113.0 286.5L113.7 286.5L114.3 286.1L114.9 285.8L115.5 285.3L116.2 284.2L116.8 282.7L117.4 281.9L118.0 279.2L118.3 278.9L118.5 277.5L118.7 275.9L118.8 276.0L119.1 273.9L119.3 271.3L119.3 271.6L119.6 268.6L119.8 263.9L119.9 263.8L120.1 260.9L120.4 257.5L120.5 255.9L120.6 254.6L120.9 253.7L121.2 254.5L121.2 254.7L121.4 257.3L121.7 260.2L121.8 261.9L121.9 264.6L122.2 267.8L122.4 270.6L122.5 270.2L122.7 273.2L123.0 275.5L123.0 276.1L123.3 277.2L123.5 279.3L123.7 279.7L124.3 282.0L124.9 283.5L125.6 284.7L126.2 285.0L126.8 286.1L127.4 286.3L128.1 286.4L128.7 286.6L129.3 287.0L129.9 287.4L130.6 287.5L131.2 287.3L131.8 287.6L132.4 287.4L133.1 287.9L133.7 287.4L134.3 286.7L134.9 288.1L135.6 287.6L136.2 287.1L136.8 287.6L137.4 287.3L138.1 288.5L138.7 287.9L139.3 287.1L139.9 288.0L140.6 287.6L141.2 288.5L141.8 287.4L142.4 286.9L143.1 287.8L143.7 287.7L144.3 287.7L144.9 287.0L145.6 288.0L146.2 288.5L146.8 287.1L147.5 288.3L148.1 287.6L148.7 288.8L149.3 288.0L150.0 287.8L150.6 288.3L151.2 288.1L151.8 287.6L152.5 288.2L153.1 287.7L153.7 287.2L154.3 288.7L155.0 287.8L155.6 287.7L156.2 288.0L156.8 287.3L157.5 287.4L158.1 287.7L158.7 287.7L159.3 287.9L160.0 288.4L160.6 287.7L161.2 288.1L161.8 288.2L162.5 287.5L163.1 288.0L163.7 287.6L164.3 288.4L165.0 288.1L165.6 287.9L166.2 287.4L166.9 288.0L167.5 287.6L168.1 288.2L168.7 287.9L169.4 287.6L170.0 288.3L170.6 288.2L171.2 287.7L171.9 288.4L172.5 287.8L173.1 287.8L173.7 288.0L174.4 287.6L175.0 287.8L175.6 287.9L176.2 288.6L176.9 288.5L177.5 287.8L178.1 288.6L178.7 287.9L179.4 288.1L180.0 288.3L180.6 288.1L181.2 288.9L181.9 288.0L182.5 287.5L183.1 288.5L183.7 287.8L184.4 287.8L185.0 286.8L185.6 288.3L186.3 288.3L186.9 288.3L187.5 288.3L188.1 288.6L188.8 287.9L189.4 288.3L190.0 287.6L190.6 287.8L191.3 288.4L191.9 288.1L192.5 287.4L193.1 288.1L193.8 287.9L194.4 287.6L195.0 288.1L195.6 287.8L196.3 287.3L196.9 287.5L197.5 288.7L198.1 287.3L198.8 288.0L199.4 288.2L200.0 288.2L200.6 287.5L201.3 287.8L201.9 288.0L202.5 288.3L203.1 287.7L203.8 287.5L204.4 288.3L205.0 288.4L205.7 288.1L206.3 287.7L206.9 288.1L207.5 288.0L208.2 288.3L208.8 287.4L209.4 288.0L210.0 287.9L210.7 287.5L211.3 288.0L211.9 287.9L212.5 287.8L213.2 288.1L213.8 287.4L214.4 287.9L215.0 288.1L215.7 288.0L216.3 288.4L216.9 287.4L217.5 287.3L218.2 288.0L218.8 288.1L219.4 288.8L220.0 288.2L220.7 287.6L221.3 288.2L221.9 287.6L222.5 287.3L223.2 288.9L223.8 288.0L224.4 288.2L225.0 288.1L225.7 288.6L226.3 288.0L226.9 288.4L227.6 287.5L228.2 287.3L228.8 288.4L229.4 288.5L230.1 288.1L230.7 288.0L231.3 287.9L231.9 287.6L232.6 288.5L233.2 288.1L233.8 288.0L234.4 288.0L235.1 288.3L235.7 288.0L236.3 288.1L236.9 287.4L237.6 288.0L238.2 288.7L238.8 287.6L239.4 287.7L240.1 288.1L240.7 288.2L241.3 288.0L241.9 287.1L242.6 287.9L243.2 287.3L243.8 287.4L244.4 287.9L245.1 287.6L245.7 288.0L246.3 288.9L247.0 288.0L247.6 287.9L248.2 287.3L248.8 287.3L249.5 287.1L250.1 287.3L250.7 287.1L251.3 287.2L252.0 287.4L252.6 287.0L253.2 286.8L253.8 286.8L254.5 287.5L255.1 287.3L255.7 287.6L256.3 287.6L257.0 286.9L257.6 287.3L258.2 286.3L258.8 287.7L259.5 287.2L260.1 286.5L260.7 286.0L261.3 286.5L262.0 285.4L262.6 285.7L263.2 286.1L263.8 285.6L264.5 285.2L265.1 285.5L265.7 284.4L266.4 284.7L267.0 284.1L267.6 283.7L268.2 284.0L268.9 283.2L269.5 284.3L270.1 283.2L270.7 284.2L271.4 283.0L272.0 283.7L272.6 283.0L273.2 282.9L273.9 283.3L274.5 283.2L275.1 281.8L275.7 281.9L276.4 280.2L277.0 279.9L277.6 280.2L278.2 281.2L278.9 281.6L279.5 284.1L280.1 284.6L280.7 284.9L281.4 285.1L282.0 285.2L282.6 285.7L283.2 286.7L283.9 286.5L284.5 286.3L285.1 286.7L285.7 287.6L286.4 287.0L287.0 286.9L287.6 287.8L288.3 287.5L288.9 287.4L289.5 287.1L290.1 286.8L290.8 287.0L291.4 287.3L292.0 287.4L292.6 287.7L293.3 287.8L293.9 287.7L294.5 287.7L295.1 287.2L295.8 286.8L296.4 287.5L297.0 287.3L297.6 287.4L298.3 287.6L298.9 287.2L299.5 287.3L300.1 287.7L300.8 287.8L301.4 287.5L302.0 288.0L302.6 287.7L303.3 287.4L303.9 287.8L304.5 288.6L305.1 287.6L305.8 288.3L306.4 288.4" fill="none" stroke="#4a4a4a" stroke-width="2.3" stroke-linejoin="round"/>
<line x1="88.4" y1="14.2" x2="88.4" y2="301" stroke="#404040" stroke-width="1.8" stroke-dasharray="7.3 6"/>
<path d="M44.2 301.7V292.7M109.8 301.7V292.7M175.3 301.7V292.7M240.8 301.7V292.7M306.4 301.7V292.7M77.0 301.7V297.1M142.5 301.7V297.1M208.1 301.7V297.1M273.6 301.7V297.1" stroke="#000" stroke-width="1.6" fill="none"/>
<rect x="44" y="12.6" width="262.8" height="289.1" fill="none" stroke="#000" stroke-width="2"/>
<text x="44.2" y="326.4" font-size="19" text-anchor="middle">1000</text>
<text x="109.8" y="326.4" font-size="19" text-anchor="middle">1500</text>
<text x="175.3" y="326.4" font-size="19" text-anchor="middle">2000</text>
<text x="240.8" y="326.4" font-size="19" text-anchor="middle">2500</text>
<text x="306.4" y="326.4" font-size="19" text-anchor="middle">3000</text>
<text x="175.5" y="358.7" font-size="19" text-anchor="middle">Raman shift (cm<tspan dy="-7" font-size="12.5">-1</tspan><tspan dy="7">)</tspan></text>
<text transform="translate(22.9 157) rotate(-90)" font-size="19" text-anchor="middle">Intensity (arb.u.)</text>
<text transform="translate(78 78.5) rotate(-90)" font-size="19" fill="#1414f0">Dia.</text>
<text x="133.3" y="93.6" font-size="19" fill="#0000ff">HPHT</text>
<text x="135.3" y="274.3" font-size="19" fill="#5a5a5a">HPRT</text>
<text transform="translate(108 167.3) rotate(-90)" font-size="19">D</text>
<text transform="translate(144.8 167) rotate(-90)" font-size="19">G</text>
<text transform="translate(279.9 174.5) rotate(-90)" font-size="19">2D</text>
<g id="inset"><rect x="212.6" y="11.7" width="95" height="94.6" fill="#000"/><g clip-path="url(#circi)"><g filter="url(#bi1)"><rect x="219" y="14" width="71" height="71" fill="#e9e9e7"/><g filter="url(#bi2)"><ellipse cx="261" cy="51" rx="25" ry="15" fill="#84847a" fill-opacity="0.6"/><ellipse cx="255" cy="72" rx="14" ry="10" fill="#505048"/></g><path d="M275.2 38.3Q277.8 40.9 280.9 41.1M277.8 41.5Q277.2 42.1 273.1 42.3M270.9 61.2Q268.4 63.8 268.2 65.4M283.0 39.0Q282.5 37.6 279.4 39.1M234.9 39.9Q231.2 40.5 227.7 41.5M278.7 39.6Q277.2 42.0 274.9 42.4M267.6 62.6Q267.5 61.5 270.3 62.7M249.5 61.5Q246.0 64.8 243.5 66.3M259.2 49.5Q258.7 52.0 257.8 53.1M285.1 36.8Q283.6 36.8 285.7 40.7M284.5 42.0Q281.8 42.3 280.1 43.7M234.5 39.3Q235.8 42.7 235.6 43.8M262.0 54.3Q259.7 57.0 258.8 56.6M273.7 48.3Q272.5 52.0 274.3 55.6M285.0 61.4Q286.3 62.7 290.0 65.0M246.2 54.5Q246.7 58.5 245.3 58.5M243.9 55.3Q244.3 56.8 243.2 58.2M245.0 51.6Q247.2 56.2 247.4 57.6M249.9 53.3Q247.9 54.0 245.7 56.8M270.7 42.1Q271.7 45.8 272.5 45.4M277.7 67.6Q276.9 68.6 276.0 72.8M252.8 46.3Q250.4 48.7 250.5 47.3M276.6 52.2Q279.8 50.9 282.0 52.9M235.1 42.5Q234.5 46.1 234.8 48.3M283.2 47.5Q282.7 51.2 284.0 52.4M254.3 47.4Q252.6 48.6 254.9 49.8M261.6 60.4Q264.0 62.5 267.1 64.6M238.8 47.1Q237.4 50.1 235.6 51.0M242.8 54.2Q246.2 56.1 246.4 57.2M245.4 47.2Q245.3 46.2 249.0 48.7M281.2 64.9Q279.0 67.6 279.4 71.5M260.1 51.1Q258.2 54.5 259.4 54.1M262.6 53.9Q264.1 53.1 265.1 56.1M244.7 55.5Q241.4 57.9 239.8 56.6M253.8 48.6Q253.3 49.9 256.8 49.0M266.9 46.6Q266.6 48.6 267.0 53.8M247.4 40.0Q248.1 39.0 252.4 40.4M273.7 57.7Q272.6 59.4 267.8 62.5M266.0 51.1Q264.3 50.7 260.9 54.2M281.4 43.8Q283.4 46.3 286.0 47.2M271.6 43.6Q273.6 42.9 276.9 44.5M270.5 34.7Q271.1 35.9 268.6 37.9M283.0 62.3Q283.8 62.6 288.5 64.6M273.8 54.2Q274.4 58.2 272.6 59.9M240.7 47.6Q240.5 51.6 238.7 54.1M244.3 66.0Q241.7 71.6 242.5 73.3M277.9 45.6Q279.1 45.8 282.4 48.7M239.7 42.7Q237.7 45.0 238.3 45.0M234.2 62.5Q234.4 66.9 233.2 68.9M268.4 41.4Q265.0 43.6 263.9 47.6M234.3 62.6Q234.5 65.2 237.2 69.7M252.0 62.1Q255.5 64.1 256.5 68.0M238.9 44.9Q236.8 44.0 235.2 46.3M275.0 38.7Q276.8 41.3 274.6 41.9M258.2 47.5Q257.7 48.6 258.5 50.1M249.0 39.8Q253.1 41.2 254.9 41.5M252.0 39.3Q251.2 41.0 248.0 40.7M266.5 57.3Q263.3 60.8 263.4 64.2M250.9 58.0Q250.1 60.8 251.1 60.9M251.4 61.2Q252.4 62.4 252.9 66.7M250.4 46.1Q252.2 49.9 252.9 51.4M261.7 50.5Q265.6 51.5 268.7 52.6M256.6 44.3Q255.9 48.8 256.3 51.3M255.7 48.3Q257.0 51.3 258.5 53.8M286.9 40.8Q285.3 43.4 285.9 46.8M254.7 47.9Q254.8 48.5 258.6 48.9M272.5 48.1Q274.4 53.1 277.2 54.4M235.2 34.2Q235.8 36.1 234.3 37.3M276.4 39.7Q274.6 41.3 271.5 40.5M257.2 51.5Q261.9 53.1 262.7 53.1M261.9 67.9Q260.8 69.8 257.2 72.5M264.9 54.3Q261.9 56.2 262.6 58.6M284.2 64.6Q284.0 66.4 287.4 65.8M253.1 44.6Q254.9 46.6 253.6 47.5M250.4 65.8Q250.3 68.5 249.2 70.3M268.9 56.5Q270.3 57.1 272.7 57.6M252.7 62.6Q251.5 66.7 253.3 67.4M254.9 59.7Q254.8 59.1 258.1 62.2M246.7 67.3Q243.7 70.4 239.4 70.4M234.4 41.8Q232.5 43.6 234.5 44.7M272.8 64.7Q273.9 68.2 275.4 69.5" fill="none" stroke="#1e1e1a" stroke-width="0.9" stroke-opacity="0.75"/><path d="M275.1 69.7Q273.2 71.3 274.9 73.8M249.0 20.9Q253.5 20.4 256.9 22.1M250.7 80.3Q246.9 81.4 243.9 82.6M266.7 21.9Q267.8 22.1 266.0 25.8M266.8 73.7Q271.1 74.2 272.4 78.5M268.7 18.1Q267.5 19.8 268.6 23.0M243.1 69.2Q242.0 69.9 243.0 74.5M267.7 58.7Q267.8 61.4 270.3 65.0M247.1 63.6Q247.7 68.1 244.5 70.8M232.1 63.6Q230.2 64.6 227.9 65.8M285.3 38.3Q285.3 40.0 286.0 40.7M276.7 26.9Q276.5 29.1 276.4 30.9M229.0 73.3Q228.8 73.2 232.2 77.1M225.2 31.9Q223.5 34.9 222.9 38.9M276.4 32.8Q274.9 33.9 271.5 34.8M242.9 49.6Q244.3 49.8 245.6 50.1M223.3 53.6Q224.3 56.6 223.5 59.4M278.8 28.5Q276.0 28.8 276.7 31.7M266.7 50.1Q265.5 52.5 266.0 55.0M235.3 64.9Q235.8 64.5 237.8 67.4M246.1 29.3Q246.4 28.9 248.9 29.3M261.7 80.8Q260.3 83.1 258.1 82.1M228.7 72.7Q229.1 76.4 230.9 79.1M255.5 24.7Q252.8 26.6 250.3 29.5M240.3 32.7Q242.8 31.3 245.7 33.8M230.8 41.9Q228.9 43.3 227.7 42.4M283.4 61.8Q284.1 65.2 286.9 65.6M226.7 51.5Q229.6 53.7 230.6 54.1M251.1 22.3Q252.7 26.1 254.3 29.4M244.6 70.3Q243.8 75.5 246.8 76.8M234.0 71.7Q234.6 72.3 239.1 76.5M283.5 32.5Q284.2 36.5 287.3 36.7M227.5 69.7Q226.8 71.0 224.9 74.2M242.1 51.0Q243.6 50.6 247.7 52.2M260.8 33.6Q260.1 38.0 256.1 40.1M270.7 23.0Q273.0 24.4 276.9 27.9M226.7 38.0Q225.6 38.4 226.2 40.7M232.2 68.7Q228.2 67.4 224.7 69.6M237.7 76.3Q235.1 77.5 234.7 77.5M260.4 78.5Q261.2 78.7 263.1 80.3M251.9 29.0Q247.8 33.4 247.7 34.6M228.0 37.6Q226.9 40.9 228.2 42.4M277.4 32.6Q278.3 35.6 282.0 35.2M278.2 71.4Q278.7 74.5 280.1 78.0M266.2 30.4Q263.8 32.3 260.7 31.1M241.6 18.7Q242.2 19.4 245.5 21.9M267.0 75.1Q269.1 77.0 273.3 78.5M272.4 25.5Q272.1 30.3 272.9 32.8M252.0 78.4Q251.4 81.1 254.1 85.1M231.6 43.8Q231.9 46.4 232.7 47.5M260.1 33.6Q257.8 35.9 256.2 38.6M233.4 71.4Q236.0 72.5 235.2 75.1M228.3 40.4Q226.8 44.2 228.5 44.9M232.0 64.7Q233.3 65.3 233.2 69.7M244.1 25.4Q246.7 29.3 246.7 31.1M222.1 39.7Q222.5 44.4 222.3 46.6M267.5 22.6Q265.1 21.8 261.9 23.0M244.6 49.3Q248.5 48.9 251.2 50.6M258.1 77.5Q255.8 79.7 255.5 79.1M282.7 69.9Q282.4 70.0 285.7 73.0M222.7 55.6Q223.5 57.1 221.6 58.7M223.0 53.9Q221.6 54.8 220.4 54.4M254.3 24.6Q252.5 25.4 254.1 27.6M233.7 50.3Q233.8 50.0 230.1 50.9M277.2 51.5Q275.7 52.4 271.5 56.1M229.9 65.0Q230.5 65.8 234.0 65.6M244.0 25.0Q244.9 27.1 246.5 27.3M272.6 24.9Q275.9 25.9 276.5 27.1M257.6 36.6Q256.5 39.9 256.7 42.4M278.4 52.6Q277.8 54.1 281.0 53.6M231.6 69.8Q235.9 70.2 238.6 70.8M253.5 32.0Q250.6 33.6 249.6 32.9M223.9 51.0Q225.8 54.6 225.9 55.4M249.2 67.0Q247.6 71.0 249.9 73.3M222.8 40.5Q223.4 43.8 221.5 43.4M225.8 36.4Q225.1 37.6 225.0 40.0M273.7 68.2Q275.8 68.5 279.4 69.7M287.6 54.5Q287.4 56.5 288.1 61.4M252.9 25.7Q254.4 30.4 253.6 31.1M238.2 20.2Q238.8 21.8 235.7 20.3M253.0 76.4Q253.0 78.6 250.9 83.7M264.6 29.8Q265.5 28.7 270.3 31.1M247.8 29.6Q245.8 31.5 245.8 33.1M256.6 72.1Q251.8 72.4 250.2 76.2M233.1 47.7Q233.8 50.5 237.5 52.9M248.7 76.4Q246.0 77.3 246.1 81.4M261.9 76.9Q263.8 75.6 266.6 78.1M263.2 47.6Q263.9 50.1 263.6 54.7M252.4 68.5Q251.7 72.4 251.3 74.4M234.4 75.5Q232.9 78.4 227.8 79.1M241.2 76.5Q237.4 79.9 236.9 79.4M236.1 29.1Q234.6 31.5 234.9 36.2M245.9 81.9Q242.8 84.8 241.2 84.6M241.5 24.4Q246.6 27.2 249.3 26.1M259.7 81.0Q257.3 82.0 257.5 82.5M268.7 81.3Q266.3 83.5 267.9 86.3M256.7 78.8Q254.6 77.8 254.1 79.1M237.6 76.3Q236.5 79.1 233.0 81.8M232.9 74.5Q229.1 77.6 228.9 80.6M239.0 22.6Q238.4 27.1 236.4 27.7M240.6 33.6Q243.2 37.4 244.6 39.3M237.6 26.6Q236.9 31.3 238.2 34.0M235.0 43.6Q233.3 46.5 230.2 49.0M265.3 26.7Q265.5 28.6 262.6 32.0M231.1 52.8Q228.5 51.9 228.2 54.2M228.1 72.3Q226.6 72.6 228.6 74.9M228.5 45.2Q225.7 45.2 222.7 48.7M263.3 66.5Q267.2 67.5 268.1 72.1M272.8 72.6Q274.6 77.6 273.2 79.5M240.3 28.9Q240.6 31.0 238.1 33.4M232.5 42.0Q228.0 41.1 226.2 42.7M247.5 78.2Q246.3 79.2 247.3 82.2M257.4 31.6Q261.3 33.2 264.0 33.9M227.6 67.3Q225.6 69.1 224.7 67.3M230.0 69.9Q233.5 71.9 234.7 71.6M254.6 55.3Q257.2 55.9 256.5 59.2M262.8 18.5Q260.8 17.1 256.9 19.3M255.5 31.2Q252.2 31.5 251.2 32.3M243.3 27.2Q243.5 29.4 240.5 29.6M278.9 64.6Q273.3 65.0 271.6 67.4M258.0 77.0Q259.6 78.2 258.5 81.3M248.9 70.9Q248.5 72.6 250.9 76.6M227.1 43.6Q227.7 46.4 224.5 50.4M254.8 43.8Q254.8 48.3 255.6 50.9M268.4 32.3Q264.6 34.9 262.1 36.7M276.7 42.0Q277.3 44.0 278.7 46.5M242.5 28.2Q240.9 28.5 239.0 31.5M246.2 59.2Q246.1 62.0 242.9 61.4M256.5 58.6Q254.4 60.8 255.1 66.3M280.9 43.4Q280.6 46.1 279.7 49.3M272.9 20.0Q271.5 22.5 268.3 21.3M264.9 34.9Q262.9 35.8 263.3 39.5M243.0 65.6Q241.7 66.7 241.6 68.3M229.2 27.8Q231.4 29.3 232.0 31.6M269.4 32.6Q270.6 35.7 272.3 38.8M250.0 24.0Q248.6 26.3 250.0 26.8M271.1 80.1Q268.2 80.6 267.8 83.4M238.8 76.5Q239.5 77.5 240.0 81.7M261.9 18.3Q263.0 20.6 260.4 21.7M254.7 25.6Q257.8 27.1 257.4 28.6M264.6 29.3Q263.2 31.5 261.3 30.3M235.7 66.4Q236.5 66.4 233.2 66.5M248.6 75.5Q246.0 74.6 244.8 76.0M236.3 61.4Q233.5 63.7 230.5 66.7M225.4 51.5Q226.6 52.7 229.2 56.8M243.2 42.2Q245.3 46.8 244.8 47.4M243.8 31.2Q242.1 33.7 239.8 35.9M240.2 76.5Q241.3 81.3 240.0 84.1M232.9 27.0Q233.0 28.8 236.1 34.1M254.3 40.5Q255.9 44.3 255.6 48.2M243.9 28.9Q244.4 29.2 247.8 33.1M231.1 60.9Q228.1 61.5 223.9 62.4M270.6 73.9Q271.7 74.6 272.6 79.1M279.2 72.0Q276.6 72.7 276.1 73.4M241.7 28.2Q242.1 28.2 245.2 28.2M271.2 56.1Q270.7 60.2 273.3 63.6M259.7 33.4Q258.8 36.7 261.1 36.2M245.1 48.0Q244.4 51.6 241.0 54.3M239.6 70.6Q243.8 72.2 245.9 72.3M265.2 80.4Q266.6 81.8 269.5 83.3M272.4 69.1Q271.3 71.1 272.8 72.0M265.5 68.6Q265.7 72.3 267.5 74.0M230.1 44.0Q227.2 45.1 224.2 46.2M280.2 32.3Q281.5 34.3 279.2 35.8M240.1 58.0Q239.5 58.9 241.8 61.2M249.2 73.2Q247.1 77.2 247.8 77.3M258.7 62.0Q258.3 64.2 260.0 66.3M224.7 53.2Q222.6 55.1 224.0 56.6M237.9 74.3Q239.2 75.9 237.4 78.4M233.0 31.8Q234.2 36.0 237.2 36.9M230.1 44.7Q228.9 47.2 225.2 50.9M243.0 19.5Q245.0 18.6 245.7 21.2M225.0 67.0Q226.0 67.1 230.6 67.8M287.0 56.2Q285.7 56.9 283.9 58.8M232.5 76.1Q229.4 76.9 227.9 76.1M224.9 57.9Q220.4 58.5 219.5 59.0M275.3 27.8Q275.9 32.0 277.3 32.3M228.3 35.1Q225.4 39.5 226.4 40.6M241.6 75.1Q237.0 77.3 234.9 78.6M236.0 62.3Q233.1 61.6 232.0 64.9M223.9 60.9Q220.7 61.3 220.0 62.9M266.9 75.9Q268.2 76.7 269.8 80.1M228.2 62.8Q228.3 62.7 229.7 65.2M238.5 30.8Q236.9 33.7 236.7 34.8M250.5 58.8Q250.7 60.7 248.5 60.7M238.7 33.4Q241.8 34.4 241.2 33.5M242.1 29.0Q241.6 30.8 245.1 31.7M244.1 26.2Q241.2 28.7 237.8 29.1M256.9 31.3Q252.4 30.0 251.4 31.6M253.3 36.0Q252.5 40.0 253.8 41.0" fill="none" stroke="#6a8078" stroke-width="0.8" stroke-opacity="0.5"/><path d="M243 69C246 66 251 67 252 70C253 74 252 79 249 81C246 82 243 80 242.5 76Z" fill="#0a0a08"/><path d="M253 68C257 66 263 66 265 70C266 74 264 79 259 80C255 80 252 77 252 73Z" fill="#0a0a08"/><ellipse cx="239" cy="29" rx="3.2" ry="4.5" fill="#5a5a56" transform="rotate(-20 239 29)"/><circle cx="266" cy="26" r="4.2" fill="#8a8274"/><circle cx="266" cy="26" r="2.2" fill="#c8c4bc"/></g></g><rect x="237" y="35.9" width="46.2" height="27.7" fill="none" stroke="#ff1a1a" stroke-width="2.2" stroke-dasharray="4.6 3"/><path d="M258.8 80L250.3 33.5" stroke="#0000ff" stroke-width="2.4" stroke-dasharray="5.5 3.2" fill="none"/><path d="M248.5 22.6L244.8 33.6L250.2 31.6L256 32.2Z" fill="#0000ff"/><text x="267.6" y="92.4" font-size="13.6" fill="#fff">50 µm</text><rect x="267.3" y="97" width="32.4" height="4" fill="#fff"/></g>
<text x="-0.5" y="387" font-size="26" font-weight="bold">b</text>
<path d="M43.7 469.2L44.2 468.9L44.7 469.3L45.2 469.0L45.7 468.9L46.2 468.9L46.8 469.0L47.3 468.9L47.8 468.9L48.3 469.1L48.8 468.8L49.3 468.7L49.8 469.0L50.3 469.0L50.8 469.0L51.3 468.7L51.8 469.0L52.0 468.9L52.3 469.1L52.5 468.6L52.8 468.9L53.0 468.8L53.3 468.6L53.5 468.7L53.8 469.0L53.9 468.7L54.4 468.7L54.4 468.9L54.9 468.9L54.9 468.9L55.4 468.7L55.4 468.8L55.9 468.9L56.4 468.7L56.9 468.6L57.4 468.9L57.9 469.0L58.4 468.5L58.9 468.3L59.4 468.5L59.9 468.5L60.4 468.7L60.9 468.8L61.5 468.6L62.0 468.5L62.5 468.7L63.0 468.5L63.5 468.6L64.0 468.5L64.2 469.0L64.5 468.7L64.7 468.5L65.0 468.4L65.1 468.5L65.5 468.3L65.6 468.5L66.0 468.5L66.1 468.7L66.5 468.5L66.6 468.4L67.0 468.3L67.1 468.4L67.5 468.5L68.0 468.5L68.6 468.7L69.1 468.4L69.6 468.7L70.1 468.5L70.6 468.5L71.1 468.2L71.6 468.3L72.1 468.6L72.6 468.6L73.1 468.5L73.6 468.5L74.1 468.3L74.6 468.3L75.1 468.3L75.7 468.5L76.2 468.4L76.7 468.3L77.2 468.3L77.7 468.4L78.2 468.4L78.7 468.2L79.2 468.6L79.7 468.3L80.2 468.3L80.7 468.5L81.2 468.4L81.7 468.2L82.2 468.3L82.7 468.0L83.3 468.1L83.8 467.8L84.3 468.3L84.8 467.8L85.3 468.2L85.8 467.9L86.3 467.9L86.8 468.0L87.3 468.0L87.8 468.0L88.3 468.2L88.8 468.0L89.3 468.0L89.8 467.8L90.4 467.9L90.9 467.8L91.4 467.7L91.9 467.7L92.4 467.7L92.9 467.7L93.4 467.8L93.9 467.6L94.4 467.5L94.9 467.7L95.4 467.3L95.9 467.5L96.4 467.8L96.9 467.1L97.5 467.4L98.0 467.6L98.5 467.2L99.0 467.8L99.5 467.0L100.0 467.6L100.5 467.6L101.0 467.5L101.5 467.3L102.0 467.4L102.5 467.1L103.0 467.4L103.5 467.1L104.0 467.2L104.6 467.3L105.1 467.0L105.6 467.1L106.1 467.1L106.6 466.9L107.1 467.2L107.6 467.1L108.1 466.8L108.6 467.0L109.1 466.9L109.6 466.9L110.1 466.9L110.6 466.8L111.1 467.0L111.6 466.8L112.2 467.0L112.7 466.8L113.2 466.9L113.7 466.7L114.2 466.7L114.7 466.5L115.2 466.8L115.7 466.8L116.2 467.0L116.7 466.8L117.2 466.6L117.7 466.5L118.2 466.4L118.7 466.0L119.3 465.9L119.8 465.4L120.3 464.8L120.8 464.4L121.3 464.3L121.8 463.7L122.3 463.1L122.7 462.8L122.8 462.3L123.1 461.5L123.3 461.0L123.6 459.4L123.8 458.7L124.1 456.0L124.3 455.0L124.6 455.6L124.8 457.2L125.1 458.2L125.3 459.0L125.6 459.2L125.8 459.7L126.1 459.6L126.4 460.0L126.9 460.0L127.4 460.0L127.9 460.2L128.4 459.9L128.9 459.8L129.4 459.6L129.9 459.5L130.4 459.5L130.9 459.4L131.4 458.9L131.9 459.2L132.4 459.0L132.9 458.9L133.5 458.7L134.0 458.3L134.5 458.2L135.0 458.5L135.5 458.2L136.0 457.9L136.5 458.1L137.0 457.9L137.5 457.6L138.0 457.5L138.5 457.5L139.0 457.8L139.5 457.6L140.0 457.5L140.5 457.5L141.1 457.5L141.6 457.0L142.1 457.2L142.6 457.1L143.1 457.0L143.6 457.0L144.1 457.0L144.6 456.9L145.1 456.6L145.6 456.7L146.1 457.0L146.6 456.5L147.1 456.3L147.6 456.6L148.2 456.5L148.7 456.4L149.2 456.1L149.7 456.4L150.2 456.0L150.7 455.9L151.2 455.9L151.7 456.0L152.2 456.2L152.7 456.2L153.2 456.2L153.7 456.4L154.2 456.3L154.7 456.5L155.3 456.3L155.8 456.3L156.3 456.7L156.8 456.5L157.3 456.7L157.8 456.8L158.3 456.8L158.8 456.9L159.3 457.2L159.8 456.7L160.3 457.3L160.8 457.6L161.3 457.3L161.8 457.4L162.4 457.5L162.9 457.8L163.4 457.4L163.9 457.6L164.4 457.7L164.9 457.8L165.4 457.8L165.9 458.0L166.4 457.9L166.9 458.0L167.4 458.0L167.9 458.1L168.4 458.2L168.9 458.3L169.4 458.2L170.0 458.7L170.5 458.5L171.0 458.3L171.5 458.8L172.0 458.6L172.5 458.8L173.0 458.8L173.5 458.9L174.0 458.9L174.5 458.9L175.0 459.0L175.5 459.4L176.0 458.8L176.5 459.2L177.1 459.3L177.6 459.2L178.1 459.2L178.6 459.8L179.1 459.4L179.6 459.9L180.1 459.7L180.6 459.7L181.1 459.8L181.6 459.9L182.1 460.0L182.6 459.9L183.1 459.9L183.6 460.0L184.2 460.2L184.7 460.2L185.2 460.0L185.7 460.1L186.2 460.3L186.7 460.2L187.2 460.3L187.7 460.2L188.2 460.3L188.7 460.4L189.2 460.4L189.7 460.2L190.2 460.5L190.7 460.1L191.3 460.6L191.8 460.2L192.3 460.0L192.8 459.8L193.3 459.4L193.8 459.7L194.3 459.6L194.8 459.6L195.3 458.9L195.8 459.2L196.3 458.6L196.8 458.4L197.3 457.5L197.8 457.4L198.3 456.8L198.9 456.1L199.4 454.9L199.9 453.2L200.1 452.4L200.4 451.2L200.6 449.7L200.9 447.7L201.1 445.5L201.4 441.6L201.6 438.1L201.9 431.6L202.1 427.1L202.4 416.7L202.6 411.3L202.9 403.0L203.1 402.2L203.4 407.5L203.5 411.1L203.9 423.4L204.0 426.9L204.4 436.3L204.5 437.8L204.9 443.8L205.0 444.6L205.4 448.7L205.5 449.0L206.0 451.3L206.0 451.4L206.5 453.1L207.0 454.1L207.5 455.3L208.0 455.7L208.5 456.4L209.0 456.2L209.5 456.5L210.0 456.8L210.5 456.8L211.0 456.7L211.5 457.0L212.0 457.5L212.5 457.7L213.1 457.9L213.6 458.3L214.1 458.5L214.6 458.6L215.1 458.7L215.6 458.9L216.1 459.2L216.6 459.5L217.1 459.6L217.6 459.9L218.1 460.0L218.6 460.1L219.1 460.4L219.6 460.9L220.2 461.1L220.7 461.4L221.2 461.4L221.7 461.8L222.2 462.1L222.7 462.2L223.2 462.2L223.7 462.5L224.2 462.8L224.7 462.8L225.2 463.3L225.7 463.6L226.2 463.6L226.7 464.1L227.2 464.0L227.8 464.3L228.3 464.4L228.8 464.5L229.3 464.7L229.8 464.8L230.3 465.1L230.8 465.1L231.3 465.2L231.8 465.2L232.3 465.1L232.8 465.4L233.3 465.4L233.8 465.8L234.3 465.8L234.9 466.2L235.4 466.1L235.9 466.3L236.4 466.3L236.9 466.4L237.4 466.6L237.9 466.7L238.4 466.6L238.9 466.9L239.4 467.3L239.9 467.0L240.4 467.1L240.9 467.1L241.4 467.1L242.0 467.5L242.5 467.3L243.0 467.4L243.5 467.6L244.0 467.8L244.5 467.3L245.0 467.6L245.5 467.5L246.0 467.5L246.5 467.6L247.0 467.5L247.5 467.8L248.0 467.6L248.5 467.6L249.1 467.8L249.6 467.8L250.1 467.7L250.6 467.7L251.1 467.9L251.6 467.8L252.1 467.7L252.6 467.6L253.1 467.7L253.6 467.6L254.1 467.8L254.6 467.9L255.1 467.6L255.6 467.9L256.1 468.0L256.7 467.9L257.2 467.8L257.7 468.2L258.2 467.9L258.7 467.8L259.2 467.9L259.7 468.0L260.2 468.2L260.7 468.3L261.2 468.1L261.7 468.0L262.2 468.1L262.7 468.0L263.2 468.2L263.8 468.0L264.3 468.3L264.8 468.4L265.3 468.3L265.8 468.4L266.3 468.2L266.8 468.1L267.3 468.3L267.8 468.6L268.3 468.6L268.8 468.4L269.3 468.6L269.8 468.4L270.3 468.7L270.9 468.6L271.4 468.4L271.9 468.6L272.4 468.4L272.9 468.4L273.4 468.3L273.9 468.6L274.4 468.6L274.9 468.6L275.4 468.5L275.9 468.8L276.4 468.5L276.9 468.5L277.4 468.8L278.0 468.9L278.5 468.7L279.0 468.4L279.5 468.6L280.0 468.8L280.5 468.7L281.0 468.9L281.5 468.5L282.0 468.8L282.5 468.6L283.0 468.9L283.5 468.7L284.0 468.9L284.5 468.7L285.0 468.6L285.6 468.6L286.1 468.7L286.6 468.6L287.1 469.0L287.6 469.0L288.1 468.9L288.6 468.7L289.1 468.8L289.6 468.8L290.1 469.1L290.6 468.9L291.1 469.0L291.6 468.8L292.1 468.6L292.7 468.8L293.2 468.8L293.7 469.0L294.2 469.0L294.7 468.8L295.2 468.9L295.7 469.2L296.2 468.8L296.7 468.9L297.2 469.0L297.7 468.9L298.2 469.0L298.7 469.1L299.2 469.3L299.8 468.8L300.3 469.1L300.8 469.1L301.3 469.1L301.8 469.1L302.3 469.1L302.8 469.3L303.3 469.1L303.8 469.1L304.3 469.1L304.8 469.2L305.3 469.1L305.8 469.3L306.3 469.2L306.9 469.2" fill="none" stroke="#0000ff" stroke-width="2" stroke-linejoin="round"/>
<path d="M43.7 535.8L44.2 535.6L44.7 535.6L45.2 535.5L45.7 535.7L46.2 535.5L46.8 535.4L47.3 535.6L47.8 535.6L48.3 535.2L48.8 535.7L49.3 535.4L49.8 535.3L50.3 535.5L50.8 535.3L51.3 535.2L51.8 535.6L52.0 535.1L52.3 535.2L52.5 535.3L52.8 535.0L53.0 535.1L53.3 535.2L53.5 535.5L53.8 535.0L53.9 535.1L54.4 535.2L54.4 535.1L54.9 534.8L54.9 535.1L55.4 535.0L55.4 535.0L55.9 535.1L56.4 535.1L56.9 534.9L57.4 534.9L57.9 534.6L58.4 534.8L58.9 534.8L59.4 534.6L59.9 534.7L60.4 534.5L60.9 534.8L61.5 534.9L62.0 534.5L62.5 534.6L63.0 534.4L63.5 534.6L64.0 534.5L64.2 534.4L64.5 534.3L64.7 534.4L65.0 534.2L65.1 534.4L65.5 534.2L65.6 534.4L66.0 534.3L66.1 534.4L66.5 534.2L66.6 534.4L67.0 534.0L67.1 534.3L67.5 534.1L68.0 534.1L68.6 534.1L69.1 534.2L69.6 533.7L70.1 534.0L70.6 533.7L71.1 534.1L71.6 533.6L72.1 533.7L72.6 533.6L73.1 534.0L73.6 533.5L74.1 533.7L74.6 533.6L75.1 533.4L75.7 533.5L76.2 533.7L76.7 533.5L77.2 533.6L77.7 533.4L78.2 533.4L78.7 533.3L79.2 533.4L79.7 533.6L80.2 533.3L80.7 533.3L81.2 533.1L81.7 533.0L82.2 533.3L82.7 532.9L83.3 532.9L83.8 533.0L84.3 532.9L84.8 533.2L85.3 532.5L85.8 532.9L86.3 532.9L86.8 532.5L87.3 532.6L87.8 532.7L88.3 532.8L88.8 532.4L89.3 532.3L89.8 532.6L90.4 532.6L90.9 532.3L91.4 532.0L91.9 532.5L92.4 532.2L92.9 532.4L93.4 532.1L93.9 532.0L94.4 532.0L94.9 532.2L95.4 532.2L95.9 531.6L96.4 531.7L96.9 532.1L97.5 531.7L98.0 531.5L98.5 531.7L99.0 531.6L99.5 531.6L100.0 531.5L100.5 531.5L101.0 531.4L101.5 531.5L102.0 531.3L102.5 531.3L103.0 531.3L103.5 531.5L104.0 531.3L104.6 531.2L105.1 531.2L105.6 531.2L106.1 531.2L106.6 531.1L107.1 531.2L107.6 531.1L108.1 530.9L108.6 530.8L109.1 530.9L109.6 530.8L110.1 530.7L110.6 530.4L111.1 530.3L111.6 530.6L112.2 530.6L112.7 530.6L113.2 530.2L113.7 530.5L114.2 530.3L114.7 530.4L115.2 530.3L115.7 530.1L116.2 530.1L116.7 529.8L117.2 529.9L117.7 529.8L118.2 530.1L118.7 530.0L119.3 530.0L119.8 529.9L120.3 529.7L120.8 529.8L121.3 529.7L121.8 529.8L122.3 529.7L122.7 529.5L122.8 529.6L123.1 529.6L123.3 529.5L123.6 529.7L123.8 529.8L124.1 529.4L124.3 529.4L124.6 529.1L124.8 529.4L125.1 529.3L125.3 529.0L125.6 529.4L125.8 529.4L126.1 529.2L126.4 529.2L126.9 529.1L127.4 529.3L127.9 528.9L128.4 529.0L128.9 529.3L129.4 529.0L129.9 529.0L130.4 528.9L130.9 528.6L131.4 528.8L131.9 528.8L132.4 528.5L132.9 528.7L133.5 528.8L134.0 528.7L134.5 528.2L135.0 528.3L135.5 528.1L136.0 528.5L136.5 528.4L137.0 528.3L137.5 528.1L138.0 528.0L138.5 528.1L139.0 528.1L139.5 527.9L140.0 528.0L140.5 528.0L141.1 527.9L141.6 527.6L142.1 527.4L142.6 527.7L143.1 527.7L143.6 527.6L144.1 527.5L144.6 527.4L145.1 527.6L145.6 527.4L146.1 527.4L146.6 527.2L147.1 527.2L147.6 527.2L148.2 527.0L148.7 526.9L149.2 527.0L149.7 527.2L150.2 527.0L150.7 527.1L151.2 526.8L151.7 526.7L152.2 526.5L152.7 526.6L153.2 526.8L153.7 526.6L154.2 526.6L154.7 526.5L155.3 526.4L155.8 526.3L156.3 526.3L156.8 526.3L157.3 526.2L157.8 526.2L158.3 526.0L158.8 525.8L159.3 525.9L159.8 525.7L160.3 525.9L160.8 525.4L161.3 525.6L161.8 526.0L162.4 525.5L162.9 525.3L163.4 525.4L163.9 525.6L164.4 525.3L164.9 525.4L165.4 525.2L165.9 525.0L166.4 525.4L166.9 524.8L167.4 524.6L167.9 524.5L168.4 524.5L168.9 524.4L169.4 524.3L170.0 524.1L170.5 523.7L171.0 523.9L171.5 523.7L172.0 523.5L172.5 523.2L173.0 523.3L173.5 523.1L174.0 523.1L174.5 522.8L175.0 522.9L175.5 522.8L176.0 522.5L176.5 522.4L177.1 522.2L177.6 522.4L178.1 521.7L178.6 522.0L179.1 521.6L179.6 521.7L180.1 521.8L180.6 521.4L181.1 521.4L181.6 521.2L182.1 521.5L182.6 521.2L183.1 521.1L183.6 520.6L184.2 520.5L184.7 520.7L185.2 520.4L185.7 520.3L186.2 520.2L186.7 519.8L187.2 520.0L187.7 519.7L188.2 519.6L188.7 519.3L189.2 519.3L189.7 518.9L190.2 519.0L190.7 518.8L191.3 518.6L191.8 518.3L192.3 518.2L192.8 517.4L193.3 517.8L193.8 517.6L194.3 517.5L194.8 517.4L195.3 517.0L195.8 517.0L196.3 517.0L196.8 516.8L197.3 516.2L197.8 515.7L198.3 515.5L198.9 514.4L199.4 513.8L199.9 512.0L200.1 510.8L200.4 509.9L200.6 508.5L200.9 506.1L201.1 504.5L201.4 500.9L201.6 498.1L201.9 492.3L202.1 488.1L202.4 480.6L202.6 476.8L202.9 471.4L203.1 470.8L203.4 474.3L203.5 476.6L203.9 485.8L204.0 488.3L204.4 496.4L204.5 497.9L204.9 503.2L205.0 504.3L205.4 508.0L205.5 508.7L206.0 510.9L206.0 510.8L206.5 512.7L207.0 513.8L207.5 514.8L208.0 515.2L208.5 516.2L209.0 516.5L209.5 516.5L210.0 516.9L210.5 517.3L211.0 517.4L211.5 517.8L212.0 518.0L212.5 518.3L213.1 518.8L213.6 519.2L214.1 519.3L214.6 519.5L215.1 520.2L215.6 520.2L216.1 520.8L216.6 520.9L217.1 521.3L217.6 521.7L218.1 521.8L218.6 522.1L219.1 522.1L219.6 522.4L220.2 522.9L220.7 523.3L221.2 523.6L221.7 524.0L222.2 523.9L222.7 524.0L223.2 524.3L223.7 524.2L224.2 524.4L224.7 524.4L225.2 524.8L225.7 524.6L226.2 525.0L226.7 524.8L227.2 525.3L227.8 525.2L228.3 525.6L228.8 525.3L229.3 525.6L229.8 526.0L230.3 525.8L230.8 526.1L231.3 526.2L231.8 526.0L232.3 526.5L232.8 526.7L233.3 526.6L233.8 527.0L234.3 526.9L234.9 527.0L235.4 527.3L235.9 527.3L236.4 527.9L236.9 527.4L237.4 527.9L237.9 528.1L238.4 527.7L238.9 527.9L239.4 528.4L239.9 528.4L240.4 528.6L240.9 528.8L241.4 528.6L242.0 528.6L242.5 528.5L243.0 529.0L243.5 528.9L244.0 529.2L244.5 529.3L245.0 529.1L245.5 529.7L246.0 529.7L246.5 529.7L247.0 529.5L247.5 529.7L248.0 529.8L248.5 529.9L249.1 529.9L249.6 530.2L250.1 530.2L250.6 530.4L251.1 530.3L251.6 530.7L252.1 530.6L252.6 530.2L253.1 530.6L253.6 530.8L254.1 531.1L254.6 531.0L255.1 531.1L255.6 531.1L256.1 531.4L256.7 531.3L257.2 531.4L257.7 531.4L258.2 531.7L258.7 531.6L259.2 531.6L259.7 532.0L260.2 531.9L260.7 532.1L261.2 532.2L261.7 532.4L262.2 532.5L262.7 532.3L263.2 532.5L263.8 532.4L264.3 532.9L264.8 532.8L265.3 533.1L265.8 532.9L266.3 532.7L266.8 533.4L267.3 533.2L267.8 533.3L268.3 533.4L268.8 533.6L269.3 533.6L269.8 533.4L270.3 533.9L270.9 533.6L271.4 533.7L271.9 534.0L272.4 533.9L272.9 533.8L273.4 533.6L273.9 533.9L274.4 534.0L274.9 533.9L275.4 533.8L275.9 533.9L276.4 533.8L276.9 534.1L277.4 534.2L278.0 534.2L278.5 534.0L279.0 534.2L279.5 534.3L280.0 534.1L280.5 534.2L281.0 534.6L281.5 534.3L282.0 534.4L282.5 534.3L283.0 534.4L283.5 534.1L284.0 534.4L284.5 534.6L285.0 534.8L285.6 534.7L286.1 534.6L286.6 534.5L287.1 534.5L287.6 534.6L288.1 534.7L288.6 534.5L289.1 534.8L289.6 534.5L290.1 534.5L290.6 534.6L291.1 534.5L291.6 534.6L292.1 535.0L292.7 534.8L293.2 534.9L293.7 535.1L294.2 535.1L294.7 534.9L295.2 535.2L295.7 535.1L296.2 535.0L296.7 535.1L297.2 534.9L297.7 535.0L298.2 535.1L298.7 535.3L299.2 535.1L299.8 535.2L300.3 535.4L300.8 535.5L301.3 535.4L301.8 535.5L302.3 535.3L302.8 535.3L303.3 535.5L303.8 535.4L304.3 535.4L304.8 535.7L305.3 535.5L305.8 535.4L306.3 535.6L306.9 535.9" fill="none" stroke="#e8383c" stroke-width="2" stroke-linejoin="round"/>
<path d="M43.7 595.8L44.2 596.5L44.7 595.1L45.2 594.9L45.7 594.6L46.2 594.8L46.8 596.1L47.3 593.6L47.8 595.5L48.3 593.2L48.8 593.5L49.3 593.8L49.8 593.1L50.3 591.9L50.8 589.1L51.3 588.7L51.8 585.3L52.0 587.2L52.3 583.5L52.5 582.8L52.8 577.1L53.0 574.3L53.3 553.8L53.5 545.8L53.8 537.4L53.9 546.1L54.4 573.2L54.4 576.0L54.9 586.1L54.9 585.0L55.4 587.5L55.4 589.3L55.9 589.6L56.4 590.9L56.9 592.3L57.4 591.2L57.9 592.6L58.4 591.5L58.9 593.1L59.4 592.9L59.9 591.5L60.4 591.6L60.9 591.1L61.5 591.7L62.0 592.3L62.5 590.1L63.0 591.6L63.5 589.3L64.0 588.7L64.2 587.4L64.5 588.7L64.7 585.9L65.0 581.4L65.1 577.4L65.5 568.7L65.6 564.9L66.0 574.9L66.1 579.4L66.5 584.4L66.6 585.6L67.0 588.6L67.1 587.7L67.5 589.4L68.0 590.7L68.6 590.4L69.1 590.7L69.6 590.3L70.1 590.8L70.6 590.6L71.1 591.6L71.6 591.0L72.1 590.2L72.6 588.5L73.1 590.8L73.6 590.8L74.1 589.5L74.6 588.6L75.1 589.2L75.7 590.7L76.2 589.1L76.7 589.5L77.2 589.9L77.7 590.5L78.2 589.5L78.7 589.3L79.2 588.9L79.7 590.3L80.2 589.7L80.7 588.6L81.2 587.2L81.7 587.0L82.2 586.8L82.7 583.7L83.3 583.8L83.8 585.1L84.3 586.8L84.8 588.0L85.3 588.3L85.8 587.5L86.3 588.0L86.8 590.0L87.3 587.4L87.8 587.9L88.3 589.1L88.8 588.1L89.3 587.6L89.8 587.1L90.4 588.5L90.9 588.8L91.4 589.0L91.9 588.0L92.4 588.7L92.9 587.2L93.4 588.1L93.9 587.5L94.4 588.2L94.9 588.6L95.4 588.9L95.9 587.4L96.4 589.1L96.9 587.8L97.5 587.4L98.0 588.1L98.5 587.1L99.0 588.2L99.5 588.5L100.0 588.1L100.5 588.8L101.0 588.2L101.5 588.6L102.0 587.6L102.5 588.8L103.0 588.2L103.5 588.6L104.0 588.9L104.6 589.3L105.1 588.0L105.6 588.1L106.1 589.2L106.6 589.8L107.1 589.9L107.6 590.3L108.1 590.7L108.6 590.2L109.1 589.9L109.6 589.3L110.1 589.4L110.6 589.9L111.1 590.5L111.6 590.6L112.2 590.5L112.7 590.5L113.2 591.2L113.7 591.0L114.2 591.2L114.7 591.3L115.2 590.8L115.7 590.6L116.2 591.8L116.7 591.9L117.2 591.5L117.7 591.5L118.2 593.6L118.7 591.5L119.3 592.0L119.8 592.5L120.3 591.5L120.8 592.6L121.3 593.9L121.8 593.4L122.3 593.3L122.7 593.4L122.8 593.0L123.1 593.7L123.3 592.9L123.6 592.7L123.8 593.1L124.1 593.8L124.3 593.3L124.6 593.6L124.8 591.6L125.1 594.1L125.3 594.9L125.6 594.2L125.8 593.0L126.1 592.6L126.4 593.5L126.9 592.6L127.4 593.9L127.9 593.0L128.4 594.2L128.9 594.5L129.4 592.0L129.9 593.8L130.4 593.1L130.9 592.6L131.4 593.2L131.9 593.6L132.4 594.5L132.9 592.7L133.5 594.6L134.0 595.4L134.5 594.4L135.0 594.4L135.5 594.0L136.0 593.2L136.5 594.5L137.0 594.4L137.5 594.7L138.0 596.2L138.5 594.8L139.0 594.6L139.5 595.5L140.0 593.4L140.5 593.5L141.1 594.0L141.6 593.8L142.1 594.7L142.6 593.9L143.1 595.4L143.6 595.2L144.1 594.6L144.6 593.7L145.1 594.4L145.6 594.5L146.1 593.0L146.6 594.0L147.1 594.2L147.6 593.8L148.2 594.8L148.7 594.5L149.2 592.9L149.7 593.6L150.2 592.8L150.7 593.8L151.2 592.7L151.7 594.0L152.2 593.5L152.7 593.9L153.2 593.0L153.7 592.0L154.2 594.4L154.7 592.9L155.3 594.0L155.8 593.2L156.3 593.4L156.8 594.2L157.3 593.0L157.8 593.8L158.3 591.5L158.8 593.3L159.3 592.4L159.8 592.4L160.3 592.5L160.8 592.7L161.3 593.6L161.8 590.9L162.4 592.3L162.9 591.7L163.4 593.1L163.9 591.8L164.4 592.5L164.9 591.8L165.4 592.5L165.9 592.7L166.4 591.6L166.9 591.9L167.4 590.8L167.9 592.0L168.4 592.4L168.9 591.3L169.4 592.5L170.0 590.1L170.5 590.2L171.0 590.5L171.5 591.1L172.0 591.5L172.5 591.4L173.0 591.3L173.5 591.9L174.0 590.9L174.5 590.3L175.0 590.3L175.5 592.6L176.0 589.1L176.5 590.6L177.1 591.7L177.6 590.8L178.1 589.7L178.6 590.2L179.1 590.7L179.6 590.8L180.1 589.1L180.6 590.2L181.1 589.7L181.6 590.4L182.1 590.7L182.6 589.5L183.1 588.7L183.6 590.2L184.2 591.3L184.7 590.5L185.2 590.3L185.7 592.0L186.2 589.5L186.7 591.0L187.2 590.0L187.7 590.5L188.2 590.6L188.7 591.7L189.2 590.0L189.7 590.4L190.2 589.6L190.7 591.3L191.3 590.6L191.8 591.4L192.3 590.3L192.8 590.9L193.3 592.0L193.8 591.2L194.3 591.9L194.8 591.9L195.3 591.3L195.8 590.5L196.3 592.4L196.8 591.9L197.3 592.6L197.8 590.4L198.3 590.7L198.9 590.4L199.4 591.5L199.9 593.0L200.1 592.7L200.4 592.2L200.6 592.4L200.9 592.9L201.1 592.1L201.4 592.7L201.6 592.5L201.9 590.8L202.1 592.2L202.4 593.6L202.6 592.3L202.9 592.5L203.1 592.1L203.4 592.3L203.5 593.5L203.9 592.5L204.0 591.9L204.4 590.4L204.5 592.3L204.9 591.3L205.0 591.4L205.4 593.4L205.5 593.3L206.0 591.4L206.0 593.5L206.5 593.2L207.0 592.3L207.5 593.5L208.0 591.8L208.5 592.2L209.0 592.0L209.5 592.3L210.0 593.9L210.5 592.2L211.0 592.4L211.5 592.6L212.0 593.5L212.5 593.2L213.1 594.1L213.6 593.0L214.1 592.6L214.6 593.2L215.1 593.7L215.6 593.0L216.1 593.9L216.6 595.1L217.1 593.4L217.6 593.9L218.1 594.9L218.6 593.4L219.1 593.3L219.6 593.2L220.2 594.4L220.7 594.5L221.2 594.0L221.7 594.2L222.2 595.2L222.7 594.9L223.2 593.3L223.7 594.4L224.2 594.5L224.7 595.0L225.2 594.3L225.7 594.1L226.2 594.2L226.7 593.3L227.2 594.7L227.8 594.3L228.3 595.1L228.8 594.0L229.3 594.5L229.8 594.2L230.3 594.1L230.8 595.5L231.3 594.7L231.8 595.4L232.3 594.3L232.8 595.2L233.3 593.9L233.8 594.9L234.3 594.9L234.9 595.8L235.4 595.5L235.9 595.3L236.4 596.1L236.9 595.6L237.4 595.9L237.9 596.2L238.4 595.6L238.9 595.5L239.4 596.0L239.9 595.4L240.4 596.1L240.9 596.7L241.4 596.5L242.0 595.6L242.5 595.0L243.0 595.9L243.5 595.9L244.0 596.8L244.5 595.7L245.0 595.9L245.5 596.6L246.0 595.8L246.5 596.0L247.0 597.5L247.5 597.3L248.0 596.7L248.5 596.5L249.1 595.6L249.6 596.8L250.1 596.4L250.6 596.6L251.1 596.0L251.6 596.4L252.1 596.4L252.6 596.8L253.1 597.6L253.6 596.9L254.1 595.4L254.6 595.9L255.1 595.5L255.6 596.1L256.1 597.2L256.7 597.1L257.2 596.3L257.7 597.0L258.2 596.3L258.7 595.8L259.2 595.9L259.7 596.3L260.2 598.0L260.7 596.0L261.2 598.0L261.7 598.1L262.2 597.0L262.7 597.1L263.2 596.7L263.8 597.2L264.3 597.7L264.8 597.3L265.3 598.0L265.8 598.2L266.3 597.6L266.8 597.6L267.3 597.4L267.8 597.7L268.3 596.6L268.8 597.8L269.3 597.7L269.8 596.9L270.3 599.2L270.9 596.9L271.4 597.0L271.9 597.9L272.4 596.2L272.9 597.1L273.4 596.6L273.9 597.0L274.4 597.7L274.9 598.1L275.4 598.7L275.9 598.5L276.4 598.8L276.9 598.4L277.4 597.6L278.0 598.8L278.5 597.7L279.0 597.6L279.5 599.2L280.0 598.7L280.5 598.3L281.0 598.7L281.5 598.8L282.0 597.2L282.5 598.2L283.0 597.4L283.5 598.4L284.0 597.8L284.5 599.4L285.0 598.8L285.6 597.8L286.1 598.4L286.6 597.5L287.1 598.5L287.6 598.9L288.1 598.7L288.6 597.1L289.1 598.3L289.6 599.0L290.1 598.9L290.6 599.5L291.1 597.7L291.6 599.1L292.1 598.3L292.7 598.9L293.2 599.1L293.7 599.4L294.2 598.4L294.7 599.0L295.2 598.0L295.7 597.9L296.2 599.4L296.7 599.0L297.2 597.8L297.7 598.4L298.2 599.1L298.7 600.3L299.2 599.9L299.8 599.8L300.3 597.9L300.8 599.1L301.3 599.6L301.8 599.6L302.3 599.6L302.8 599.2L303.3 600.7L303.8 600.5L304.3 599.3L304.8 598.7L305.3 601.0L305.8 599.1L306.3 600.4L306.9 601.0" fill="none" stroke="#505050" stroke-width="2.4" stroke-linejoin="round"/>
<line x1="123.9" y1="389" x2="123.9" y2="618" stroke="#707070" stroke-width="2" stroke-dasharray="7.5 5.8"/>
<line x1="202.3" y1="389" x2="202.3" y2="618" stroke="#707070" stroke-width="2" stroke-dasharray="7.5 5.8"/>
<path d="M63.2 618.6V609.6M136.3 618.6V609.6M209.4 618.6V609.6M282.5 618.6V609.6M99.7 618.6V614.0M172.8 618.6V614.0M245.9 618.6V614.0" stroke="#000" stroke-width="1.6" fill="none"/>
<rect x="43.8" y="388" width="262.8" height="230.6" fill="none" stroke="#000" stroke-width="2"/>
<text x="63.2" y="644.1" font-size="19" text-anchor="middle">450</text>
<text x="136.3" y="644.1" font-size="19" text-anchor="middle">600</text>
<text x="209.4" y="644.1" font-size="19" text-anchor="middle">750</text>
<text x="282.5" y="644.1" font-size="19" text-anchor="middle">900</text>
<text x="175" y="669.8" font-size="19" text-anchor="middle">PL wavelength (nm)</text>
<text transform="translate(22.9 502.3) rotate(-90)" font-size="19" text-anchor="middle">Intensity (arb.u.)</text>
<text transform="translate(113.7 439.1) rotate(-90)" font-size="19">NV<tspan dx="1" dy="-6" font-size="12.5">0</tspan></text>
<text transform="translate(184 437) rotate(-90)" font-size="19">SiV<tspan dx="0.5" dy="-5.5" font-size="12.5">-</tspan></text>
<text x="246.3" y="458" font-size="19" fill="#0000ff">HPHT</text>
<text x="246.3" y="521.3" font-size="19" fill="#ff0000">HPHT</text>
<text x="245.6" y="587.7" font-size="19" fill="#5a5a5a">HPRT</text>
<text x="342" y="14" font-size="26" font-weight="bold">c</text>
<g id="panelc"><rect x="374" y="13" width="265" height="251.2" fill="#000"/><g clip-path="url(#circc)"><g filter="url(#grain)"><g filter="url(#bcs)"><rect x="400" y="33" width="212" height="210" fill="#bebcbc"/><g filter="url(#bc4)"><polygon points="568,50 600,80 606,120 598,124 578,108 562,70" fill="#c9c8c8"/><polygon points="410,180 470,200 500,215 520,240 420,240" fill="#c6c4c4"/><polygon points="540,185 600,170 606,200 570,240 520,240 530,200" fill="#c4c2c2"/><polygon points="430,70 450,60 440,120 430,150 412,140" fill="#b8b6b6"/></g><g filter="url(#bc1)"><polygon points="436.0,121.0 446.0,112.0 469.0,103.0 509.0,100.0 555.0,97.0 559.4,100.1 578.5,109.7 591.3,125.6 597.6,138.4 591.3,157.5 581.7,170.3 569.0,176.6 549.8,179.8 540.3,176.6 533.9,189.4 521.1,202.1 502.0,205.3 482.9,202.1 463.8,192.6 447.8,179.8 435.0,167.1 431.9,154.3" fill="#9299a2"/><polygon points="452.0,63.0 469.0,49.0 500.0,38.0 535.0,36.0 556.0,44.0 562.0,60.0 561.0,70.0 555.0,97.0 509.0,100.0 469.0,103.0 446.0,112.0 440.0,118.0 447.0,100.0 455.0,82.0" fill="#8d8b70"/></g><g clip-path="url(#clipmain)"><polygon points="452.6,157.8 452.9,154.6 446.7,144.0 437.8,142.9 432.7,147.5 432.1,154.7 438.9,161.1" fill="#939593"/><polygon points="496.8,146.7 499.2,153.6 493.8,163.8 489.5,164.1 486.1,162.5 481.0,151.2 489.0,143.9" fill="#999b99"/><polygon points="543.3,114.1 550.4,115.6 552.4,121.7 549.2,126.6 545.7,127.1 541.0,118.0" fill="#888b96"/><polygon points="542.0,150.3 542.0,156.4 550.2,158.9 554.8,156.1 556.2,151.9 553.6,148.9 543.8,148.0" fill="#878a95"/><polygon points="570.2,160.2 574.8,152.4 578.7,152.8 582.4,160.1 579.4,164.9 579.2,165.0" fill="#797c87"/><polygon points="520.5,144.5 519.3,151.5 526.1,155.1 529.4,154.0 531.9,147.5 531.7,146.9 523.2,143.2" fill="#7c7f8a"/><polygon points="459.1,200.0 468.5,195.9 468.2,188.3 460.8,186.6 458.8,187.5 456.5,195.5" fill="#858893"/><polygon points="500.4,118.0 510.0,114.9 514.1,122.0 506.4,126.4 501.6,125.2" fill="#80838e"/><polygon points="498.7,96.1 493.4,98.8 495.3,110.9 505.4,105.9 505.9,100.1" fill="#838b81"/><polygon points="542.1,110.6 547.0,104.6 554.8,104.8 555.2,110.4 550.4,115.6 543.3,114.1" fill="#80838e"/><polygon points="499.1,174.9 498.9,176.3 503.9,184.6 512.5,179.1 512.4,174.3 510.3,172.7" fill="#828590"/><polygon points="484.0,116.0 478.3,113.4 468.5,117.7 468.3,127.4 476.4,134.8 484.8,133.4 486.7,130.5" fill="#959795"/><polygon points="556.1,103.1 554.8,104.8 555.2,110.4 561.6,114.9 568.2,112.1 567.8,105.4" fill="#888b96"/><polygon points="438.9,161.1 432.1,154.7 413.9,162.0 426.3,171.0 437.3,168.1" fill="#969896"/><polygon points="575.2,115.9 580.0,113.3 580.2,104.2 569.7,103.0 567.8,105.4 568.2,112.1 572.6,115.7" fill="#7a7d88"/><polygon points="480.1,187.7 480.9,178.7 476.3,176.2 470.1,179.9 469.5,187.3 480.0,187.8" fill="#797c87"/><polygon points="514.8,205.2 520.6,201.7 520.9,200.6 519.7,197.9 512.1,194.4 507.1,199.5 507.1,201.3" fill="#828590"/><polygon points="453.5,133.6 447.5,124.6 448.5,119.2 460.8,114.2 468.5,117.7 468.3,127.4 458.5,134.8" fill="#9c9e9c"/><polygon points="437.8,142.9 432.7,147.5 418.0,138.5 428.5,128.0 436.2,130.8" fill="#8e908e"/><polygon points="568.6,160.6 562.4,150.1 556.2,151.9 554.8,156.1 561.8,164.9 564.9,164.3" fill="#8f929d"/><polygon points="544.3,170.4 553.3,178.4 549.3,185.4 541.8,184.0 539.0,180.5 542.7,170.5" fill="#7f828d"/><polygon points="446.9,175.9 437.9,169.4 437.3,168.1 438.9,161.1 452.6,157.8 454.8,160.6 455.1,171.7 450.5,175.9" fill="#909290"/><polygon points="494.8,112.2 495.3,110.9 493.4,98.8 485.5,94.4 477.3,96.0 478.3,113.4 484.0,116.0" fill="#7e867c"/><polygon points="536.5,101.8 537.5,108.3 542.1,110.6 547.0,104.6 542.7,97.8 540.5,97.3" fill="#7b7e89"/><polygon points="533.4,118.7 535.1,119.7 541.0,118.0 543.3,114.1 542.1,110.6 537.5,108.3 531.6,111.1" fill="#828590"/><polygon points="529.8,166.3 523.1,163.9 520.5,165.0 519.4,171.2 523.9,175.8 529.5,174.4 531.3,169.4" fill="#8d909b"/><polygon points="476.3,176.2 480.9,178.7 484.0,177.1 489.5,164.1 486.1,162.5 472.7,166.4 472.7,166.6" fill="#9b9d9b"/><polygon points="577.0,170.6 580.0,175.7 576.7,182.4 571.1,181.4 569.0,175.3 570.3,172.6" fill="#888b96"/><polygon points="566.6,126.2 563.2,125.5 560.1,121.6 561.6,114.9 568.2,112.1 572.6,115.7" fill="#81848f"/><polygon points="453.5,133.6 447.5,124.6 436.2,130.8 437.8,142.9 446.7,144.0" fill="#939593"/><polygon points="535.0,159.1 529.8,166.3 531.3,169.4 541.8,169.6 538.9,159.2" fill="#7e818c"/><polygon points="455.1,171.7 462.4,175.3 462.4,175.3 472.7,166.6 472.7,166.4 468.7,161.1 454.8,160.6" fill="#949694"/><polygon points="488.0,190.1 491.4,187.4 491.7,180.9 484.0,177.1 480.9,178.7 480.1,187.7" fill="#8d909b"/><polygon points="468.2,188.3 469.5,187.3 480.0,187.8 477.6,197.4 473.6,199.6 468.5,195.9" fill="#80838e"/><polygon points="575.9,141.2 572.5,149.0 564.2,148.0 564.2,139.7 567.9,137.3" fill="#8b8e99"/><polygon points="531.5,192.6 527.4,187.4 523.6,186.8 519.7,197.9 520.9,200.6 529.1,199.3" fill="#81848f"/><polygon points="542.0,150.3 531.9,147.5 531.7,146.9 534.2,141.2 542.7,138.6 543.0,138.9 543.8,148.0" fill="#8c8f9a"/><polygon points="501.4,208.2 501.2,208.2 495.7,205.2 493.6,199.8 500.3,193.6 507.1,199.5 507.1,201.3" fill="#8d909b"/><polygon points="450.5,175.9 452.2,183.9 458.8,187.5 460.8,186.6 462.4,175.3 455.1,171.7" fill="#9295a0"/><polygon points="527.4,120.5 526.1,125.9 518.3,126.0 516.4,122.6 521.4,116.1 522.7,116.0" fill="#90939e"/><polygon points="503.8,185.9 500.5,189.6 491.4,187.4 491.7,180.9 498.9,176.3 503.9,184.6" fill="#9295a0"/><polygon points="484.6,200.4 483.6,206.4 488.9,210.1 495.7,205.2 493.6,199.8 489.6,197.9" fill="#868994"/><polygon points="604.6,134.9 605.8,137.6 602.5,143.4 598.3,144.8 593.1,141.1 596.7,132.9" fill="#898c97"/><polygon points="569.6,129.6 567.9,137.3 564.2,139.7 556.1,136.4 555.8,133.5 563.2,125.5 566.6,126.2" fill="#90939e"/><polygon points="541.4,131.2 545.7,127.1 549.2,126.6 555.8,133.5 556.1,136.4 553.6,138.7 543.0,138.9 542.7,138.6" fill="#8b8e99"/><polygon points="518.3,126.0 517.1,132.4 515.4,133.7 510.7,133.0 506.4,126.4 514.1,122.0 516.4,122.6" fill="#848792"/><polygon points="516.5,153.0 513.8,160.8 512.7,161.2 501.8,153.8 510.4,149.5" fill="#8d909b"/><polygon points="486.7,130.5 484.8,133.4 489.0,143.9 496.8,146.7 502.1,139.9 497.7,129.8" fill="#929492"/><polygon points="460.8,186.6 468.2,188.3 469.5,187.3 470.1,179.9 462.4,175.3 462.4,175.3" fill="#7d808b"/><polygon points="568.6,160.6 564.9,164.3 570.3,172.6 577.0,170.6 579.2,165.0 570.2,160.2" fill="#91949f"/><polygon points="460.8,114.2 459.4,97.1 456.0,95.0 455.2,95.0 440.3,106.4 439.4,109.2 448.5,119.2" fill="#7f877d"/><polygon points="563.8,186.4 558.3,176.4 569.0,175.3 571.1,181.4 566.4,186.1" fill="#8c8f9a"/><polygon points="585.0,143.5 578.2,140.6 579.0,129.0 586.9,132.6 587.4,141.5" fill="#91949f"/><polygon points="489.6,197.9 493.6,199.8 500.3,193.6 500.5,189.6 491.4,187.4 488.0,190.1" fill="#81848f"/><polygon points="542.0,150.3 531.9,147.5 529.4,154.0 535.0,159.1 538.9,159.2 542.0,156.4" fill="#8f929d"/><polygon points="587.5,158.7 582.4,160.1 579.4,164.9 588.6,169.7 592.8,163.5" fill="#838691"/><polygon points="527.4,187.4 534.8,180.4 529.5,174.4 523.9,175.8 521.3,184.7 523.6,186.8" fill="#8c8f9a"/><polygon points="556.2,151.9 562.4,150.1 564.2,148.0 564.2,139.7 556.1,136.4 553.6,138.7 553.6,148.9" fill="#81848f"/><polygon points="510.9,213.6 501.4,208.2 507.1,201.3 514.8,205.2 513.7,211.8" fill="#797c87"/><polygon points="447.5,124.6 436.2,130.8 428.5,128.0 425.7,118.4 431.1,111.3 439.4,109.2 448.5,119.2" fill="#899187"/><polygon points="452.6,157.8 452.9,154.6 464.0,144.8 470.7,146.0 473.0,149.4 468.7,161.1 454.8,160.6" fill="#9a9c9a"/><polygon points="517.8,99.7 527.9,96.9 530.1,100.9 527.0,107.6 517.8,103.8 517.5,100.1" fill="#858893"/><polygon points="468.5,117.7 478.3,113.4 477.3,96.0 475.0,94.4 459.4,97.1 460.8,114.2" fill="#7c847a"/><polygon points="518.3,126.0 517.1,132.4 525.7,135.5 528.7,133.9 530.2,130.9 526.1,125.9" fill="#8c8f9a"/><polygon points="515.4,133.7 510.7,133.0 503.9,139.8 510.7,143.6 515.7,141.5" fill="#898c97"/><polygon points="579.0,129.0 578.8,128.6 579.0,127.8 588.0,120.7 593.7,128.1 586.9,132.6" fill="#8f929d"/><polygon points="499.1,174.9 510.3,172.7 509.2,165.7 495.1,165.2" fill="#9295a0"/><polygon points="528.7,133.9 534.2,141.2 542.7,138.6 541.4,131.2 535.1,129.1 530.2,130.9" fill="#797c87"/><polygon points="494.8,112.2 495.3,110.9 505.4,105.9 512.3,109.9 510.0,114.9 500.4,118.0" fill="#8c8f9a"/><polygon points="527.9,96.9 529.6,91.2 537.6,91.9 540.5,97.3 536.5,101.8 530.1,100.9" fill="#8d909b"/><polygon points="512.5,179.1 512.4,174.3 519.4,171.2 523.9,175.8 521.3,184.7 518.9,184.6" fill="#8f929d"/><polygon points="446.9,175.9 441.1,182.5 442.0,186.2 447.9,187.9 452.2,183.9 450.5,175.9" fill="#878a95"/><polygon points="477.6,209.3 483.6,206.4 484.6,200.4 477.6,197.4 473.6,199.6 473.2,203.9" fill="#828590"/><polygon points="569.3,97.1 564.9,93.6 560.2,93.7 556.2,98.2 556.1,103.1 567.8,105.4 569.7,103.0" fill="#9295a0"/><polygon points="503.8,185.9 500.5,189.6 500.3,193.6 507.1,199.5 512.1,194.4 511.6,190.6" fill="#81848f"/><polygon points="577.0,170.6 580.0,175.7 587.9,176.2 589.4,173.8 588.6,169.7 579.4,164.9 579.2,165.0" fill="#7e818c"/><polygon points="458.5,134.8 468.3,127.4 476.4,134.8 470.7,146.0 464.0,144.8" fill="#959795"/><polygon points="544.3,170.4 549.6,166.3 550.2,158.9 542.0,156.4 538.9,159.2 541.8,169.6 542.7,170.5" fill="#838691"/><polygon points="569.6,129.6 578.8,128.6 579.0,127.8 575.2,115.9 572.6,115.7 566.6,126.2" fill="#8a8d98"/><polygon points="555.2,110.4 561.6,114.9 560.1,121.6 552.4,121.7 550.4,115.6" fill="#80838e"/><polygon points="544.3,170.4 549.6,166.3 558.2,169.2 558.1,176.3 553.3,178.4" fill="#858893"/><polygon points="564.9,164.3 561.8,164.9 558.2,169.2 558.1,176.3 558.3,176.4 569.0,175.3 570.3,172.6" fill="#888b96"/><polygon points="533.4,118.7 535.1,119.7 535.1,129.1 530.2,130.9 526.1,125.9 527.4,120.5" fill="#838691"/><polygon points="547.0,104.6 554.8,104.8 556.1,103.1 556.2,98.2 549.1,93.8 542.7,97.8" fill="#7b7e89"/><polygon points="585.0,143.5 585.0,147.0 589.7,152.6 596.7,152.2 598.3,144.8 593.1,141.1 587.4,141.5" fill="#7b7e89"/><polygon points="510.3,172.7 512.4,174.3 519.4,171.2 520.5,165.0 513.8,160.8 512.7,161.2 509.2,165.7" fill="#878a95"/><polygon points="527.9,109.7 527.0,107.6 517.8,103.8 514.6,109.0 521.4,116.1 522.7,116.0" fill="#868994"/><polygon points="561.7,188.6 563.8,186.4 558.3,176.4 558.1,176.3 553.3,178.4 549.3,185.4 551.2,188.8" fill="#797c87"/><polygon points="516.5,153.0 513.8,160.8 520.5,165.0 523.1,163.9 526.1,155.1 519.3,151.5" fill="#7d808b"/><polygon points="589.7,152.6 585.0,147.0 578.7,152.8 582.4,160.1 587.5,158.7" fill="#8c8f9a"/><polygon points="543.8,148.0 543.0,138.9 553.6,138.7 553.6,148.9" fill="#91949f"/><polygon points="578.2,140.6 575.9,141.2 567.9,137.3 569.6,129.6 578.8,128.6 579.0,129.0" fill="#9295a0"/><polygon points="517.5,100.1 510.6,97.3 505.9,100.1 505.4,105.9 512.3,109.9 514.6,109.0 517.8,103.8" fill="#7d808b"/><polygon points="531.5,192.6 527.4,187.4 534.8,180.4 539.0,180.5 541.8,184.0 537.7,192.6" fill="#8c8f9a"/><polygon points="552.4,121.7 549.2,126.6 555.8,133.5 563.2,125.5 560.1,121.6" fill="#828590"/><polygon points="587.4,141.5 593.1,141.1 596.7,132.9 593.8,128.1 593.7,128.1 586.9,132.6" fill="#7b7e89"/><polygon points="510.4,149.5 501.8,153.8 499.2,153.6 496.8,146.7 502.1,139.9 503.9,139.8 510.7,143.6" fill="#868994"/><polygon points="456.5,195.5 458.8,187.5 452.2,183.9 447.9,187.9 448.6,194.4" fill="#868994"/><polygon points="575.2,115.9 580.0,113.3 586.8,115.9 588.0,117.5 588.0,120.7 579.0,127.8" fill="#8f929d"/><polygon points="531.6,111.1 537.5,108.3 536.5,101.8 530.1,100.9 527.0,107.6 527.9,109.7" fill="#81848f"/><polygon points="533.4,118.7 531.6,111.1 527.9,109.7 522.7,116.0 527.4,120.5" fill="#80838e"/><polygon points="499.1,174.9 498.9,176.3 491.7,180.9 484.0,177.1 489.5,164.1 493.8,163.8 495.1,165.2" fill="#7d808b"/><polygon points="541.0,118.0 545.7,127.1 541.4,131.2 535.1,129.1 535.1,119.7" fill="#848792"/><polygon points="542.7,170.5 541.8,169.6 531.3,169.4 529.5,174.4 534.8,180.4 539.0,180.5" fill="#828590"/><polygon points="585.0,143.5 585.0,147.0 578.7,152.8 574.8,152.4 572.5,149.0 575.9,141.2 578.2,140.6" fill="#7d808b"/><polygon points="550.2,158.9 549.6,166.3 558.2,169.2 561.8,164.9 554.8,156.1" fill="#8d909b"/><polygon points="494.8,112.2 500.4,118.0 501.6,125.2 497.7,129.8 486.7,130.5 484.0,116.0" fill="#8f918f"/><polygon points="517.1,132.4 525.7,135.5 523.2,143.2 520.5,144.5 515.7,141.5 515.4,133.7" fill="#878a95"/><polygon points="484.8,133.4 476.4,134.8 470.7,146.0 473.0,149.4 481.0,151.2 489.0,143.9" fill="#9fa19f"/><polygon points="503.8,185.9 511.6,190.6 518.9,184.6 512.5,179.1 503.9,184.6" fill="#868994"/><polygon points="520.5,144.5 519.3,151.5 516.5,153.0 510.4,149.5 510.7,143.6 515.7,141.5" fill="#878a95"/><polygon points="516.4,122.6 514.1,122.0 510.0,114.9 512.3,109.9 514.6,109.0 521.4,116.1" fill="#868994"/><polygon points="535.0,159.1 529.4,154.0 526.1,155.1 523.1,163.9 529.8,166.3" fill="#828590"/><polygon points="484.6,200.4 477.6,197.4 480.0,187.8 480.1,187.7 488.0,190.1 489.6,197.9" fill="#878a95"/><polygon points="446.9,175.9 441.1,182.5 434.6,180.2 437.9,169.4" fill="#7d808b"/><polygon points="511.6,190.6 512.1,194.4 519.7,197.9 523.6,186.8 521.3,184.7 518.9,184.6" fill="#7c7f8a"/><polygon points="470.1,179.9 476.3,176.2 472.7,166.6 462.4,175.3" fill="#8d909b"/><polygon points="453.5,133.6 446.7,144.0 452.9,154.6 464.0,144.8 458.5,134.8" fill="#9a9c9a"/><polygon points="568.6,160.6 562.4,150.1 564.2,148.0 572.5,149.0 574.8,152.4 570.2,160.2" fill="#8a8d98"/><polygon points="495.1,165.2 493.8,163.8 499.2,153.6 501.8,153.8 512.7,161.2 509.2,165.7" fill="#898c97"/><polygon points="597.8,153.5 596.7,163.0 592.8,163.5 587.5,158.7 589.7,152.6 596.7,152.2" fill="#90939e"/><polygon points="472.7,166.4 468.7,161.1 473.0,149.4 481.0,151.2 486.1,162.5" fill="#959795"/><polygon points="523.2,143.2 531.7,146.9 534.2,141.2 528.7,133.9 525.7,135.5" fill="#868994"/><polygon points="497.7,129.8 502.1,139.9 503.9,139.8 510.7,133.0 506.4,126.4 501.6,125.2" fill="#848792"/><g filter="url(#wig)"><path d="M452.6 157.8L452.9 154.6L446.7 144.0L437.8 142.9L432.7 147.5L432.1 154.7L438.9 161.1ZM496.8 146.7L499.2 153.6L493.8 163.8L489.5 164.1L486.1 162.5L481.0 151.2L489.0 143.9ZM498.7 96.1L493.4 98.8L495.3 110.9L505.4 105.9L505.9 100.1ZM484.0 116.0L478.3 113.4L468.5 117.7L468.3 127.4L476.4 134.8L484.8 133.4L486.7 130.5ZM438.9 161.1L432.1 154.7L413.9 162.0L426.3 171.0L437.3 168.1ZM453.5 133.6L447.5 124.6L448.5 119.2L460.8 114.2L468.5 117.7L468.3 127.4L458.5 134.8ZM437.8 142.9L432.7 147.5L418.0 138.5L428.5 128.0L436.2 130.8ZM446.9 175.9L437.9 169.4L437.3 168.1L438.9 161.1L452.6 157.8L454.8 160.6L455.1 171.7L450.5 175.9ZM494.8 112.2L495.3 110.9L493.4 98.8L485.5 94.4L477.3 96.0L478.3 113.4L484.0 116.0ZM476.3 176.2L480.9 178.7L484.0 177.1L489.5 164.1L486.1 162.5L472.7 166.4L472.7 166.6ZM453.5 133.6L447.5 124.6L436.2 130.8L437.8 142.9L446.7 144.0ZM455.1 171.7L462.4 175.3L462.4 175.3L472.7 166.6L472.7 166.4L468.7 161.1L454.8 160.6ZM486.7 130.5L484.8 133.4L489.0 143.9L496.8 146.7L502.1 139.9L497.7 129.8ZM460.8 114.2L459.4 97.1L456.0 95.0L455.2 95.0L440.3 106.4L439.4 109.2L448.5 119.2ZM447.5 124.6L436.2 130.8L428.5 128.0L425.7 118.4L431.1 111.3L439.4 109.2L448.5 119.2ZM452.6 157.8L452.9 154.6L464.0 144.8L470.7 146.0L473.0 149.4L468.7 161.1L454.8 160.6ZM468.5 117.7L478.3 113.4L477.3 96.0L475.0 94.4L459.4 97.1L460.8 114.2ZM458.5 134.8L468.3 127.4L476.4 134.8L470.7 146.0L464.0 144.8ZM494.8 112.2L500.4 118.0L501.6 125.2L497.7 129.8L486.7 130.5L484.0 116.0ZM484.8 133.4L476.4 134.8L470.7 146.0L473.0 149.4L481.0 151.2L489.0 143.9ZM453.5 133.6L446.7 144.0L452.9 154.6L464.0 144.8L458.5 134.8ZM472.7 166.4L468.7 161.1L473.0 149.4L481.0 151.2L486.1 162.5Z" fill="none" stroke="#b8ae9c" stroke-width="1.4" stroke-opacity="0.8"/><path d="M452.6 157.8L452.9 154.6L446.7 144.0L437.8 142.9L432.7 147.5L432.1 154.7L438.9 161.1ZM496.8 146.7L499.2 153.6L493.8 163.8L489.5 164.1L486.1 162.5L481.0 151.2L489.0 143.9ZM498.7 96.1L493.4 98.8L495.3 110.9L505.4 105.9L505.9 100.1ZM484.0 116.0L478.3 113.4L468.5 117.7L468.3 127.4L476.4 134.8L484.8 133.4L486.7 130.5ZM438.9 161.1L432.1 154.7L413.9 162.0L426.3 171.0L437.3 168.1ZM453.5 133.6L447.5 124.6L448.5 119.2L460.8 114.2L468.5 117.7L468.3 127.4L458.5 134.8ZM437.8 142.9L432.7 147.5L418.0 138.5L428.5 128.0L436.2 130.8ZM446.9 175.9L437.9 169.4L437.3 168.1L438.9 161.1L452.6 157.8L454.8 160.6L455.1 171.7L450.5 175.9ZM494.8 112.2L495.3 110.9L493.4 98.8L485.5 94.4L477.3 96.0L478.3 113.4L484.0 116.0ZM476.3 176.2L480.9 178.7L484.0 177.1L489.5 164.1L486.1 162.5L472.7 166.4L472.7 166.6ZM453.5 133.6L447.5 124.6L436.2 130.8L437.8 142.9L446.7 144.0ZM455.1 171.7L462.4 175.3L462.4 175.3L472.7 166.6L472.7 166.4L468.7 161.1L454.8 160.6ZM486.7 130.5L484.8 133.4L489.0 143.9L496.8 146.7L502.1 139.9L497.7 129.8ZM460.8 114.2L459.4 97.1L456.0 95.0L455.2 95.0L440.3 106.4L439.4 109.2L448.5 119.2ZM447.5 124.6L436.2 130.8L428.5 128.0L425.7 118.4L431.1 111.3L439.4 109.2L448.5 119.2ZM452.6 157.8L452.9 154.6L464.0 144.8L470.7 146.0L473.0 149.4L468.7 161.1L454.8 160.6ZM468.5 117.7L478.3 113.4L477.3 96.0L475.0 94.4L459.4 97.1L460.8 114.2ZM458.5 134.8L468.3 127.4L476.4 134.8L470.7 146.0L464.0 144.8ZM494.8 112.2L500.4 118.0L501.6 125.2L497.7 129.8L486.7 130.5L484.0 116.0ZM484.8 133.4L476.4 134.8L470.7 146.0L473.0 149.4L481.0 151.2L489.0 143.9ZM453.5 133.6L446.7 144.0L452.9 154.6L464.0 144.8L458.5 134.8ZM472.7 166.4L468.7 161.1L473.0 149.4L481.0 151.2L486.1 162.5Z" fill="none" stroke="#7a6450" stroke-width="0.7" stroke-opacity="0.6"/><path d="M543.3 114.1L550.4 115.6L552.4 121.7L549.2 126.6L545.7 127.1L541.0 118.0ZM542.0 150.3L542.0 156.4L550.2 158.9L554.8 156.1L556.2 151.9L553.6 148.9L543.8 148.0ZM570.2 160.2L574.8 152.4L578.7 152.8L582.4 160.1L579.4 164.9L579.2 165.0ZM520.5 144.5L519.3 151.5L526.1 155.1L529.4 154.0L531.9 147.5L531.7 146.9L523.2 143.2ZM459.1 200.0L468.5 195.9L468.2 188.3L460.8 186.6L458.8 187.5L456.5 195.5ZM500.4 118.0L510.0 114.9L514.1 122.0L506.4 126.4L501.6 125.2ZM542.1 110.6L547.0 104.6L554.8 104.8L555.2 110.4L550.4 115.6L543.3 114.1ZM499.1 174.9L498.9 176.3L503.9 184.6L512.5 179.1L512.4 174.3L510.3 172.7ZM556.1 103.1L554.8 104.8L555.2 110.4L561.6 114.9L568.2 112.1L567.8 105.4ZM575.2 115.9L580.0 113.3L580.2 104.2L569.7 103.0L567.8 105.4L568.2 112.1L572.6 115.7ZM480.1 187.7L480.9 178.7L476.3 176.2L470.1 179.9L469.5 187.3L480.0 187.8ZM514.8 205.2L520.6 201.7L520.9 200.6L519.7 197.9L512.1 194.4L507.1 199.5L507.1 201.3ZM568.6 160.6L562.4 150.1L556.2 151.9L554.8 156.1L561.8 164.9L564.9 164.3ZM544.3 170.4L553.3 178.4L549.3 185.4L541.8 184.0L539.0 180.5L542.7 170.5ZM536.5 101.8L537.5 108.3L542.1 110.6L547.0 104.6L542.7 97.8L540.5 97.3ZM533.4 118.7L535.1 119.7L541.0 118.0L543.3 114.1L542.1 110.6L537.5 108.3L531.6 111.1ZM529.8 166.3L523.1 163.9L520.5 165.0L519.4 171.2L523.9 175.8L529.5 174.4L531.3 169.4ZM577.0 170.6L580.0 175.7L576.7 182.4L571.1 181.4L569.0 175.3L570.3 172.6ZM566.6 126.2L563.2 125.5L560.1 121.6L561.6 114.9L568.2 112.1L572.6 115.7ZM535.0 159.1L529.8 166.3L531.3 169.4L541.8 169.6L538.9 159.2ZM488.0 190.1L491.4 187.4L491.7 180.9L484.0 177.1L480.9 178.7L480.1 187.7ZM468.2 188.3L469.5 187.3L480.0 187.8L477.6 197.4L473.6 199.6L468.5 195.9ZM575.9 141.2L572.5 149.0L564.2 148.0L564.2 139.7L567.9 137.3ZM531.5 192.6L527.4 187.4L523.6 186.8L519.7 197.9L520.9 200.6L529.1 199.3ZM542.0 150.3L531.9 147.5L531.7 146.9L534.2 141.2L542.7 138.6L543.0 138.9L543.8 148.0ZM501.4 208.2L501.2 208.2L495.7 205.2L493.6 199.8L500.3 193.6L507.1 199.5L507.1 201.3ZM450.5 175.9L452.2 183.9L458.8 187.5L460.8 186.6L462.4 175.3L455.1 171.7ZM527.4 120.5L526.1 125.9L518.3 126.0L516.4 122.6L521.4 116.1L522.7 116.0ZM503.8 185.9L500.5 189.6L491.4 187.4L491.7 180.9L498.9 176.3L503.9 184.6ZM484.6 200.4L483.6 206.4L488.9 210.1L495.7 205.2L493.6 199.8L489.6 197.9ZM604.6 134.9L605.8 137.6L602.5 143.4L598.3 144.8L593.1 141.1L596.7 132.9ZM569.6 129.6L567.9 137.3L564.2 139.7L556.1 136.4L555.8 133.5L563.2 125.5L566.6 126.2ZM541.4 131.2L545.7 127.1L549.2 126.6L555.8 133.5L556.1 136.4L553.6 138.7L543.0 138.9L542.7 138.6ZM518.3 126.0L517.1 132.4L515.4 133.7L510.7 133.0L506.4 126.4L514.1 122.0L516.4 122.6ZM516.5 153.0L513.8 160.8L512.7 161.2L501.8 153.8L510.4 149.5ZM460.8 186.6L468.2 188.3L469.5 187.3L470.1 179.9L462.4 175.3L462.4 175.3ZM568.6 160.6L564.9 164.3L570.3 172.6L577.0 170.6L579.2 165.0L570.2 160.2ZM563.8 186.4L558.3 176.4L569.0 175.3L571.1 181.4L566.4 186.1ZM585.0 143.5L578.2 140.6L579.0 129.0L586.9 132.6L587.4 141.5ZM489.6 197.9L493.6 199.8L500.3 193.6L500.5 189.6L491.4 187.4L488.0 190.1ZM542.0 150.3L531.9 147.5L529.4 154.0L535.0 159.1L538.9 159.2L542.0 156.4ZM587.5 158.7L582.4 160.1L579.4 164.9L588.6 169.7L592.8 163.5ZM527.4 187.4L534.8 180.4L529.5 174.4L523.9 175.8L521.3 184.7L523.6 186.8ZM556.2 151.9L562.4 150.1L564.2 148.0L564.2 139.7L556.1 136.4L553.6 138.7L553.6 148.9ZM510.9 213.6L501.4 208.2L507.1 201.3L514.8 205.2L513.7 211.8ZM517.8 99.7L527.9 96.9L530.1 100.9L527.0 107.6L517.8 103.8L517.5 100.1ZM518.3 126.0L517.1 132.4L525.7 135.5L528.7 133.9L530.2 130.9L526.1 125.9ZM515.4 133.7L510.7 133.0L503.9 139.8L510.7 143.6L515.7 141.5ZM579.0 129.0L578.8 128.6L579.0 127.8L588.0 120.7L593.7 128.1L586.9 132.6ZM499.1 174.9L510.3 172.7L509.2 165.7L495.1 165.2ZM528.7 133.9L534.2 141.2L542.7 138.6L541.4 131.2L535.1 129.1L530.2 130.9ZM494.8 112.2L495.3 110.9L505.4 105.9L512.3 109.9L510.0 114.9L500.4 118.0ZM527.9 96.9L529.6 91.2L537.6 91.9L540.5 97.3L536.5 101.8L530.1 100.9ZM512.5 179.1L512.4 174.3L519.4 171.2L523.9 175.8L521.3 184.7L518.9 184.6ZM446.9 175.9L441.1 182.5L442.0 186.2L447.9 187.9L452.2 183.9L450.5 175.9ZM477.6 209.3L483.6 206.4L484.6 200.4L477.6 197.4L473.6 199.6L473.2 203.9ZM569.3 97.1L564.9 93.6L560.2 93.7L556.2 98.2L556.1 103.1L567.8 105.4L569.7 103.0ZM503.8 185.9L500.5 189.6L500.3 193.6L507.1 199.5L512.1 194.4L511.6 190.6ZM577.0 170.6L580.0 175.7L587.9 176.2L589.4 173.8L588.6 169.7L579.4 164.9L579.2 165.0ZM544.3 170.4L549.6 166.3L550.2 158.9L542.0 156.4L538.9 159.2L541.8 169.6L542.7 170.5ZM569.6 129.6L578.8 128.6L579.0 127.8L575.2 115.9L572.6 115.7L566.6 126.2ZM555.2 110.4L561.6 114.9L560.1 121.6L552.4 121.7L550.4 115.6ZM544.3 170.4L549.6 166.3L558.2 169.2L558.1 176.3L553.3 178.4ZM564.9 164.3L561.8 164.9L558.2 169.2L558.1 176.3L558.3 176.4L569.0 175.3L570.3 172.6ZM533.4 118.7L535.1 119.7L535.1 129.1L530.2 130.9L526.1 125.9L527.4 120.5ZM547.0 104.6L554.8 104.8L556.1 103.1L556.2 98.2L549.1 93.8L542.7 97.8ZM585.0 143.5L585.0 147.0L589.7 152.6L596.7 152.2L598.3 144.8L593.1 141.1L587.4 141.5ZM510.3 172.7L512.4 174.3L519.4 171.2L520.5 165.0L513.8 160.8L512.7 161.2L509.2 165.7ZM527.9 109.7L527.0 107.6L517.8 103.8L514.6 109.0L521.4 116.1L522.7 116.0ZM561.7 188.6L563.8 186.4L558.3 176.4L558.1 176.3L553.3 178.4L549.3 185.4L551.2 188.8ZM516.5 153.0L513.8 160.8L520.5 165.0L523.1 163.9L526.1 155.1L519.3 151.5ZM589.7 152.6L585.0 147.0L578.7 152.8L582.4 160.1L587.5 158.7ZM543.8 148.0L543.0 138.9L553.6 138.7L553.6 148.9ZM578.2 140.6L575.9 141.2L567.9 137.3L569.6 129.6L578.8 128.6L579.0 129.0ZM517.5 100.1L510.6 97.3L505.9 100.1L505.4 105.9L512.3 109.9L514.6 109.0L517.8 103.8ZM531.5 192.6L527.4 187.4L534.8 180.4L539.0 180.5L541.8 184.0L537.7 192.6ZM552.4 121.7L549.2 126.6L555.8 133.5L563.2 125.5L560.1 121.6ZM587.4 141.5L593.1 141.1L596.7 132.9L593.8 128.1L593.7 128.1L586.9 132.6ZM510.4 149.5L501.8 153.8L499.2 153.6L496.8 146.7L502.1 139.9L503.9 139.8L510.7 143.6ZM456.5 195.5L458.8 187.5L452.2 183.9L447.9 187.9L448.6 194.4ZM575.2 115.9L580.0 113.3L586.8 115.9L588.0 117.5L588.0 120.7L579.0 127.8ZM531.6 111.1L537.5 108.3L536.5 101.8L530.1 100.9L527.0 107.6L527.9 109.7ZM533.4 118.7L531.6 111.1L527.9 109.7L522.7 116.0L527.4 120.5ZM499.1 174.9L498.9 176.3L491.7 180.9L484.0 177.1L489.5 164.1L493.8 163.8L495.1 165.2ZM541.0 118.0L545.7 127.1L541.4 131.2L535.1 129.1L535.1 119.7ZM542.7 170.5L541.8 169.6L531.3 169.4L529.5 174.4L534.8 180.4L539.0 180.5ZM585.0 143.5L585.0 147.0L578.7 152.8L574.8 152.4L572.5 149.0L575.9 141.2L578.2 140.6ZM550.2 158.9L549.6 166.3L558.2 169.2L561.8 164.9L554.8 156.1ZM517.1 132.4L525.7 135.5L523.2 143.2L520.5 144.5L515.7 141.5L515.4 133.7ZM503.8 185.9L511.6 190.6L518.9 184.6L512.5 179.1L503.9 184.6ZM520.5 144.5L519.3 151.5L516.5 153.0L510.4 149.5L510.7 143.6L515.7 141.5ZM516.4 122.6L514.1 122.0L510.0 114.9L512.3 109.9L514.6 109.0L521.4 116.1ZM535.0 159.1L529.4 154.0L526.1 155.1L523.1 163.9L529.8 166.3ZM484.6 200.4L477.6 197.4L480.0 187.8L480.1 187.7L488.0 190.1L489.6 197.9ZM446.9 175.9L441.1 182.5L434.6 180.2L437.9 169.4ZM511.6 190.6L512.1 194.4L519.7 197.9L523.6 186.8L521.3 184.7L518.9 184.6ZM470.1 179.9L476.3 176.2L472.7 166.6L462.4 175.3ZM568.6 160.6L562.4 150.1L564.2 148.0L572.5 149.0L574.8 152.4L570.2 160.2ZM495.1 165.2L493.8 163.8L499.2 153.6L501.8 153.8L512.7 161.2L509.2 165.7ZM597.8 153.5L596.7 163.0L592.8 163.5L587.5 158.7L589.7 152.6L596.7 152.2ZM523.2 143.2L531.7 146.9L534.2 141.2L528.7 133.9L525.7 135.5ZM497.7 129.8L502.1 139.9L503.9 139.8L510.7 133.0L506.4 126.4L501.6 125.2Z" fill="none" stroke="#aeaa86" stroke-width="2.0" stroke-opacity="0.65"/><path d="M543.3 114.1L550.4 115.6L552.4 121.7L549.2 126.6L545.7 127.1L541.0 118.0ZM542.0 150.3L542.0 156.4L550.2 158.9L554.8 156.1L556.2 151.9L553.6 148.9L543.8 148.0ZM570.2 160.2L574.8 152.4L578.7 152.8L582.4 160.1L579.4 164.9L579.2 165.0ZM520.5 144.5L519.3 151.5L526.1 155.1L529.4 154.0L531.9 147.5L531.7 146.9L523.2 143.2ZM459.1 200.0L468.5 195.9L468.2 188.3L460.8 186.6L458.8 187.5L456.5 195.5ZM500.4 118.0L510.0 114.9L514.1 122.0L506.4 126.4L501.6 125.2ZM542.1 110.6L547.0 104.6L554.8 104.8L555.2 110.4L550.4 115.6L543.3 114.1ZM499.1 174.9L498.9 176.3L503.9 184.6L512.5 179.1L512.4 174.3L510.3 172.7ZM556.1 103.1L554.8 104.8L555.2 110.4L561.6 114.9L568.2 112.1L567.8 105.4ZM575.2 115.9L580.0 113.3L580.2 104.2L569.7 103.0L567.8 105.4L568.2 112.1L572.6 115.7ZM480.1 187.7L480.9 178.7L476.3 176.2L470.1 179.9L469.5 187.3L480.0 187.8ZM514.8 205.2L520.6 201.7L520.9 200.6L519.7 197.9L512.1 194.4L507.1 199.5L507.1 201.3ZM568.6 160.6L562.4 150.1L556.2 151.9L554.8 156.1L561.8 164.9L564.9 164.3ZM544.3 170.4L553.3 178.4L549.3 185.4L541.8 184.0L539.0 180.5L542.7 170.5ZM536.5 101.8L537.5 108.3L542.1 110.6L547.0 104.6L542.7 97.8L540.5 97.3ZM533.4 118.7L535.1 119.7L541.0 118.0L543.3 114.1L542.1 110.6L537.5 108.3L531.6 111.1ZM529.8 166.3L523.1 163.9L520.5 165.0L519.4 171.2L523.9 175.8L529.5 174.4L531.3 169.4ZM577.0 170.6L580.0 175.7L576.7 182.4L571.1 181.4L569.0 175.3L570.3 172.6ZM566.6 126.2L563.2 125.5L560.1 121.6L561.6 114.9L568.2 112.1L572.6 115.7ZM535.0 159.1L529.8 166.3L531.3 169.4L541.8 169.6L538.9 159.2ZM488.0 190.1L491.4 187.4L491.7 180.9L484.0 177.1L480.9 178.7L480.1 187.7ZM468.2 188.3L469.5 187.3L480.0 187.8L477.6 197.4L473.6 199.6L468.5 195.9ZM575.9 141.2L572.5 149.0L564.2 148.0L564.2 139.7L567.9 137.3ZM531.5 192.6L527.4 187.4L523.6 186.8L519.7 197.9L520.9 200.6L529.1 199.3ZM542.0 150.3L531.9 147.5L531.7 146.9L534.2 141.2L542.7 138.6L543.0 138.9L543.8 148.0ZM501.4 208.2L501.2 208.2L495.7 205.2L493.6 199.8L500.3 193.6L507.1 199.5L507.1 201.3ZM450.5 175.9L452.2 183.9L458.8 187.5L460.8 186.6L462.4 175.3L455.1 171.7ZM527.4 120.5L526.1 125.9L518.3 126.0L516.4 122.6L521.4 116.1L522.7 116.0ZM503.8 185.9L500.5 189.6L491.4 187.4L491.7 180.9L498.9 176.3L503.9 184.6ZM484.6 200.4L483.6 206.4L488.9 210.1L495.7 205.2L493.6 199.8L489.6 197.9ZM604.6 134.9L605.8 137.6L602.5 143.4L598.3 144.8L593.1 141.1L596.7 132.9ZM569.6 129.6L567.9 137.3L564.2 139.7L556.1 136.4L555.8 133.5L563.2 125.5L566.6 126.2ZM541.4 131.2L545.7 127.1L549.2 126.6L555.8 133.5L556.1 136.4L553.6 138.7L543.0 138.9L542.7 138.6ZM518.3 126.0L517.1 132.4L515.4 133.7L510.7 133.0L506.4 126.4L514.1 122.0L516.4 122.6ZM516.5 153.0L513.8 160.8L512.7 161.2L501.8 153.8L510.4 149.5ZM460.8 186.6L468.2 188.3L469.5 187.3L470.1 179.9L462.4 175.3L462.4 175.3ZM568.6 160.6L564.9 164.3L570.3 172.6L577.0 170.6L579.2 165.0L570.2 160.2ZM563.8 186.4L558.3 176.4L569.0 175.3L571.1 181.4L566.4 186.1ZM585.0 143.5L578.2 140.6L579.0 129.0L586.9 132.6L587.4 141.5ZM489.6 197.9L493.6 199.8L500.3 193.6L500.5 189.6L491.4 187.4L488.0 190.1ZM542.0 150.3L531.9 147.5L529.4 154.0L535.0 159.1L538.9 159.2L542.0 156.4ZM587.5 158.7L582.4 160.1L579.4 164.9L588.6 169.7L592.8 163.5ZM527.4 187.4L534.8 180.4L529.5 174.4L523.9 175.8L521.3 184.7L523.6 186.8ZM556.2 151.9L562.4 150.1L564.2 148.0L564.2 139.7L556.1 136.4L553.6 138.7L553.6 148.9ZM510.9 213.6L501.4 208.2L507.1 201.3L514.8 205.2L513.7 211.8ZM517.8 99.7L527.9 96.9L530.1 100.9L527.0 107.6L517.8 103.8L517.5 100.1ZM518.3 126.0L517.1 132.4L525.7 135.5L528.7 133.9L530.2 130.9L526.1 125.9ZM515.4 133.7L510.7 133.0L503.9 139.8L510.7 143.6L515.7 141.5ZM579.0 129.0L578.8 128.6L579.0 127.8L588.0 120.7L593.7 128.1L586.9 132.6ZM499.1 174.9L510.3 172.7L509.2 165.7L495.1 165.2ZM528.7 133.9L534.2 141.2L542.7 138.6L541.4 131.2L535.1 129.1L530.2 130.9ZM494.8 112.2L495.3 110.9L505.4 105.9L512.3 109.9L510.0 114.9L500.4 118.0ZM527.9 96.9L529.6 91.2L537.6 91.9L540.5 97.3L536.5 101.8L530.1 100.9ZM512.5 179.1L512.4 174.3L519.4 171.2L523.9 175.8L521.3 184.7L518.9 184.6ZM446.9 175.9L441.1 182.5L442.0 186.2L447.9 187.9L452.2 183.9L450.5 175.9ZM477.6 209.3L483.6 206.4L484.6 200.4L477.6 197.4L473.6 199.6L473.2 203.9ZM569.3 97.1L564.9 93.6L560.2 93.7L556.2 98.2L556.1 103.1L567.8 105.4L569.7 103.0ZM503.8 185.9L500.5 189.6L500.3 193.6L507.1 199.5L512.1 194.4L511.6 190.6ZM577.0 170.6L580.0 175.7L587.9 176.2L589.4 173.8L588.6 169.7L579.4 164.9L579.2 165.0ZM544.3 170.4L549.6 166.3L550.2 158.9L542.0 156.4L538.9 159.2L541.8 169.6L542.7 170.5ZM569.6 129.6L578.8 128.6L579.0 127.8L575.2 115.9L572.6 115.7L566.6 126.2ZM555.2 110.4L561.6 114.9L560.1 121.6L552.4 121.7L550.4 115.6ZM544.3 170.4L549.6 166.3L558.2 169.2L558.1 176.3L553.3 178.4ZM564.9 164.3L561.8 164.9L558.2 169.2L558.1 176.3L558.3 176.4L569.0 175.3L570.3 172.6ZM533.4 118.7L535.1 119.7L535.1 129.1L530.2 130.9L526.1 125.9L527.4 120.5ZM547.0 104.6L554.8 104.8L556.1 103.1L556.2 98.2L549.1 93.8L542.7 97.8ZM585.0 143.5L585.0 147.0L589.7 152.6L596.7 152.2L598.3 144.8L593.1 141.1L587.4 141.5ZM510.3 172.7L512.4 174.3L519.4 171.2L520.5 165.0L513.8 160.8L512.7 161.2L509.2 165.7ZM527.9 109.7L527.0 107.6L517.8 103.8L514.6 109.0L521.4 116.1L522.7 116.0ZM561.7 188.6L563.8 186.4L558.3 176.4L558.1 176.3L553.3 178.4L549.3 185.4L551.2 188.8ZM516.5 153.0L513.8 160.8L520.5 165.0L523.1 163.9L526.1 155.1L519.3 151.5ZM589.7 152.6L585.0 147.0L578.7 152.8L582.4 160.1L587.5 158.7ZM543.8 148.0L543.0 138.9L553.6 138.7L553.6 148.9ZM578.2 140.6L575.9 141.2L567.9 137.3L569.6 129.6L578.8 128.6L579.0 129.0ZM517.5 100.1L510.6 97.3L505.9 100.1L505.4 105.9L512.3 109.9L514.6 109.0L517.8 103.8ZM531.5 192.6L527.4 187.4L534.8 180.4L539.0 180.5L541.8 184.0L537.7 192.6ZM552.4 121.7L549.2 126.6L555.8 133.5L563.2 125.5L560.1 121.6ZM587.4 141.5L593.1 141.1L596.7 132.9L593.8 128.1L593.7 128.1L586.9 132.6ZM510.4 149.5L501.8 153.8L499.2 153.6L496.8 146.7L502.1 139.9L503.9 139.8L510.7 143.6ZM456.5 195.5L458.8 187.5L452.2 183.9L447.9 187.9L448.6 194.4ZM575.2 115.9L580.0 113.3L586.8 115.9L588.0 117.5L588.0 120.7L579.0 127.8ZM531.6 111.1L537.5 108.3L536.5 101.8L530.1 100.9L527.0 107.6L527.9 109.7ZM533.4 118.7L531.6 111.1L527.9 109.7L522.7 116.0L527.4 120.5ZM499.1 174.9L498.9 176.3L491.7 180.9L484.0 177.1L489.5 164.1L493.8 163.8L495.1 165.2ZM541.0 118.0L545.7 127.1L541.4 131.2L535.1 129.1L535.1 119.7ZM542.7 170.5L541.8 169.6L531.3 169.4L529.5 174.4L534.8 180.4L539.0 180.5ZM585.0 143.5L585.0 147.0L578.7 152.8L574.8 152.4L572.5 149.0L575.9 141.2L578.2 140.6ZM550.2 158.9L549.6 166.3L558.2 169.2L561.8 164.9L554.8 156.1ZM517.1 132.4L525.7 135.5L523.2 143.2L520.5 144.5L515.7 141.5L515.4 133.7ZM503.8 185.9L511.6 190.6L518.9 184.6L512.5 179.1L503.9 184.6ZM520.5 144.5L519.3 151.5L516.5 153.0L510.4 149.5L510.7 143.6L515.7 141.5ZM516.4 122.6L514.1 122.0L510.0 114.9L512.3 109.9L514.6 109.0L521.4 116.1ZM535.0 159.1L529.4 154.0L526.1 155.1L523.1 163.9L529.8 166.3ZM484.6 200.4L477.6 197.4L480.0 187.8L480.1 187.7L488.0 190.1L489.6 197.9ZM446.9 175.9L441.1 182.5L434.6 180.2L437.9 169.4ZM511.6 190.6L512.1 194.4L519.7 197.9L523.6 186.8L521.3 184.7L518.9 184.6ZM470.1 179.9L476.3 176.2L472.7 166.6L462.4 175.3ZM568.6 160.6L562.4 150.1L564.2 148.0L572.5 149.0L574.8 152.4L570.2 160.2ZM495.1 165.2L493.8 163.8L499.2 153.6L501.8 153.8L512.7 161.2L509.2 165.7ZM597.8 153.5L596.7 163.0L592.8 163.5L587.5 158.7L589.7 152.6L596.7 152.2ZM523.2 143.2L531.7 146.9L534.2 141.2L528.7 133.9L525.7 135.5ZM497.7 129.8L502.1 139.9L503.9 139.8L510.7 133.0L506.4 126.4L501.6 125.2Z" fill="none" stroke="#4a3226" stroke-width="1.35" stroke-opacity="0.85"/></g></g><g clip-path="url(#clipup)"><polygon points="487.9,30.9 483.2,32.9 480.6,40.4 489.0,44.4 492.0,42.3 493.7,33.0" fill="#918b6d"/><polygon points="493.7,33.0 499.6,30.3 504.3,32.9 500.9,44.2 492.0,42.3" fill="#979172"/><polygon points="518.9,38.9 515.5,31.5 510.4,30.7 504.3,32.9 511.1,43.3" fill="#999374"/><polygon points="521.2,40.4 518.9,38.9 515.5,31.5 520.7,25.6 532.5,31.8 529.2,38.8" fill="#7e7a5f"/><polygon points="538.7,38.5 537.2,44.8 533.2,44.7 529.2,38.8 532.5,31.8 534.2,30.8 535.4,31.0" fill="#847f64"/><polygon points="538.7,38.5 546.2,40.5 549.0,35.7 544.7,30.9 535.4,31.0" fill="#7e7a5f"/><polygon points="476.5,50.6 482.5,52.6 489.2,49.7 489.0,44.4 480.6,40.4 478.6,41.1 475.5,45.6" fill="#a09a79"/><polygon points="490.1,50.9 489.2,49.7 489.0,44.4 492.0,42.3 500.9,44.2 504.6,50.5 504.6,50.5" fill="#807c61"/><polygon points="508.8,47.7 504.6,50.5 500.9,44.2 504.3,32.9 504.3,32.9 511.1,43.3" fill="#817d61"/><polygon points="520.7,47.3 517.4,49.4 508.8,47.7 511.1,43.3 518.9,38.9 521.2,40.4" fill="#979273"/><polygon points="529.3,55.3 528.6,55.5 520.7,47.3 521.2,40.4 529.2,38.8 533.2,44.7" fill="#9e9878"/><polygon points="538.7,38.5 537.2,44.8 542.9,46.1 544.1,45.8 546.2,40.5" fill="#7a755c"/><polygon points="549.0,35.7 550.7,35.7 555.4,38.8 554.5,48.4 549.8,51.6 544.1,45.8 546.2,40.5" fill="#78745b"/><polygon points="554.5,48.4 562.8,49.8 565.8,43.0 562.3,39.3 555.4,38.8" fill="#7e795f"/><polygon points="473.4,57.0 476.5,50.6 475.5,45.6 467.6,45.3 463.3,48.3 463.0,55.0 468.3,60.0" fill="#686e53"/><polygon points="473.4,57.0 479.0,59.7 483.2,58.4 482.5,52.6 476.5,50.6" fill="#87856a"/><polygon points="483.2,58.4 490.1,62.3 491.6,59.6 490.1,50.9 489.2,49.7 482.5,52.6" fill="#717059"/><polygon points="490.1,50.9 504.6,50.5 504.8,52.0 501.8,56.7 491.6,59.6" fill="#78775f"/><polygon points="517.4,49.4 515.5,59.5 514.8,59.5 504.8,52.0 504.6,50.5 504.6,50.5 508.8,47.7" fill="#858064"/><polygon points="528.6,55.5 522.0,62.3 515.5,59.5 517.4,49.4 520.7,47.3" fill="#828066"/><polygon points="536.7,58.3 542.9,46.1 537.2,44.8 533.2,44.7 529.3,55.3 536.5,58.3" fill="#8b8669"/><polygon points="536.7,58.3 544.1,61.5 544.9,61.2 549.9,55.8 549.8,51.6 544.1,45.8 542.9,46.1" fill="#7d7657"/><polygon points="549.8,51.6 549.9,55.8 558.7,59.2 563.5,52.9 562.8,49.8 554.5,48.4" fill="#908865"/><polygon points="455.7,57.1 451.2,55.6 443.8,61.9 442.6,66.4 442.7,66.5 454.0,68.6 456.1,66.1" fill="#4e5843"/><polygon points="468.3,60.0 468.2,65.2 456.1,66.1 455.7,57.1 463.0,55.0" fill="#70785d"/><polygon points="473.4,57.0 479.0,59.7 480.0,66.1 469.4,66.9 468.4,65.6 468.2,65.2 468.3,60.0" fill="#616a52"/><polygon points="479.0,59.7 480.0,66.1 485.4,69.2 490.0,66.2 490.1,62.3 483.2,58.4" fill="#5f5f4b"/><polygon points="491.6,59.6 490.1,62.3 490.0,66.2 496.8,70.4 503.7,66.3 501.8,56.7" fill="#63634e"/><polygon points="514.8,59.5 504.8,52.0 501.8,56.7 503.7,66.3 507.3,67.1" fill="#6d6c56"/><polygon points="509.7,70.9 507.3,67.1 514.8,59.5 515.5,59.5 522.0,62.3 522.5,65.5 519.2,68.5" fill="#5d5d4a"/><polygon points="536.5,58.3 533.8,67.0 527.2,71.0 522.5,65.5 522.0,62.3 528.6,55.5 529.3,55.3" fill="#918966"/><polygon points="536.7,58.3 544.1,61.5 541.5,71.2 533.8,67.0 536.5,58.3" fill="#8d8563"/><polygon points="558.7,59.2 560.9,67.0 553.9,68.8 544.9,61.2 549.9,55.8" fill="#666045"/><polygon points="563.5,52.9 569.9,55.7 570.9,67.5 561.2,67.1 560.9,67.0 558.7,59.2" fill="#746d4f"/><polygon points="441.6,70.1 442.7,66.5 454.0,68.6 456.0,73.3 452.4,79.3 443.4,76.5" fill="#525c46"/><polygon points="458.9,73.9 456.0,73.3 454.0,68.6 456.1,66.1 468.2,65.2 468.4,65.6" fill="#5e674f"/><polygon points="472.0,78.1 469.4,66.9 468.4,65.6 458.9,73.9 465.5,80.4 470.2,79.7" fill="#757d61"/><polygon points="472.0,78.1 477.4,78.6 481.7,78.0 485.4,69.2 480.0,66.1 469.4,66.9" fill="#58614a"/><polygon points="485.4,69.2 490.0,66.2 496.8,70.4 497.3,73.3 485.4,81.4 481.7,78.0" fill="#7d7b62"/><polygon points="510.1,77.9 506.7,80.1 500.3,79.0 497.3,73.3 496.8,70.4 503.7,66.3 507.3,67.1 509.7,70.9" fill="#706f59"/><polygon points="510.1,77.9 509.7,70.9 519.2,68.5 515.5,79.0" fill="#6a6953"/><polygon points="515.5,79.0 520.4,82.3 528.6,76.6 527.2,71.0 522.5,65.5 519.2,68.5" fill="#8e8663"/><polygon points="542.1,77.3 536.0,80.0 528.6,76.6 527.2,71.0 533.8,67.0 541.5,71.2" fill="#6d664a"/><polygon points="553.9,68.8 544.9,61.2 544.1,61.5 541.5,71.2 542.1,77.3 544.0,77.8 548.6,77.0" fill="#686246"/><polygon points="561.2,67.1 560.1,79.5 555.3,80.9 548.6,77.0 553.9,68.8 560.9,67.0" fill="#8b8361"/><polygon points="441.5,80.8 442.1,86.5 449.4,89.6 455.3,86.5 452.4,79.3 443.4,76.5" fill="#566049"/><polygon points="465.5,80.4 456.9,87.0 455.3,86.5 452.4,79.3 456.0,73.3 458.9,73.9" fill="#5d664e"/><polygon points="472.0,78.1 477.4,78.6 478.0,91.8 473.3,93.9 471.0,93.0 470.2,79.7" fill="#535d47"/><polygon points="481.7,78.0 485.4,81.4 488.3,86.2 483.8,91.6 478.0,91.8 477.4,78.6" fill="#677056"/><polygon points="485.4,81.4 488.3,86.2 493.6,87.5 500.3,79.0 497.3,73.3" fill="#817f65"/><polygon points="506.7,80.1 500.3,79.0 493.6,87.5 495.3,89.9 507.4,86.3" fill="#7f7d64"/><polygon points="510.1,77.9 506.7,80.1 507.4,86.3 509.5,90.8 519.8,90.0 520.1,89.1 520.4,82.3 515.5,79.0" fill="#74735c"/><polygon points="535.3,86.1 536.0,80.0 528.6,76.6 520.4,82.3 520.1,89.1" fill="#8f8765"/><polygon points="542.1,77.3 536.0,80.0 535.3,86.1 535.9,90.0 543.4,95.6 545.9,84.1 544.0,77.8" fill="#807959"/><polygon points="555.3,80.9 554.5,89.2 553.1,90.0 545.9,84.1 544.0,77.8 548.6,77.0" fill="#8f8764"/><polygon points="560.1,79.5 568.0,83.5 568.5,85.8 562.3,92.5 554.5,89.2 555.3,80.9" fill="#6f694c"/><polygon points="462.2,97.9 462.3,97.9 462.8,96.3 456.9,87.0 455.3,86.5 449.4,89.6 447.6,98.9 448.4,100.3" fill="#697157"/><polygon points="470.2,79.7 471.0,93.0 462.8,96.3 456.9,87.0 465.5,80.4" fill="#626b52"/><polygon points="484.6,100.5 476.1,100.4 473.3,93.9 478.0,91.8 483.8,91.6 485.2,98.4" fill="#5e5e4b"/><polygon points="485.2,98.4 497.2,95.0 495.3,89.9 493.6,87.5 488.3,86.2 483.8,91.6" fill="#696953"/><polygon points="509.5,90.8 505.9,96.3 499.4,97.7 497.2,95.0 495.3,89.9 507.4,86.3" fill="#6c6c55"/><polygon points="513.5,102.1 520.6,98.2 519.8,90.0 519.8,90.0 509.5,90.8 505.9,96.3 512.3,102.4" fill="#686752"/><polygon points="530.2,99.5 532.0,93.2 519.8,90.0 520.6,98.2 524.9,101.8" fill="#7c7556"/><polygon points="535.3,86.1 520.1,89.1 519.8,90.0 519.8,90.0 532.0,93.2 535.9,90.0" fill="#797254"/><polygon points="545.9,84.1 553.1,90.0 547.6,96.3 544.5,97.2 543.4,95.6" fill="#8f8764"/><polygon points="554.5,89.2 553.1,90.0 547.6,96.3 557.1,100.9 562.4,94.8 562.3,92.5" fill="#6a6954"/><polygon points="447.9,107.0 446.8,107.3 434.7,102.3 438.7,96.9 447.6,98.9 448.4,100.3" fill="#555e48"/><polygon points="447.9,107.0 448.4,100.3 462.2,97.9 460.5,103.7 451.2,110.4" fill="#767e62"/><polygon points="462.2,97.9 462.3,97.9 471.9,107.6 463.0,109.6 460.5,103.7" fill="#70795d"/><polygon points="473.3,93.9 471.0,93.0 462.8,96.3 462.3,97.9 471.9,107.6 473.1,108.1 476.1,100.4" fill="#5e674f"/><polygon points="482.7,110.3 487.4,106.5 484.6,100.5 476.1,100.4 473.1,108.1 473.6,109.0 482.4,110.4" fill="#545e48"/><polygon points="487.4,106.5 484.6,100.5 485.2,98.4 497.2,95.0 499.4,97.7 496.7,107.4 496.2,108.0" fill="#5e5e4a"/><polygon points="509.8,108.9 496.7,107.4 499.4,97.7 505.9,96.3 512.3,102.4" fill="#7e7d63"/><polygon points="538.6,103.5 543.5,100.1 544.5,97.2 543.4,95.6 535.9,90.0 532.0,93.2 530.2,99.5" fill="#706f58"/><polygon points="556.6,106.5 550.7,110.9 543.5,100.1 544.5,97.2 547.6,96.3 557.1,100.9 557.5,103.5" fill="#686752"/><polygon points="446.8,107.3 435.6,114.4 430.1,113.6 426.1,111.1 429.9,105.2 434.7,102.3" fill="#6f775c"/><polygon points="447.9,107.0 446.8,107.3 435.6,114.4 445.6,122.8 452.3,113.2 451.2,110.4" fill="#747c60"/><polygon points="451.2,110.4 452.3,113.2 457.4,115.3 460.5,115.1 463.0,109.6 460.5,103.7" fill="#798164"/><path d="M487.9 30.9L483.2 32.9L480.6 40.4L489.0 44.4L492.0 42.3L493.7 33.0ZM493.7 33.0L499.6 30.3L504.3 32.9L500.9 44.2L492.0 42.3ZM518.9 38.9L515.5 31.5L510.4 30.7L504.3 32.9L511.1 43.3ZM521.2 40.4L518.9 38.9L515.5 31.5L520.7 25.6L532.5 31.8L529.2 38.8ZM538.7 38.5L537.2 44.8L533.2 44.7L529.2 38.8L532.5 31.8L534.2 30.8L535.4 31.0ZM538.7 38.5L546.2 40.5L549.0 35.7L544.7 30.9L535.4 31.0ZM476.5 50.6L482.5 52.6L489.2 49.7L489.0 44.4L480.6 40.4L478.6 41.1L475.5 45.6ZM490.1 50.9L489.2 49.7L489.0 44.4L492.0 42.3L500.9 44.2L504.6 50.5L504.6 50.5ZM508.8 47.7L504.6 50.5L500.9 44.2L504.3 32.9L504.3 32.9L511.1 43.3ZM520.7 47.3L517.4 49.4L508.8 47.7L511.1 43.3L518.9 38.9L521.2 40.4ZM529.3 55.3L528.6 55.5L520.7 47.3L521.2 40.4L529.2 38.8L533.2 44.7ZM538.7 38.5L537.2 44.8L542.9 46.1L544.1 45.8L546.2 40.5ZM549.0 35.7L550.7 35.7L555.4 38.8L554.5 48.4L549.8 51.6L544.1 45.8L546.2 40.5ZM554.5 48.4L562.8 49.8L565.8 43.0L562.3 39.3L555.4 38.8ZM473.4 57.0L476.5 50.6L475.5 45.6L467.6 45.3L463.3 48.3L463.0 55.0L468.3 60.0ZM473.4 57.0L479.0 59.7L483.2 58.4L482.5 52.6L476.5 50.6ZM483.2 58.4L490.1 62.3L491.6 59.6L490.1 50.9L489.2 49.7L482.5 52.6ZM490.1 50.9L504.6 50.5L504.8 52.0L501.8 56.7L491.6 59.6ZM517.4 49.4L515.5 59.5L514.8 59.5L504.8 52.0L504.6 50.5L504.6 50.5L508.8 47.7ZM528.6 55.5L522.0 62.3L515.5 59.5L517.4 49.4L520.7 47.3ZM536.7 58.3L542.9 46.1L537.2 44.8L533.2 44.7L529.3 55.3L536.5 58.3ZM536.7 58.3L544.1 61.5L544.9 61.2L549.9 55.8L549.8 51.6L544.1 45.8L542.9 46.1ZM549.8 51.6L549.9 55.8L558.7 59.2L563.5 52.9L562.8 49.8L554.5 48.4ZM455.7 57.1L451.2 55.6L443.8 61.9L442.6 66.4L442.7 66.5L454.0 68.6L456.1 66.1ZM468.3 60.0L468.2 65.2L456.1 66.1L455.7 57.1L463.0 55.0ZM473.4 57.0L479.0 59.7L480.0 66.1L469.4 66.9L468.4 65.6L468.2 65.2L468.3 60.0ZM479.0 59.7L480.0 66.1L485.4 69.2L490.0 66.2L490.1 62.3L483.2 58.4ZM491.6 59.6L490.1 62.3L490.0 66.2L496.8 70.4L503.7 66.3L501.8 56.7ZM514.8 59.5L504.8 52.0L501.8 56.7L503.7 66.3L507.3 67.1ZM509.7 70.9L507.3 67.1L514.8 59.5L515.5 59.5L522.0 62.3L522.5 65.5L519.2 68.5ZM536.5 58.3L533.8 67.0L527.2 71.0L522.5 65.5L522.0 62.3L528.6 55.5L529.3 55.3ZM536.7 58.3L544.1 61.5L541.5 71.2L533.8 67.0L536.5 58.3ZM558.7 59.2L560.9 67.0L553.9 68.8L544.9 61.2L549.9 55.8ZM563.5 52.9L569.9 55.7L570.9 67.5L561.2 67.1L560.9 67.0L558.7 59.2ZM441.6 70.1L442.7 66.5L454.0 68.6L456.0 73.3L452.4 79.3L443.4 76.5ZM458.9 73.9L456.0 73.3L454.0 68.6L456.1 66.1L468.2 65.2L468.4 65.6ZM472.0 78.1L469.4 66.9L468.4 65.6L458.9 73.9L465.5 80.4L470.2 79.7ZM472.0 78.1L477.4 78.6L481.7 78.0L485.4 69.2L480.0 66.1L469.4 66.9ZM485.4 69.2L490.0 66.2L496.8 70.4L497.3 73.3L485.4 81.4L481.7 78.0ZM510.1 77.9L506.7 80.1L500.3 79.0L497.3 73.3L496.8 70.4L503.7 66.3L507.3 67.1L509.7 70.9ZM510.1 77.9L509.7 70.9L519.2 68.5L515.5 79.0ZM515.5 79.0L520.4 82.3L528.6 76.6L527.2 71.0L522.5 65.5L519.2 68.5ZM542.1 77.3L536.0 80.0L528.6 76.6L527.2 71.0L533.8 67.0L541.5 71.2ZM553.9 68.8L544.9 61.2L544.1 61.5L541.5 71.2L542.1 77.3L544.0 77.8L548.6 77.0ZM561.2 67.1L560.1 79.5L555.3 80.9L548.6 77.0L553.9 68.8L560.9 67.0ZM441.5 80.8L442.1 86.5L449.4 89.6L455.3 86.5L452.4 79.3L443.4 76.5ZM465.5 80.4L456.9 87.0L455.3 86.5L452.4 79.3L456.0 73.3L458.9 73.9ZM472.0 78.1L477.4 78.6L478.0 91.8L473.3 93.9L471.0 93.0L470.2 79.7ZM481.7 78.0L485.4 81.4L488.3 86.2L483.8 91.6L478.0 91.8L477.4 78.6ZM485.4 81.4L488.3 86.2L493.6 87.5L500.3 79.0L497.3 73.3ZM506.7 80.1L500.3 79.0L493.6 87.5L495.3 89.9L507.4 86.3ZM510.1 77.9L506.7 80.1L507.4 86.3L509.5 90.8L519.8 90.0L520.1 89.1L520.4 82.3L515.5 79.0ZM535.3 86.1L536.0 80.0L528.6 76.6L520.4 82.3L520.1 89.1ZM542.1 77.3L536.0 80.0L535.3 86.1L535.9 90.0L543.4 95.6L545.9 84.1L544.0 77.8ZM555.3 80.9L554.5 89.2L553.1 90.0L545.9 84.1L544.0 77.8L548.6 77.0ZM560.1 79.5L568.0 83.5L568.5 85.8L562.3 92.5L554.5 89.2L555.3 80.9ZM462.2 97.9L462.3 97.9L462.8 96.3L456.9 87.0L455.3 86.5L449.4 89.6L447.6 98.9L448.4 100.3ZM470.2 79.7L471.0 93.0L462.8 96.3L456.9 87.0L465.5 80.4ZM484.6 100.5L476.1 100.4L473.3 93.9L478.0 91.8L483.8 91.6L485.2 98.4ZM485.2 98.4L497.2 95.0L495.3 89.9L493.6 87.5L488.3 86.2L483.8 91.6ZM509.5 90.8L505.9 96.3L499.4 97.7L497.2 95.0L495.3 89.9L507.4 86.3ZM513.5 102.1L520.6 98.2L519.8 90.0L519.8 90.0L509.5 90.8L505.9 96.3L512.3 102.4ZM530.2 99.5L532.0 93.2L519.8 90.0L520.6 98.2L524.9 101.8ZM535.3 86.1L520.1 89.1L519.8 90.0L519.8 90.0L532.0 93.2L535.9 90.0ZM545.9 84.1L553.1 90.0L547.6 96.3L544.5 97.2L543.4 95.6ZM554.5 89.2L553.1 90.0L547.6 96.3L557.1 100.9L562.4 94.8L562.3 92.5ZM447.9 107.0L446.8 107.3L434.7 102.3L438.7 96.9L447.6 98.9L448.4 100.3ZM447.9 107.0L448.4 100.3L462.2 97.9L460.5 103.7L451.2 110.4ZM462.2 97.9L462.3 97.9L471.9 107.6L463.0 109.6L460.5 103.7ZM473.3 93.9L471.0 93.0L462.8 96.3L462.3 97.9L471.9 107.6L473.1 108.1L476.1 100.4ZM482.7 110.3L487.4 106.5L484.6 100.5L476.1 100.4L473.1 108.1L473.6 109.0L482.4 110.4ZM487.4 106.5L484.6 100.5L485.2 98.4L497.2 95.0L499.4 97.7L496.7 107.4L496.2 108.0ZM509.8 108.9L496.7 107.4L499.4 97.7L505.9 96.3L512.3 102.4ZM538.6 103.5L543.5 100.1L544.5 97.2L543.4 95.6L535.9 90.0L532.0 93.2L530.2 99.5ZM556.6 106.5L550.7 110.9L543.5 100.1L544.5 97.2L547.6 96.3L557.1 100.9L557.5 103.5ZM446.8 107.3L435.6 114.4L430.1 113.6L426.1 111.1L429.9 105.2L434.7 102.3ZM447.9 107.0L446.8 107.3L435.6 114.4L445.6 122.8L452.3 113.2L451.2 110.4ZM451.2 110.4L452.3 113.2L457.4 115.3L460.5 115.1L463.0 109.6L460.5 103.7Z" fill="none" stroke="#5a4a36" stroke-width="1.1" stroke-opacity="0.7" filter="url(#wig)"/></g><g filter="url(#bc2)"><polygon points="520,72 545,80 552,95 530,98 512,88" fill="#5e5a40" fill-opacity="0.55"/><polygon points="470,60 500,55 515,70 495,85 470,90" fill="#6a7a5a" fill-opacity="0.35"/><polygon points="442,108 470,102 505,104 508,116 470,120 444,124" fill="#6a7462" fill-opacity="0.45"/><polygon points="545,40 560,46 566,62 552,62" fill="#b0a888" fill-opacity="0.6"/></g><g filter="url(#bc2s)" stroke="#e8eef2" stroke-width="2.6" fill="none" stroke-linecap="round" stroke-opacity="0.85"><path d="M522 106Q528 108 529 113T528 119"/><path d="M511 139Q517 143 518 147T517 153Q519 157 523 159"/><path d="M507 152L510 160"/></g><g filter="url(#bc2s)"><ellipse cx="456" cy="68" rx="6" ry="5" fill="#2c2820"/><path d="M409 158C413 152 421 153 426 158C431 164 433 172 430 178C426 182 418 180 413 174C410 170 408 164 409 158Z" fill="#34302a"/><path d="M417 160C421 158 426 161 428 166C430 171 428 176 424 176C420 175 417 170 416 166Z" fill="#7e7c6c"/><path d="M486 224C490 219 500 219 505 223C509 227 508 236 504 241L488 241C484 236 483 229 486 224Z" fill="#1e1a16"/><ellipse cx="499" cy="228" rx="4" ry="3" fill="#6a5040"/><ellipse cx="569" cy="172" rx="4" ry="3" fill="#3a3a3a"/><ellipse cx="441" cy="121" rx="3" ry="3" fill="#3a3a30"/></g><circle cx="506" cy="138" r="102.8" fill="url(#vig)"/></g></g></g><rect x="481" y="51.2" width="71.5" height="44.6" fill="none" stroke="#f8f000" stroke-width="2.6" stroke-dasharray="7 5"/><text x="385.3" y="34.5" font-size="18.85" fill="#fff">Ambient (quenched)</text><text x="569.5" y="241.3" font-size="18.6" fill="#fff">25 µm</text><rect x="571.4" y="248.9" width="45.6" height="4" fill="#fff"/></g>
<text x="341.5" y="298.5" font-size="26" font-weight="bold">d</text>
<g id="paneld"><g filter="url(#infm)" shape-rendering="crispEdges"><rect x="375" y="295" width="262.6" height="160" fill="#1f1f1f"/><polygon points="375.6,296.0 395.7,296.0 375.6,315.8" fill="url(#dg0)" stroke="url(#dg0)" stroke-width="0.8"/><polygon points="395.7,296.0 395.7,315.8 375.6,315.8" fill="url(#dg1)" stroke="url(#dg1)" stroke-width="0.8"/><polygon points="415.8,296.0 415.8,315.8 395.7,315.8" fill="url(#dg2)" stroke="url(#dg2)" stroke-width="0.8"/><polygon points="415.8,296.0 435.8,296.0 415.8,315.8" fill="url(#dg3)" stroke="url(#dg3)" stroke-width="0.8"/><polygon points="435.8,296.0 435.8,315.8 415.8,315.8" fill="url(#dg4)" stroke="url(#dg4)" stroke-width="0.8"/><polygon points="435.8,296.0 455.9,296.0 455.9,315.8" fill="url(#dg5)" stroke="url(#dg5)" stroke-width="0.8"/><polygon points="435.8,296.0 455.9,315.8 435.8,315.8" fill="url(#dg6)" stroke="url(#dg6)" stroke-width="0.8"/><polygon points="455.9,296.0 476.0,296.0 455.9,315.8" fill="url(#dg7)" stroke="url(#dg7)" stroke-width="0.8"/><polygon points="476.0,296.0 476.0,315.8 455.9,315.8" fill="url(#dg8)" stroke="url(#dg8)" stroke-width="0.8"/><polygon points="476.0,296.0 496.1,296.0 496.1,315.8" fill="url(#dg9)" stroke="url(#dg9)" stroke-width="0.8"/><polygon points="476.0,296.0 496.1,315.8 476.0,315.8" fill="url(#dg10)" stroke="url(#dg10)" stroke-width="0.8"/><polygon points="496.1,296.0 516.2,315.8 496.1,315.8" fill="url(#dg11)" stroke="url(#dg11)" stroke-width="0.8"/><polygon points="375.6,315.8 395.7,315.8 395.7,335.6" fill="url(#dg12)" stroke="url(#dg12)" stroke-width="0.8"/><polygon points="375.6,315.8 395.7,335.6 375.6,335.6" fill="url(#dg13)" stroke="url(#dg13)" stroke-width="0.8"/><polygon points="395.7,315.8 415.8,315.8 395.7,335.6" fill="url(#dg14)" stroke="url(#dg14)" stroke-width="0.8"/><polygon points="415.8,315.8 415.8,335.6 395.7,335.6" fill="url(#dg15)" stroke="url(#dg15)" stroke-width="0.8"/><polygon points="415.8,315.8 435.8,315.8 435.8,335.6" fill="url(#dg16)" stroke="url(#dg16)" stroke-width="0.8"/><polygon points="415.8,315.8 435.8,335.6 415.8,335.6" fill="url(#dg17)" stroke="url(#dg17)" stroke-width="0.8"/><polygon points="435.8,315.8 455.9,315.8 435.8,335.6" fill="url(#dg18)" stroke="url(#dg18)" stroke-width="0.8"/><polygon points="455.9,315.8 455.9,335.6 435.8,335.6" fill="url(#dg19)" stroke="url(#dg19)" stroke-width="0.8"/><polygon points="455.9,315.8 476.0,315.8 476.0,335.6" fill="url(#dg20)" stroke="url(#dg20)" stroke-width="0.8"/><polygon points="455.9,315.8 476.0,335.6 455.9,335.6" fill="url(#dg21)" stroke="url(#dg21)" stroke-width="0.8"/><polygon points="476.0,315.8 496.1,315.8 476.0,335.6" fill="url(#dg22)" stroke="url(#dg22)" stroke-width="0.8"/><polygon points="496.1,315.8 496.1,335.6 476.0,335.6" fill="url(#dg23)" stroke="url(#dg23)" stroke-width="0.8"/><polygon points="496.1,315.8 516.2,315.8 516.2,335.6" fill="url(#dg24)" stroke="url(#dg24)" stroke-width="0.8"/><polygon points="496.1,315.8 516.2,335.6 496.1,335.6" fill="url(#dg25)" stroke="url(#dg25)" stroke-width="0.8"/><polygon points="375.6,335.6 395.7,335.6 375.6,355.4" fill="url(#dg26)" stroke="url(#dg26)" stroke-width="0.8"/><polygon points="395.7,335.6 395.7,355.4 375.6,355.4" fill="url(#dg27)" stroke="url(#dg27)" stroke-width="0.8"/><polygon points="395.7,335.6 415.8,335.6 415.8,355.4" fill="url(#dg28)" stroke="url(#dg28)" stroke-width="0.8"/><polygon points="395.7,335.6 415.8,355.4 395.7,355.4" fill="url(#dg29)" stroke="url(#dg29)" stroke-width="0.8"/><polygon points="415.8,335.6 435.8,335.6 415.8,355.4" fill="url(#dg30)" stroke="url(#dg30)" stroke-width="0.8"/><polygon points="435.8,335.6 435.8,355.4 415.8,355.4" fill="url(#dg31)" stroke="url(#dg31)" stroke-width="0.8"/><polygon points="435.8,335.6 455.9,335.6 435.8,355.4" fill="url(#dg32)" stroke="url(#dg32)" stroke-width="0.8"/><polygon points="455.9,335.6 455.9,355.4 435.8,355.4" fill="url(#dg33)" stroke="url(#dg33)" stroke-width="0.8"/><polygon points="455.9,335.6 476.0,335.6 476.0,355.4" fill="url(#dg34)" stroke="url(#dg34)" stroke-width="0.8"/><polygon points="455.9,335.6 476.0,355.4 455.9,355.4" fill="url(#dg35)" stroke="url(#dg35)" stroke-width="0.8"/><polygon points="476.0,335.6 496.1,335.6 496.1,355.4" fill="url(#dg36)" stroke="url(#dg36)" stroke-width="0.8"/><polygon points="476.0,335.6 496.1,355.4 476.0,355.4" fill="url(#dg37)" stroke="url(#dg37)" stroke-width="0.8"/><polygon points="496.1,335.6 516.2,335.6 496.1,355.4" fill="url(#dg38)" stroke="url(#dg38)" stroke-width="0.8"/><polygon points="516.2,335.6 516.2,355.4 496.1,355.4" fill="url(#dg39)" stroke="url(#dg39)" stroke-width="0.8"/><polygon points="516.2,335.6 536.2,355.4 516.2,355.4" fill="url(#dg40)" stroke="url(#dg40)" stroke-width="0.8"/><polygon points="375.6,355.4 395.7,355.4 395.7,375.2" fill="url(#dg41)" stroke="url(#dg41)" stroke-width="0.8"/><polygon points="375.6,355.4 395.7,375.2 375.6,375.2" fill="url(#dg42)" stroke="url(#dg42)" stroke-width="0.8"/><polygon points="395.7,355.4 415.8,355.4 395.7,375.2" fill="url(#dg43)" stroke="url(#dg43)" stroke-width="0.8"/><polygon points="415.8,355.4 415.8,375.2 395.7,375.2" fill="url(#dg44)" stroke="url(#dg44)" stroke-width="0.8"/><polygon points="415.8,355.4 435.8,355.4 435.8,375.2" fill="url(#dg45)" stroke="url(#dg45)" stroke-width="0.8"/><polygon points="415.8,355.4 435.8,375.2 415.8,375.2" fill="url(#dg46)" stroke="url(#dg46)" stroke-width="0.8"/><polygon points="435.8,355.4 455.9,355.4 455.9,375.2" fill="url(#dg47)" stroke="url(#dg47)" stroke-width="0.8"/><polygon points="435.8,355.4 455.9,375.2 435.8,375.2" fill="url(#dg48)" stroke="url(#dg48)" stroke-width="0.8"/><polygon points="455.9,355.4 476.0,355.4 455.9,375.2" fill="url(#dg49)" stroke="url(#dg49)" stroke-width="0.8"/><polygon points="476.0,355.4 476.0,375.2 455.9,375.2" fill="url(#dg50)" stroke="url(#dg50)" stroke-width="0.8"/><polygon points="476.0,355.4 496.1,355.4 476.0,375.2" fill="url(#dg51)" stroke="url(#dg51)" stroke-width="0.8"/><polygon points="496.1,355.4 496.1,375.2 476.0,375.2" fill="url(#dg52)" stroke="url(#dg52)" stroke-width="0.8"/><polygon points="496.1,355.4 516.2,355.4 516.2,375.2" fill="url(#dg53)" stroke="url(#dg53)" stroke-width="0.8"/><polygon points="496.1,355.4 516.2,375.2 496.1,375.2" fill="url(#dg54)" stroke="url(#dg54)" stroke-width="0.8"/><polygon points="516.2,355.4 536.2,355.4 516.2,375.2" fill="url(#dg55)" stroke="url(#dg55)" stroke-width="0.8"/><polygon points="536.2,355.4 536.2,375.2 516.2,375.2" fill="url(#dg56)" stroke="url(#dg56)" stroke-width="0.8"/><polygon points="536.2,355.4 556.3,355.4 556.3,375.2" fill="url(#dg57)" stroke="url(#dg57)" stroke-width="0.8"/><polygon points="536.2,355.4 556.3,375.2 536.2,375.2" fill="url(#dg58)" stroke="url(#dg58)" stroke-width="0.8"/><polygon points="596.5,355.4 596.5,375.2 576.4,375.2" fill="url(#dg59)" stroke="url(#dg59)" stroke-width="0.8"/><polygon points="596.5,355.4 616.6,355.4 596.5,375.2" fill="url(#dg60)" stroke="url(#dg60)" stroke-width="0.8"/><polygon points="616.6,355.4 616.6,375.2 596.5,375.2" fill="url(#dg61)" stroke="url(#dg61)" stroke-width="0.8"/><polygon points="616.6,355.4 636.6,375.2 616.6,375.2" fill="url(#dg62)" stroke="url(#dg62)" stroke-width="0.8"/><polygon points="375.6,375.2 395.7,375.2 375.6,394.9" fill="url(#dg63)" stroke="url(#dg63)" stroke-width="0.8"/><polygon points="395.7,375.2 395.7,394.9 375.6,394.9" fill="url(#dg64)" stroke="url(#dg64)" stroke-width="0.8"/><polygon points="395.7,375.2 415.8,375.2 415.8,394.9" fill="url(#dg65)" stroke="url(#dg65)" stroke-width="0.8"/><polygon points="395.7,375.2 415.8,394.9 395.7,394.9" fill="url(#dg66)" stroke="url(#dg66)" stroke-width="0.8"/><polygon points="415.8,375.2 435.8,375.2 415.8,394.9" fill="url(#dg67)" stroke="url(#dg67)" stroke-width="0.8"/><polygon points="435.8,375.2 435.8,394.9 415.8,394.9" fill="url(#dg68)" stroke="url(#dg68)" stroke-width="0.8"/><polygon points="435.8,375.2 455.9,375.2 455.9,394.9" fill="url(#dg69)" stroke="url(#dg69)" stroke-width="0.8"/><polygon points="435.8,375.2 455.9,394.9 435.8,394.9" fill="url(#dg70)" stroke="url(#dg70)" stroke-width="0.8"/><polygon points="455.9,375.2 476.0,375.2 455.9,394.9" fill="url(#dg71)" stroke="url(#dg71)" stroke-width="0.8"/><polygon points="476.0,375.2 476.0,394.9 455.9,394.9" fill="url(#dg72)" stroke="url(#dg72)" stroke-width="0.8"/><polygon points="476.0,375.2 496.1,375.2 496.1,394.9" fill="url(#dg73)" stroke="url(#dg73)" stroke-width="0.8"/><polygon points="476.0,375.2 496.1,394.9 476.0,394.9" fill="url(#dg74)" stroke="url(#dg74)" stroke-width="0.8"/><polygon points="496.1,375.2 516.2,375.2 496.1,394.9" fill="url(#dg75)" stroke="url(#dg75)" stroke-width="0.8"/><polygon points="516.2,375.2 516.2,394.9 496.1,394.9" fill="url(#dg76)" stroke="url(#dg76)" stroke-width="0.8"/><polygon points="516.2,375.2 536.2,375.2 536.2,394.9" fill="url(#dg77)" stroke="url(#dg77)" stroke-width="0.8"/><polygon points="516.2,375.2 536.2,394.9 516.2,394.9" fill="url(#dg78)" stroke="url(#dg78)" stroke-width="0.8"/><polygon points="536.2,375.2 556.3,375.2 536.2,394.9" fill="url(#dg79)" stroke="url(#dg79)" stroke-width="0.8"/><polygon points="556.3,375.2 556.3,394.9 536.2,394.9" fill="url(#dg80)" stroke="url(#dg80)" stroke-width="0.8"/><polygon points="576.4,375.2 596.5,375.2 576.4,394.9" fill="url(#dg81)" stroke="url(#dg81)" stroke-width="0.8"/><polygon points="596.5,375.2 596.5,394.9 576.4,394.9" fill="url(#dg82)" stroke="url(#dg82)" stroke-width="0.8"/><polygon points="596.5,375.2 616.6,375.2 616.6,394.9" fill="url(#dg83)" stroke="url(#dg83)" stroke-width="0.8"/><polygon points="596.5,375.2 616.6,394.9 596.5,394.9" fill="url(#dg84)" stroke="url(#dg84)" stroke-width="0.8"/><polygon points="616.6,375.2 636.6,375.2 616.6,394.9" fill="url(#dg85)" stroke="url(#dg85)" stroke-width="0.8"/><polygon points="375.6,394.9 395.7,394.9 395.7,414.7" fill="url(#dg86)" stroke="url(#dg86)" stroke-width="0.8"/><polygon points="375.6,394.9 395.7,414.7 375.6,414.7" fill="url(#dg87)" stroke="url(#dg87)" stroke-width="0.8"/><polygon points="395.7,394.9 415.8,394.9 395.7,414.7" fill="url(#dg88)" stroke="url(#dg88)" stroke-width="0.8"/><polygon points="415.8,394.9 415.8,414.7 395.7,414.7" fill="url(#dg89)" stroke="url(#dg89)" stroke-width="0.8"/><polygon points="415.8,394.9 435.8,394.9 435.8,414.7" fill="url(#dg90)" stroke="url(#dg90)" stroke-width="0.8"/><polygon points="415.8,394.9 435.8,414.7 415.8,414.7" fill="url(#dg91)" stroke="url(#dg91)" stroke-width="0.8"/><polygon points="435.8,394.9 455.9,394.9 435.8,414.7" fill="url(#dg92)" stroke="url(#dg92)" stroke-width="0.8"/><polygon points="455.9,394.9 455.9,414.7 435.8,414.7" fill="url(#dg93)" stroke="url(#dg93)" stroke-width="0.8"/><polygon points="455.9,394.9 476.0,394.9 476.0,414.7" fill="url(#dg94)" stroke="url(#dg94)" stroke-width="0.8"/><polygon points="455.9,394.9 476.0,414.7 455.9,414.7" fill="url(#dg95)" stroke="url(#dg95)" stroke-width="0.8"/><polygon points="476.0,394.9 496.1,394.9 476.0,414.7" fill="url(#dg96)" stroke="url(#dg96)" stroke-width="0.8"/><polygon points="496.1,394.9 496.1,414.7 476.0,414.7" fill="url(#dg97)" stroke="url(#dg97)" stroke-width="0.8"/><polygon points="496.1,394.9 516.2,394.9 516.2,414.7" fill="url(#dg98)" stroke="url(#dg98)" stroke-width="0.8"/><polygon points="496.1,394.9 516.2,414.7 496.1,414.7" fill="url(#dg99)" stroke="url(#dg99)" stroke-width="0.8"/><polygon points="516.2,394.9 536.2,394.9 516.2,414.7" fill="url(#dg100)" stroke="url(#dg100)" stroke-width="0.8"/><polygon points="536.2,394.9 536.2,414.7 516.2,414.7" fill="url(#dg101)" stroke="url(#dg101)" stroke-width="0.8"/><polygon points="536.2,394.9 556.3,394.9 536.2,414.7" fill="url(#dg102)" stroke="url(#dg102)" stroke-width="0.8"/><polygon points="576.4,394.9 596.5,394.9 596.5,414.7" fill="url(#dg103)" stroke="url(#dg103)" stroke-width="0.8"/><polygon points="596.5,394.9 616.6,394.9 596.5,414.7" fill="url(#dg104)" stroke="url(#dg104)" stroke-width="0.8"/><polygon points="375.6,414.7 395.7,414.7 375.6,434.5" fill="url(#dg105)" stroke="url(#dg105)" stroke-width="0.8"/><polygon points="395.7,414.7 395.7,434.5 375.6,434.5" fill="url(#dg106)" stroke="url(#dg106)" stroke-width="0.8"/><polygon points="395.7,414.7 415.8,414.7 415.8,434.5" fill="url(#dg107)" stroke="url(#dg107)" stroke-width="0.8"/><polygon points="395.7,414.7 415.8,434.5 395.7,434.5" fill="url(#dg108)" stroke="url(#dg108)" stroke-width="0.8"/><polygon points="415.8,414.7 435.8,414.7 415.8,434.5" fill="url(#dg109)" stroke="url(#dg109)" stroke-width="0.8"/><polygon points="435.8,414.7 435.8,434.5 415.8,434.5" fill="url(#dg110)" stroke="url(#dg110)" stroke-width="0.8"/><polygon points="435.8,414.7 455.9,414.7 455.9,434.5" fill="url(#dg111)" stroke="url(#dg111)" stroke-width="0.8"/><polygon points="435.8,414.7 455.9,434.5 435.8,434.5" fill="url(#dg112)" stroke="url(#dg112)" stroke-width="0.8"/><polygon points="455.9,414.7 476.0,414.7 455.9,434.5" fill="url(#dg113)" stroke="url(#dg113)" stroke-width="0.8"/><polygon points="476.0,414.7 476.0,434.5 455.9,434.5" fill="url(#dg114)" stroke="url(#dg114)" stroke-width="0.8"/><polygon points="476.0,414.7 496.1,414.7 496.1,434.5" fill="url(#dg115)" stroke="url(#dg115)" stroke-width="0.8"/><polygon points="476.0,414.7 496.1,434.5 476.0,434.5" fill="url(#dg116)" stroke="url(#dg116)" stroke-width="0.8"/><polygon points="496.1,414.7 516.2,414.7 496.1,434.5" fill="url(#dg117)" stroke="url(#dg117)" stroke-width="0.8"/><polygon points="516.2,414.7 516.2,434.5 496.1,434.5" fill="url(#dg118)" stroke="url(#dg118)" stroke-width="0.8"/><polygon points="516.2,414.7 536.2,414.7 516.2,434.5" fill="url(#dg119)" stroke="url(#dg119)" stroke-width="0.8"/><polygon points="536.2,414.7 536.2,434.5 516.2,434.5" fill="url(#dg120)" stroke="url(#dg120)" stroke-width="0.8"/><polygon points="375.6,434.5 395.7,434.5 395.7,454.3" fill="url(#dg121)" stroke="url(#dg121)" stroke-width="0.8"/><polygon points="375.6,434.5 395.7,454.3 375.6,454.3" fill="url(#dg122)" stroke="url(#dg122)" stroke-width="0.8"/><polygon points="395.7,434.5 415.8,434.5 395.7,454.3" fill="url(#dg123)" stroke="url(#dg123)" stroke-width="0.8"/><polygon points="415.8,434.5 415.8,454.3 395.7,454.3" fill="url(#dg124)" stroke="url(#dg124)" stroke-width="0.8"/><polygon points="415.8,434.5 435.8,434.5 435.8,454.3" fill="url(#dg125)" stroke="url(#dg125)" stroke-width="0.8"/><polygon points="415.8,434.5 435.8,454.3 415.8,454.3" fill="url(#dg126)" stroke="url(#dg126)" stroke-width="0.8"/><polygon points="435.8,434.5 455.9,434.5 435.8,454.3" fill="url(#dg127)" stroke="url(#dg127)" stroke-width="0.8"/><polygon points="455.9,434.5 455.9,454.3 435.8,454.3" fill="url(#dg128)" stroke="url(#dg128)" stroke-width="0.8"/><polygon points="455.9,434.5 476.0,434.5 476.0,454.3" fill="url(#dg129)" stroke="url(#dg129)" stroke-width="0.8"/><polygon points="455.9,434.5 476.0,454.3 455.9,454.3" fill="url(#dg130)" stroke="url(#dg130)" stroke-width="0.8"/><polygon points="476.0,434.5 496.1,434.5 476.0,454.3" fill="url(#dg131)" stroke="url(#dg131)" stroke-width="0.8"/><polygon points="496.1,434.5 496.1,454.3 476.0,454.3" fill="url(#dg132)" stroke="url(#dg132)" stroke-width="0.8"/><polygon points="496.1,434.5 516.2,434.5 516.2,454.3" fill="url(#dg133)" stroke="url(#dg133)" stroke-width="0.8"/><polygon points="496.1,434.5 516.2,454.3 496.1,454.3" fill="url(#dg134)" stroke="url(#dg134)" stroke-width="0.8"/><polygon points="516.2,434.5 536.2,434.5 516.2,454.3" fill="url(#dg135)" stroke="url(#dg135)" stroke-width="0.8"/><polygon points="556.3,355.4 570.0,375.2 556.3,375.2" fill="url(#dg136)" stroke="url(#dg136)" stroke-width="0.8"/><polygon points="556.3,375.2 570.0,375.2 556.3,394.9" fill="url(#dg137)" stroke="url(#dg137)" stroke-width="0.8"/></g><path d="M496 296.5C503 301 509 307 512 313C515 320 512 330 516 338C520 346 528 352 538 354C548 356 557 357 564 363C570 368 573 376 569 385C565 393 555 397 547 402C540 407 534 413 533 421C532 430 531 438 525 445C521 450 518 452 515 455" fill="none" stroke="#fff" stroke-width="2.6" stroke-dasharray="8.5 5.5"/><rect x="562" y="444.4" width="66.2" height="4.6" fill="#fff"/><text x="570.3" y="438.6" font-size="18.6" fill="#fff">10 µm</text><rect x="374.6" y="295" width="263" height="160.5" fill="none" stroke="#000" stroke-width="2"/><g filter="url(#infm)"><rect x="646" y="400" width="10" height="55" fill="url(#cbd)"/></g><rect x="646" y="400" width="10" height="55" fill="none" stroke="#000" stroke-width="2"/><text x="660.5" y="409.7" font-size="14.5">10<tspan dy="-5.5" font-size="10">0</tspan></text><text x="660.5" y="455.3" font-size="14.5">10<tspan dy="-5.5" font-size="10">-4</tspan></text><text transform="translate(659 388) rotate(-90)" font-size="19"><tspan font-style="italic">I</tspan><tspan font-size="13" dy="4">Dia.</tspan><tspan dy="-4"> (arb.u.)</tspan></text></g>
<text x="342" y="491" font-size="26" font-weight="bold">e</text>
<g id="panele"><g clip-path="url(#clipe)"><g filter="url(#infm)"><g filter="url(#be1)"><rect x="345.6" y="459.5" width="40.5" height="40.6" fill="#050505"/><rect x="385.6" y="459.5" width="20.6" height="40.6" fill="#060606"/><rect x="405.7" y="459.5" width="20.6" height="40.6" fill="#080808"/><rect x="425.8" y="459.5" width="20.6" height="40.6" fill="#080808"/><rect x="445.9" y="459.5" width="20.6" height="40.6" fill="#090909"/><rect x="466.0" y="459.5" width="20.6" height="40.6" fill="#0a0a0a"/><rect x="486.0" y="459.5" width="20.6" height="40.6" fill="#0b0b0b"/><rect x="506.1" y="459.5" width="20.6" height="40.6" fill="#0a0a0a"/><rect x="526.2" y="459.5" width="20.6" height="40.6" fill="#090909"/><rect x="546.3" y="459.5" width="20.6" height="40.6" fill="#060606"/><rect x="566.4" y="459.5" width="20.6" height="40.6" fill="#060606"/><rect x="586.4" y="459.5" width="20.6" height="40.6" fill="#080808"/><rect x="606.5" y="459.5" width="20.6" height="40.6" fill="#0d0d0d"/><rect x="626.6" y="459.5" width="40.5" height="40.6" fill="#1a1a1a"/><rect x="345.6" y="499.6" width="40.5" height="20.7" fill="#0d0d0d"/><rect x="385.6" y="499.6" width="20.6" height="20.7" fill="#0d0d0d"/><rect x="405.7" y="499.6" width="20.6" height="20.7" fill="#0d0d0d"/><rect x="425.8" y="499.6" width="20.6" height="20.7" fill="#0e0e0e"/><rect x="445.9" y="499.6" width="20.6" height="20.7" fill="#111111"/><rect x="466.0" y="499.6" width="20.6" height="20.7" fill="#171717"/><rect x="486.0" y="499.6" width="20.6" height="20.7" fill="#1c1c1c"/><rect x="506.1" y="499.6" width="20.6" height="20.7" fill="#1a1a1a"/><rect x="526.2" y="499.6" width="20.6" height="20.7" fill="#121212"/><rect x="546.3" y="499.6" width="20.6" height="20.7" fill="#0a0a0a"/><rect x="566.4" y="499.6" width="20.6" height="20.7" fill="#090909"/><rect x="586.4" y="499.6" width="20.6" height="20.7" fill="#090909"/><rect x="606.5" y="499.6" width="20.6" height="20.7" fill="#0d0d0d"/><rect x="626.6" y="499.6" width="40.5" height="20.7" fill="#1f1f1f"/><rect x="345.6" y="519.8" width="40.5" height="20.7" fill="#1a1a1a"/><rect x="385.6" y="519.8" width="20.6" height="20.7" fill="#171717"/><rect x="405.7" y="519.8" width="20.6" height="20.7" fill="#141414"/><rect x="425.8" y="519.8" width="20.6" height="20.7" fill="#141414"/><rect x="445.9" y="519.8" width="20.6" height="20.7" fill="#212121"/><rect x="466.0" y="519.8" width="20.6" height="20.7" fill="#404040"/><rect x="486.0" y="519.8" width="20.6" height="20.7" fill="#474747"/><rect x="506.1" y="519.8" width="20.6" height="20.7" fill="#383838"/><rect x="526.2" y="519.8" width="20.6" height="20.7" fill="#1f1f1f"/><rect x="546.3" y="519.8" width="20.6" height="20.7" fill="#0f0f0f"/><rect x="566.4" y="519.8" width="20.6" height="20.7" fill="#0d0d0d"/><rect x="586.4" y="519.8" width="20.6" height="20.7" fill="#0d0d0d"/><rect x="606.5" y="519.8" width="20.6" height="20.7" fill="#0d0d0d"/><rect x="626.6" y="519.8" width="40.5" height="20.7" fill="#1f1f1f"/><rect x="345.6" y="540.0" width="40.5" height="20.7" fill="#242424"/><rect x="385.6" y="540.0" width="20.6" height="20.7" fill="#1f1f1f"/><rect x="405.7" y="540.0" width="20.6" height="20.7" fill="#171717"/><rect x="425.8" y="540.0" width="20.6" height="20.7" fill="#1f1f1f"/><rect x="445.9" y="540.0" width="20.6" height="20.7" fill="#383838"/><rect x="466.0" y="540.0" width="20.6" height="20.7" fill="#666666"/><rect x="486.0" y="540.0" width="20.6" height="20.7" fill="#6b6b6b"/><rect x="506.1" y="540.0" width="20.6" height="20.7" fill="#5c5c5c"/><rect x="526.2" y="540.0" width="20.6" height="20.7" fill="#383838"/><rect x="546.3" y="540.0" width="20.6" height="20.7" fill="#1f1f1f"/><rect x="566.4" y="540.0" width="20.6" height="20.7" fill="#121212"/><rect x="586.4" y="540.0" width="20.6" height="20.7" fill="#0f0f0f"/><rect x="606.5" y="540.0" width="20.6" height="20.7" fill="#0f0f0f"/><rect x="626.6" y="540.0" width="40.5" height="20.7" fill="#1a1a1a"/><rect x="345.6" y="560.2" width="40.5" height="20.7" fill="#333333"/><rect x="385.6" y="560.2" width="20.6" height="20.7" fill="#262626"/><rect x="405.7" y="560.2" width="20.6" height="20.7" fill="#171717"/><rect x="425.8" y="560.2" width="20.6" height="20.7" fill="#1a1a1a"/><rect x="445.9" y="560.2" width="20.6" height="20.7" fill="#404040"/><rect x="466.0" y="560.2" width="20.6" height="20.7" fill="#737373"/><rect x="486.0" y="560.2" width="20.6" height="20.7" fill="#737373"/><rect x="506.1" y="560.2" width="20.6" height="20.7" fill="#6b6b6b"/><rect x="526.2" y="560.2" width="20.6" height="20.7" fill="#4c4c4c"/><rect x="546.3" y="560.2" width="20.6" height="20.7" fill="#262626"/><rect x="566.4" y="560.2" width="20.6" height="20.7" fill="#1a1a1a"/><rect x="586.4" y="560.2" width="20.6" height="20.7" fill="#141414"/><rect x="606.5" y="560.2" width="20.6" height="20.7" fill="#1a1a1a"/><rect x="626.6" y="560.2" width="40.5" height="20.7" fill="#3d3d3d"/><rect x="345.6" y="580.4" width="40.5" height="20.7" fill="#707070"/><rect x="385.6" y="580.4" width="20.6" height="20.7" fill="#525252"/><rect x="405.7" y="580.4" width="20.6" height="20.7" fill="#2e2e2e"/><rect x="425.8" y="580.4" width="20.6" height="20.7" fill="#121212"/><rect x="445.9" y="580.4" width="20.6" height="20.7" fill="#242424"/><rect x="466.0" y="580.4" width="20.6" height="20.7" fill="#525252"/><rect x="486.0" y="580.4" width="20.6" height="20.7" fill="#616161"/><rect x="506.1" y="580.4" width="20.6" height="20.7" fill="#737373"/><rect x="526.2" y="580.4" width="20.6" height="20.7" fill="#808080"/><rect x="546.3" y="580.4" width="20.6" height="20.7" fill="#383838"/><rect x="566.4" y="580.4" width="20.6" height="20.7" fill="#1f1f1f"/><rect x="586.4" y="580.4" width="20.6" height="20.7" fill="#1a1a1a"/><rect x="606.5" y="580.4" width="20.6" height="20.7" fill="#1f1f1f"/><rect x="626.6" y="580.4" width="40.5" height="20.7" fill="#333333"/><rect x="345.6" y="600.5" width="40.5" height="20.7" fill="#666666"/><rect x="385.6" y="600.5" width="20.6" height="20.7" fill="#4c4c4c"/><rect x="405.7" y="600.5" width="20.6" height="20.7" fill="#383838"/><rect x="425.8" y="600.5" width="20.6" height="20.7" fill="#292929"/><rect x="445.9" y="600.5" width="20.6" height="20.7" fill="#171717"/><rect x="466.0" y="600.5" width="20.6" height="20.7" fill="#474747"/><rect x="486.0" y="600.5" width="20.6" height="20.7" fill="#525252"/><rect x="506.1" y="600.5" width="20.6" height="20.7" fill="#525252"/><rect x="526.2" y="600.5" width="20.6" height="20.7" fill="#525252"/><rect x="546.3" y="600.5" width="20.6" height="20.7" fill="#333333"/><rect x="566.4" y="600.5" width="20.6" height="20.7" fill="#262626"/><rect x="586.4" y="600.5" width="20.6" height="20.7" fill="#262626"/><rect x="606.5" y="600.5" width="20.6" height="20.7" fill="#262626"/><rect x="626.6" y="600.5" width="40.5" height="20.7" fill="#292929"/><rect x="345.6" y="620.7" width="40.5" height="20.7" fill="#474747"/><rect x="385.6" y="620.7" width="20.6" height="20.7" fill="#3d3d3d"/><rect x="405.7" y="620.7" width="20.6" height="20.7" fill="#383838"/><rect x="425.8" y="620.7" width="20.6" height="20.7" fill="#333333"/><rect x="445.9" y="620.7" width="20.6" height="20.7" fill="#2e2e2e"/><rect x="466.0" y="620.7" width="20.6" height="20.7" fill="#424242"/><rect x="486.0" y="620.7" width="20.6" height="20.7" fill="#424242"/><rect x="506.1" y="620.7" width="20.6" height="20.7" fill="#383838"/><rect x="526.2" y="620.7" width="20.6" height="20.7" fill="#2e2e2e"/><rect x="546.3" y="620.7" width="20.6" height="20.7" fill="#262626"/><rect x="566.4" y="620.7" width="20.6" height="20.7" fill="#2e2e2e"/><rect x="586.4" y="620.7" width="20.6" height="20.7" fill="#2e2e2e"/><rect x="606.5" y="620.7" width="20.6" height="20.7" fill="#383838"/><rect x="626.6" y="620.7" width="40.5" height="20.7" fill="#3d3d3d"/><rect x="345.6" y="640.9" width="40.5" height="40.6" fill="#5c5c5c"/><rect x="385.6" y="640.9" width="20.6" height="40.6" fill="#474747"/><rect x="405.7" y="640.9" width="20.6" height="40.6" fill="#383838"/><rect x="425.8" y="640.9" width="20.6" height="40.6" fill="#333333"/><rect x="445.9" y="640.9" width="20.6" height="40.6" fill="#303030"/><rect x="466.0" y="640.9" width="20.6" height="40.6" fill="#383838"/><rect x="486.0" y="640.9" width="20.6" height="40.6" fill="#383838"/><rect x="506.1" y="640.9" width="20.6" height="40.6" fill="#2e2e2e"/><rect x="526.2" y="640.9" width="20.6" height="40.6" fill="#262626"/><rect x="546.3" y="640.9" width="20.6" height="40.6" fill="#262626"/><rect x="566.4" y="640.9" width="20.6" height="40.6" fill="#2e2e2e"/><rect x="586.4" y="640.9" width="20.6" height="40.6" fill="#383838"/><rect x="606.5" y="640.9" width="20.6" height="40.6" fill="#474747"/><rect x="626.6" y="640.9" width="40.5" height="40.6" fill="#474747"/></g><g filter="url(#be2)"><polygon points="468,520 512,519 524,536 530,562 552,584 560,600 544,616 515,604 478,600 452,583 454,548" fill="#666666"/></g><g filter="url(#be3)"><polygon points="474,528 508,527 513,540 520,560 524,575 540,590 550,598 541,607 522,598 505,592 477,591 458,575 465,548" fill="#999999"/><polygon points="503,529 507,529 507,562 503,562" fill="#adadad"/><polygon points="474,537 481,539 484,556 491,568 508,584 506,590 476,590 459,572" fill="#bdbdbd"/><polygon points="489,545 505,553 519,571 507,587 491,571" fill="#c9c9c9"/><polygon points="544,585 557,598 544,611 531,598" fill="#adadad"/></g><g filter="url(#be3)"><polygon points="475,536 482,538 485,556 492,567 510,584 508,590 476,591 457,571" fill="#dbdbdb"/></g><g filter="url(#be4)"><polygon points="476.5,540.5 479,541 481,558 488.5,570 505.5,585 505,587 477,587 462.5,571.5" fill="#fafafa"/></g></g></g><path d="M386 526.5C398 523 410 521 420 518.5C435 514.5 450 509 465 502C472 498 478 494 485 494.5C495 495 505 502 514 506C520 509 524 508 532 504.5C538 509 545 515 548 524C550 531 546 541 549 547C553 556 560 563 570 566.5C578 569 588 566 594 572C600 578 604 586 601 591C596 598 590 604 584 609C576 615 569 621 566 628C563 635 566 642 560 648L557 652" fill="none" stroke="#fff" stroke-width="2.7" stroke-dasharray="10 6"/><rect x="389.4" y="636" width="65.4" height="4.3" fill="#fff"/><text x="397" y="629.5" font-size="18.6" fill="#fff">10 µm</text><rect x="374.6" y="488.7" width="263" height="163" fill="none" stroke="#000" stroke-width="2"/><g filter="url(#infm)"><rect x="645.7" y="595.8" width="10" height="57" fill="url(#cbd)"/></g><rect x="645.7" y="595.8" width="10" height="57" fill="none" stroke="#000" stroke-width="2"/><text x="660.5" y="605.6" font-size="14.5">10<tspan dy="-5.5" font-size="10">0</tspan></text><text x="660.5" y="652.8" font-size="14.5">10<tspan dy="-5.5" font-size="10">-2</tspan></text><text transform="translate(659 583) rotate(-90)" font-size="19"><tspan font-style="italic">I</tspan><tspan font-size="13" dy="4">SiV</tspan><tspan font-size="9" dy="-9">-</tspan><tspan dy="5"> (arb.u.)</tspan></text></g>
</svg></body></html>
